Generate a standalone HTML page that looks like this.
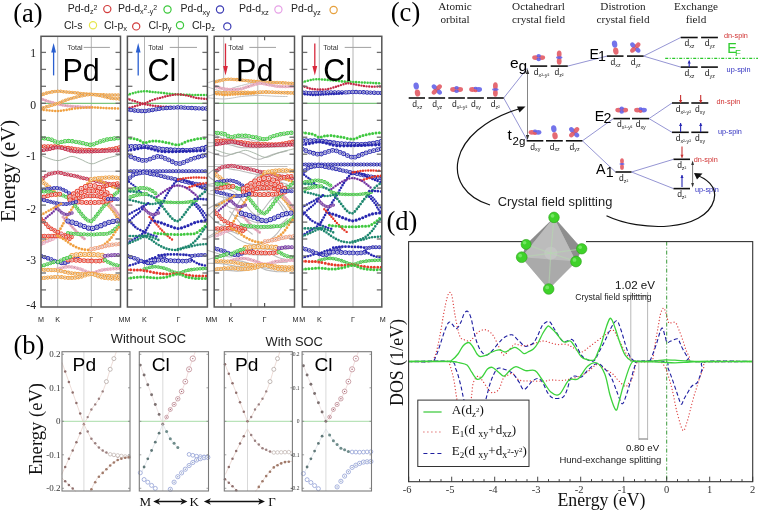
<!DOCTYPE html><html><head><meta charset="utf-8"><style>html,body{margin:0;padding:0;background:#fff;width:758px;height:511px;overflow:hidden}svg{display:block;will-change:transform}</style></head><body>
<svg width="758" height="511" viewBox="0 0 758 511">
<rect width="758" height="511" fill="#fff"/>
<text x="67.7" y="12.2" font-family='"Liberation Sans",sans-serif' font-size="10.5" fill="#222" text-anchor="start" >Pd-d<tspan font-size="7" dy="2">z</tspan><tspan font-size="7" dy="-4">2</tspan></text>
<circle cx="107.3" cy="9.1" r="3.6" fill="none" stroke="#d23c3c" stroke-width="1.2"/>
<text x="117.9" y="12.2" font-family='"Liberation Sans",sans-serif' font-size="10.5" fill="#222" text-anchor="start" >Pd-d<tspan font-size="7" dy="2">x</tspan><tspan font-size="7" dy="-4">2</tspan><tspan font-size="7" dy="4">-y</tspan><tspan font-size="7" dy="-4">2</tspan></text>
<circle cx="167.5" cy="9.5" r="3.6" fill="none" stroke="#3cc83c" stroke-width="1.2"/>
<text x="180.4" y="12.2" font-family='"Liberation Sans",sans-serif' font-size="10.5" fill="#222" text-anchor="start" >Pd-d<tspan font-size="7.5" dy="2.5">xy</tspan></text>
<circle cx="220" cy="9.5" r="3.6" fill="none" stroke="#3c3cb4" stroke-width="1.2"/>
<text x="239" y="12.2" font-family='"Liberation Sans",sans-serif' font-size="10.5" fill="#222" text-anchor="start" >Pd-d<tspan font-size="7.5" dy="2.5">xz</tspan></text>
<circle cx="278.4" cy="9.5" r="3.6" fill="none" stroke="#e6a0e6" stroke-width="1.2"/>
<text x="291" y="12.2" font-family='"Liberation Sans",sans-serif' font-size="10.5" fill="#222" text-anchor="start" >Pd-d<tspan font-size="7.5" dy="2.5">yz</tspan></text>
<circle cx="333.6" cy="10" r="3.6" fill="none" stroke="#e6a03c" stroke-width="1.2"/>
<text x="63.9" y="28.5" font-family='"Liberation Sans",sans-serif' font-size="10.5" fill="#222" text-anchor="start" >Cl-s</text>
<circle cx="93" cy="25.3" r="3.6" fill="none" stroke="#e6e650" stroke-width="1.2"/>
<text x="104" y="28.5" font-family='"Liberation Sans",sans-serif' font-size="10.5" fill="#222" text-anchor="start" >Cl-p<tspan font-size="7.5" dy="2.5">x</tspan></text>
<circle cx="136.2" cy="26.4" r="3.6" fill="none" stroke="#d23c3c" stroke-width="1.2"/>
<text x="148.5" y="28.5" font-family='"Liberation Sans",sans-serif' font-size="10.5" fill="#222" text-anchor="start" >Cl-p<tspan font-size="7.5" dy="2.5">y</tspan></text>
<circle cx="180" cy="25.3" r="3.6" fill="none" stroke="#3cc83c" stroke-width="1.2"/>
<text x="191.9" y="28.5" font-family='"Liberation Sans",sans-serif' font-size="10.5" fill="#222" text-anchor="start" >Cl-p<tspan font-size="7.5" dy="2.5">z</tspan></text>
<circle cx="227.3" cy="26.4" r="3.6" fill="none" stroke="#3c3cb4" stroke-width="1.2"/>
<line x1="57.7" y1="36.3" x2="57.7" y2="307" stroke="#b4b4b4" stroke-width="1"/>
<line x1="91.3" y1="36.3" x2="91.3" y2="307" stroke="#b4b4b4" stroke-width="1"/>
<line x1="41" y1="103.3" x2="120.5" y2="103.3" stroke="#7cc47c" stroke-width="1.2"/>
<line x1="144.5" y1="36.3" x2="144.5" y2="307" stroke="#b4b4b4" stroke-width="1"/>
<line x1="178.4" y1="36.3" x2="178.4" y2="307" stroke="#b4b4b4" stroke-width="1"/>
<line x1="127.4" y1="103.3" x2="207.4" y2="103.3" stroke="#7cc47c" stroke-width="1.2"/>
<line x1="223.7" y1="36.3" x2="223.7" y2="307" stroke="#b4b4b4" stroke-width="1"/>
<line x1="257.8" y1="36.3" x2="257.8" y2="307" stroke="#b4b4b4" stroke-width="1"/>
<line x1="214.2" y1="103.3" x2="294.5" y2="103.3" stroke="#7cc47c" stroke-width="1.2"/>
<line x1="319.3" y1="36.3" x2="319.3" y2="307" stroke="#b4b4b4" stroke-width="1"/>
<line x1="353" y1="36.3" x2="353" y2="307" stroke="#b4b4b4" stroke-width="1"/>
<line x1="302.3" y1="103.3" x2="381.8" y2="103.3" stroke="#7cc47c" stroke-width="1.2"/>
<clipPath id="cp0"><rect x="41" y="36.3" width="79.5" height="270.7"/></clipPath>
<clipPath id="cp1"><rect x="127.4" y="36.3" width="80.0" height="270.7"/></clipPath>
<clipPath id="cp2"><rect x="214.2" y="36.3" width="80.30000000000001" height="270.7"/></clipPath>
<clipPath id="cp3"><rect x="302.3" y="36.3" width="79.5" height="270.7"/></clipPath>
<clipPath id="cpo"><rect x="207.8" y="36.3" width="86.7" height="270.7"/></clipPath>
<g clip-path="url(#cpo)" opacity="0.9">
<path d="M207.2,134.6 C208.9,134.8 214.5,135.3 217.3,136.1 C220.1,136.9 222.0,138.8 224.1,139.2 C226.1,139.5 227.4,138.3 229.4,138.0 C231.5,137.8 233.6,137.5 236.5,137.6 C239.4,137.8 243.0,138.4 246.6,139.0 C250.2,139.6 254.6,141.3 258.0,141.2 C261.4,141.0 263.6,138.9 266.8,138.0 C269.9,137.1 273.4,136.2 276.9,135.6 C280.3,135.0 285.7,134.7 287.5,134.6" fill="none" stroke="#b4b4b4" stroke-width="1.1"/>
<path d="M207.2,142.7 C208.5,142.7 212.5,142.7 215.3,142.7 C218.1,142.7 221.4,142.7 224.1,142.9 C226.8,143.1 229.0,143.4 231.4,143.8 C233.8,144.1 236.0,144.4 238.5,144.7 C241.0,145.0 243.3,145.4 246.6,145.7 C249.8,145.9 254.6,146.0 258.0,146.1 C261.4,146.3 263.6,146.5 266.8,146.4 C269.9,146.3 273.4,146.0 276.9,145.5 C280.3,144.9 285.7,143.6 287.5,143.3" fill="none" stroke="#b4b4b4" stroke-width="1.1"/>
<path d="M207.2,146.7 C208.7,146.5 213.5,145.7 216.3,145.2 C219.1,144.7 221.5,143.8 224.1,143.8 C226.6,143.8 228.5,144.5 231.4,145.2 C234.4,145.8 237.1,147.2 241.5,147.6 C246.0,148.0 253.0,147.7 258.0,147.6 C263.1,147.5 266.9,147.3 271.8,147.1 C276.8,146.9 284.9,146.7 287.5,146.6" fill="none" stroke="#b4b4b4" stroke-width="1.1"/>
<path d="M207.2,151.2 C208.5,151.7 212.5,153.4 215.3,154.3 C218.1,155.1 221.4,156.3 224.1,156.3 C226.8,156.3 229.0,154.9 231.4,154.3 C233.8,153.6 236.0,152.2 238.5,152.3 C241.0,152.3 243.3,153.6 246.6,154.8 C249.8,155.9 254.6,159.0 258.0,159.4 C261.4,159.7 264.0,157.6 266.8,156.7 C269.6,155.7 271.4,154.8 274.9,153.8 C278.3,152.8 285.4,151.2 287.5,150.7" fill="none" stroke="#b4b4b4" stroke-width="1.1"/>
<path d="M207.2,166.5 C220.6,166.5 274.1,166.5 287.5,166.5" fill="none" stroke="#b4b4b4" stroke-width="1.1"/>
<path d="M207.2,174.9 C208.2,174.1 211.4,171.1 213.3,170.1 C215.1,169.0 216.5,168.9 218.3,168.5 C220.1,168.1 221.9,167.6 224.1,167.7 C226.3,167.8 228.5,168.6 231.4,169.1 C234.4,169.7 238.5,170.4 241.5,171.0 C244.6,171.7 246.9,172.3 249.6,172.9 C252.4,173.5 255.1,174.0 258.0,174.7 C260.9,175.3 263.6,176.1 266.8,176.8 C269.9,177.4 273.4,178.0 276.9,178.7 C280.3,179.3 285.7,180.3 287.5,180.6" fill="none" stroke="#b4b4b4" stroke-width="1.1"/>
<path d="M207.2,174.9 C207.7,175.3 209.1,176.8 210.2,177.7 C211.4,178.7 212.9,179.5 214.3,180.6 C215.6,181.7 216.8,183.0 218.3,184.4 C219.8,185.9 222.5,188.4 223.4,189.2" fill="none" stroke="#b4b4b4" stroke-width="1.1"/>
<path d="M207.2,237.4 C208.7,236.5 213.5,233.6 216.3,231.9 C219.1,230.1 222.0,228.8 224.1,226.8 C226.1,224.9 226.7,223.2 228.4,220.3 C230.1,217.3 232.3,212.9 234.5,209.2 C236.7,205.4 239.0,202.2 241.5,198.0 C244.1,193.9 246.9,188.3 249.6,184.4 C252.4,180.6 255.1,176.3 258.0,174.9 C260.9,173.4 264.0,175.0 266.8,175.8 C269.6,176.6 272.3,178.5 274.9,179.6 C277.4,180.8 279.8,181.7 281.9,182.5 C284.0,183.3 286.6,184.1 287.5,184.4" fill="none" stroke="#b4b4b4" stroke-width="1.1"/>
<path d="M272.9,197.0 C273.5,197.7 275.5,199.6 276.9,201.1 C278.2,202.6 279.8,204.4 280.9,206.1 C282.1,207.8 282.9,209.7 284.0,211.2 C285.1,212.7 286.9,214.5 287.5,215.2" fill="none" stroke="#b4b4b4" stroke-width="1.1"/>
<path d="M272.9,195.0 C273.7,195.7 276.2,197.4 277.9,199.1 C279.6,200.7 281.4,203.1 283.0,205.1 C284.6,207.1 286.7,210.2 287.5,211.2" fill="none" stroke="#b4b4b4" stroke-width="1.1"/>
<path d="M229.4,211.2 C230.3,212.0 232.5,214.0 234.5,216.2 C236.5,218.4 239.4,221.9 241.5,224.3 C243.7,226.7 245.8,228.7 247.6,230.4 C249.5,232.0 251.8,233.7 252.7,234.4" fill="none" stroke="#b4b4b4" stroke-width="1.1"/>
<path d="M258.0,174.4 C259.5,174.1 263.6,173.3 266.8,172.9 C269.9,172.6 273.4,172.5 276.9,172.5 C280.3,172.5 285.7,172.9 287.5,172.9" fill="none" stroke="#b4b4b4" stroke-width="1.1"/>
<path d="M266.8,182.5 C267.8,182.2 270.7,181.2 272.9,180.6 C275.0,180.0 277.5,179.2 279.9,178.7 C282.4,178.2 286.2,177.9 287.5,177.7" fill="none" stroke="#b4b4b4" stroke-width="1.1"/>
<path d="M207.2,184.7 C208.7,184.4 213.5,183.4 216.3,183.0 C219.1,182.6 221.7,182.3 224.1,182.5 C226.4,182.8 228.4,183.5 230.4,184.4 C232.5,185.4 235.5,187.6 236.5,188.3" fill="none" stroke="#b4b4b4" stroke-width="1.1"/>
<path d="M207.2,185.8 C208.7,185.9 213.5,185.9 216.3,186.3 C219.1,186.8 221.9,187.7 224.1,188.3 C226.3,188.8 227.7,189.1 229.4,189.7 C231.2,190.3 232.8,190.9 234.5,192.1 C236.2,193.3 237.5,194.7 239.5,197.0 C241.5,199.4 244.4,203.4 246.6,206.1 C248.8,208.8 250.8,211.7 252.7,213.2 C254.6,214.7 256.2,216.0 258.0,215.3 C259.9,214.6 261.8,211.5 263.8,209.2 C265.7,206.8 268.0,203.3 269.8,201.1 C271.7,198.9 273.0,198.0 274.9,196.0 C276.7,194.0 278.8,191.1 280.9,189.2 C283.0,187.3 286.4,185.2 287.5,184.4" fill="none" stroke="#b4b4b4" stroke-width="1.1"/>
<path d="M210.2,191.1 C211.1,190.9 213.6,190.1 215.3,189.7 C217.0,189.3 218.5,189.0 220.3,188.7 C222.2,188.5 225.4,188.3 226.4,188.3" fill="none" stroke="#b4b4b4" stroke-width="1.1"/>
<path d="M236.5,191.1 C237.5,190.4 240.4,188.3 242.6,186.8 C244.7,185.4 247.0,183.6 249.6,182.5 C252.2,181.4 255.1,180.1 258.0,180.1 C260.9,180.1 264.3,181.4 266.8,182.5 C269.3,183.6 271.0,185.4 272.9,186.8 C274.7,188.3 277.1,190.4 277.9,191.1" fill="none" stroke="#b4b4b4" stroke-width="1.1"/>
<path d="M236.5,194.0 C237.8,194.3 241.0,195.6 244.6,196.0 C248.2,196.4 254.0,196.5 258.0,196.5 C262.0,196.5 265.5,196.4 268.8,196.0 C272.1,195.6 276.4,194.3 277.9,194.0" fill="none" stroke="#b4b4b4" stroke-width="1.1"/>
<path d="M240.5,191.1 C242.0,190.3 246.7,187.3 249.6,186.3 C252.5,185.4 255.1,185.4 258.0,185.4 C260.9,185.4 264.0,185.4 266.8,186.3 C269.6,187.3 273.5,190.3 274.9,191.1" fill="none" stroke="#b4b4b4" stroke-width="1.1"/>
<path d="M242.6,193.0 C243.9,192.6 248.1,191.1 250.6,190.7 C253.2,190.2 255.5,190.2 258.0,190.2 C260.5,190.2 263.3,190.2 265.8,190.7 C268.3,191.1 271.7,192.6 272.9,193.0" fill="none" stroke="#b4b4b4" stroke-width="1.1"/>
<path d="M207.2,193.5 C208.7,193.9 213.5,194.8 216.3,195.5 C219.1,196.2 221.5,197.1 224.1,197.5 C226.6,198.0 229.0,198.1 231.4,198.0 C233.8,198.0 236.3,197.5 238.5,197.0 C240.7,196.5 243.6,195.3 244.6,195.0" fill="none" stroke="#b4b4b4" stroke-width="1.1"/>
<path d="M274.9,193.0 C275.9,193.0 278.8,193.0 280.9,193.0 C283.0,193.1 286.4,193.4 287.5,193.5" fill="none" stroke="#b4b4b4" stroke-width="1.1"/>
<path d="M234.5,215.2 C235.7,215.5 239.0,216.4 241.5,217.2 C244.1,218.1 246.9,219.3 249.6,220.3 C252.4,221.2 255.1,222.8 258.0,222.8 C260.9,222.8 263.6,221.4 266.8,220.3 C269.9,219.2 273.4,217.1 276.9,216.2 C280.3,215.3 285.7,215.0 287.5,214.7" fill="none" stroke="#b4b4b4" stroke-width="1.1"/>
<path d="M234.5,227.3 C236.2,227.5 240.6,228.1 244.6,228.3 C248.5,228.6 254.3,228.8 258.0,228.8 C261.7,228.8 264.0,228.5 266.8,228.3 C269.6,228.2 272.3,228.7 274.9,227.8 C277.4,227.0 279.8,224.9 281.9,223.3 C284.0,221.7 286.6,219.1 287.5,218.2" fill="none" stroke="#b4b4b4" stroke-width="1.1"/>
<path d="M222.4,201.1 C223.0,201.7 225.2,204.0 226.4,205.1 C227.6,206.2 228.2,207.0 229.4,207.6 C230.6,208.2 231.9,208.7 233.5,208.6 C235.0,208.6 237.7,207.4 238.5,207.1" fill="none" stroke="#b4b4b4" stroke-width="1.1"/>
<path d="M207.2,209.2 C208.7,208.3 213.5,205.6 216.3,204.1 C219.1,202.6 222.0,201.2 224.1,200.1 C226.1,198.9 227.7,197.5 228.4,197.0" fill="none" stroke="#b4b4b4" stroke-width="1.1"/>
<path d="M208.2,216.2 C209.1,215.4 211.6,212.7 213.3,211.2 C214.9,209.7 216.6,208.6 218.3,207.1 C220.0,205.6 222.5,202.9 223.4,202.1" fill="none" stroke="#b4b4b4" stroke-width="1.1"/>
<path d="M207.2,213.2 C208.0,214.0 210.7,216.7 212.3,218.2 C213.8,219.8 214.3,220.9 216.3,222.3 C218.3,223.6 221.5,225.1 224.1,226.3 C226.6,227.5 229.0,228.5 231.4,229.3 C233.8,230.2 237.3,231.0 238.5,231.4" fill="none" stroke="#b4b4b4" stroke-width="1.1"/>
<path d="M207.2,238.4 C208.7,237.8 213.5,235.7 216.3,234.4 C219.1,233.1 222.0,231.9 224.1,230.9 C226.1,229.9 227.7,228.8 228.4,228.3" fill="none" stroke="#b4b4b4" stroke-width="1.1"/>
<path d="M207.2,230.4 C208.7,230.4 213.5,230.4 216.3,230.4 C219.1,230.4 221.5,230.2 224.1,230.4 C226.6,230.5 229.0,230.7 231.4,231.4 C233.8,232.0 237.3,233.9 238.5,234.4" fill="none" stroke="#b4b4b4" stroke-width="1.1"/>
<path d="M224.1,230.4 C225.3,231.0 229.0,232.9 231.4,234.4 C233.8,235.9 235.8,237.9 238.5,239.4 C241.2,241.0 244.4,242.6 247.6,243.5 C250.9,244.3 255.3,244.8 258.0,244.5 C260.7,244.2 261.7,242.8 263.8,242.0 C265.8,241.1 268.1,240.9 270.3,239.4 C272.6,238.0 274.9,236.0 277.2,233.4 C279.5,230.7 282.4,225.8 284.2,223.6 C285.9,221.4 286.9,220.8 287.5,220.3" fill="none" stroke="#b4b4b4" stroke-width="1.1"/>
<path d="M258.0,243.5 C259.5,243.2 263.6,242.6 266.8,242.0 C269.9,241.3 273.4,240.0 276.9,239.4 C280.3,238.9 285.7,238.6 287.5,238.4" fill="none" stroke="#b4b4b4" stroke-width="1.1"/>
<path d="M207.2,250.2 C208.7,250.7 213.5,252.1 216.3,253.1 C219.1,254.0 221.5,255.3 224.1,255.9 C226.6,256.5 229.0,257.3 231.4,256.9 C233.8,256.4 236.3,254.2 238.5,253.1 C240.7,251.9 243.6,250.7 244.6,250.2" fill="none" stroke="#b4b4b4" stroke-width="1.1"/>
<path d="M238.5,249.7 C239.9,249.6 243.3,248.9 246.6,248.8 C249.8,248.6 254.6,248.7 258.0,248.8 C261.4,248.9 264.3,249.0 266.8,249.2 C269.3,249.5 271.8,250.0 272.9,250.2" fill="none" stroke="#b4b4b4" stroke-width="1.1"/>
<path d="M234.5,254.0 C236.5,254.1 242.7,254.3 246.6,254.5 C250.5,254.6 254.6,254.9 258.0,254.9 C261.4,255.0 264.3,255.2 266.8,254.9 C269.3,254.7 271.8,253.8 272.9,253.5" fill="none" stroke="#b4b4b4" stroke-width="1.1"/>
<path d="M224.4,255.9 C225.4,255.4 228.4,253.8 230.4,253.1 C232.5,252.3 235.5,251.5 236.5,251.2" fill="none" stroke="#b4b4b4" stroke-width="1.1"/>
<path d="M271.8,254.0 C273.0,254.6 276.3,256.9 278.9,257.8 C281.5,258.8 286.1,259.4 287.5,259.7" fill="none" stroke="#b4b4b4" stroke-width="1.1"/>
<path d="M207.2,259.7 C208.4,259.4 212.1,258.4 214.3,257.8 C216.5,257.2 219.3,256.2 220.3,255.9" fill="none" stroke="#b4b4b4" stroke-width="1.1"/>
<path d="M271.8,250.2 C273.2,250.0 277.3,249.4 279.9,249.2 C282.5,249.1 286.2,249.2 287.5,249.2" fill="none" stroke="#b4b4b4" stroke-width="1.1"/>
<path d="M224.1,262.6 C225.3,262.2 229.0,261.0 231.4,260.6 C233.8,260.3 236.0,260.3 238.5,260.6 C241.0,261.0 243.3,261.6 246.6,262.6 C249.8,263.5 254.6,266.1 258.0,266.4 C261.4,266.6 263.6,264.6 266.8,264.0 C269.9,263.3 273.4,262.9 276.9,262.6 C280.3,262.2 285.7,262.2 287.5,262.1" fill="none" stroke="#b4b4b4" stroke-width="1.1"/>
<path d="M207.2,263.2 C208.7,263.3 213.5,263.4 216.3,263.5 C219.1,263.6 220.7,263.5 224.1,264.0 C227.4,264.5 232.7,265.8 236.5,266.4 C240.2,266.9 243.0,267.2 246.6,267.3 C250.2,267.4 254.6,266.7 258.0,266.8 C261.4,267.0 263.6,267.9 266.8,268.2 C269.9,268.6 273.4,269.0 276.9,269.2 C280.3,269.4 285.7,269.2 287.5,269.2" fill="none" stroke="#b4b4b4" stroke-width="1.1"/>
<path d="M207.2,271.3 C210.0,271.1 219.2,270.2 224.1,270.1 C229.0,270.1 232.7,271.1 236.5,271.1 C240.2,271.1 243.0,270.8 246.6,270.1 C250.2,269.5 254.6,267.3 258.0,267.3 C261.4,267.3 263.6,269.4 266.8,270.1 C269.9,270.9 273.4,271.3 276.9,271.6 C280.3,271.8 285.7,271.6 287.5,271.6" fill="none" stroke="#b4b4b4" stroke-width="1.1"/>
<path d="M207.2,83.0 C208.5,82.6 212.5,81.1 215.3,80.5 C218.1,79.9 221.2,79.3 224.1,79.2 C226.9,79.1 229.5,79.7 232.5,80.0 C235.4,80.3 238.7,80.5 241.5,80.8 C244.4,81.1 246.9,81.5 249.6,81.8 C252.4,82.1 255.1,82.2 258.0,82.4 C260.9,82.6 263.6,82.7 266.8,82.8 C269.9,82.9 273.4,83.0 276.9,83.0 C280.3,83.0 285.7,83.0 287.5,83.0" fill="none" stroke="#bcbcbc" stroke-width="1"/>
<path d="M207.2,86.8 C208.5,87.2 212.5,88.6 215.3,89.5 C218.1,90.4 221.2,91.3 224.1,92.0 C226.9,92.7 229.5,93.2 232.5,93.6 C235.4,94.0 238.7,94.3 241.5,94.5 C244.4,94.7 246.9,94.9 249.6,95.0 C252.4,95.1 256.6,95.2 258.0,95.2" fill="none" stroke="#bcbcbc" stroke-width="1"/>
<path d="M207.2,96.5 C208.5,96.1 212.5,94.8 215.3,94.0 C218.1,93.2 221.2,92.5 224.1,91.5 C226.9,90.5 229.5,89.0 232.5,88.0 C235.4,87.0 238.7,86.2 241.5,85.5 C244.4,84.8 246.9,84.0 249.6,83.5 C252.4,83.0 255.1,82.4 258.0,82.4 C260.9,82.4 263.6,82.9 266.8,83.5 C269.9,84.1 273.4,85.4 276.9,86.0 C280.3,86.6 285.7,86.8 287.5,87.0" fill="none" stroke="#bcbcbc" stroke-width="1"/>
<path d="M207.2,97.6 C208.5,97.8 212.5,98.3 215.3,98.5 C218.1,98.7 221.2,99.1 224.1,99.0 C226.9,98.9 229.5,98.4 232.5,98.0 C235.4,97.6 237.3,96.9 241.5,96.5 C245.8,96.1 253.8,95.5 258.0,95.4 C262.2,95.3 263.6,95.7 266.8,95.8 C269.9,95.9 273.4,96.2 276.9,96.3 C280.3,96.4 285.7,96.5 287.5,96.5" fill="none" stroke="#bcbcbc" stroke-width="1"/>
</g>
<g clip-path="url(#cp0)">
<path d="M41.0,95.0 C42.3,94.6 46.2,93.1 49.0,92.5 C51.8,91.9 54.9,91.3 57.7,91.2 C60.5,91.1 63.1,91.7 66.0,92.0 C68.9,92.3 72.2,92.5 75.0,92.8 C77.8,93.1 80.3,93.5 83.0,93.8 C85.7,94.1 88.5,94.2 91.3,94.4 C94.1,94.6 96.9,94.7 100.0,94.8 C103.1,94.9 106.6,95.0 110.0,95.0 C113.4,95.0 118.8,95.0 120.5,95.0" fill="none" stroke="#f0a040" stroke-width="3.60" stroke-dasharray="0 2.88" stroke-linecap="round"/>
<path d="M41.0,95.0 C42.3,94.6 46.2,93.1 49.0,92.5 C51.8,91.9 54.9,91.3 57.7,91.2 C60.5,91.1 63.1,91.7 66.0,92.0 C68.9,92.3 72.2,92.5 75.0,92.8 C77.8,93.1 80.3,93.5 83.0,93.8 C85.7,94.1 88.5,94.2 91.3,94.4 C94.1,94.6 96.9,94.7 100.0,94.8 C103.1,94.9 106.6,95.0 110.0,95.0 C113.4,95.0 118.8,95.0 120.5,95.0" fill="none" stroke="#fae4c9" stroke-width="2.00" stroke-dasharray="0 2.88" stroke-linecap="round"/>
<path d="M41.0,95.0 C42.3,94.6 46.2,93.1 49.0,92.5 C51.8,91.9 54.9,91.3 57.7,91.2 C60.5,91.1 63.1,91.7 66.0,92.0 C68.9,92.3 72.2,92.5 75.0,92.8 C77.8,93.1 80.3,93.5 83.0,93.8 C85.7,94.1 88.5,94.2 91.3,94.4 C94.1,94.6 96.9,94.7 100.0,94.8 C103.1,94.9 106.6,95.0 110.0,95.0 C113.4,95.0 118.8,95.0 120.5,95.0" fill="none" stroke="#a8702c" stroke-width="1" stroke-dasharray="0 2.88" stroke-linecap="round"/>
<path d="M41.0,98.8 C42.3,99.2 46.2,100.6 49.0,101.5 C51.8,102.4 54.9,103.3 57.7,104.0 C60.5,104.7 63.1,105.2 66.0,105.6 C68.9,106.0 72.2,106.3 75.0,106.5 C77.8,106.7 80.3,106.9 83.0,107.0 C85.7,107.1 89.9,107.2 91.3,107.2" fill="none" stroke="#e8a0b8" stroke-width="3.20" stroke-dasharray="0 2.52" stroke-linecap="round"/>
<path d="M41.0,98.8 C42.3,99.2 46.2,100.6 49.0,101.5 C51.8,102.4 54.9,103.3 57.7,104.0 C60.5,104.7 63.1,105.2 66.0,105.6 C68.9,106.0 72.2,106.3 75.0,106.5 C77.8,106.7 80.3,106.9 83.0,107.0 C85.7,107.1 89.9,107.2 91.3,107.2" fill="none" stroke="#f8e4eb" stroke-width="1.60" stroke-dasharray="0 2.52" stroke-linecap="round"/>
<path d="M41.0,98.8 C42.3,99.2 46.2,100.6 49.0,101.5 C51.8,102.4 54.9,103.3 57.7,104.0 C60.5,104.7 63.1,105.2 66.0,105.6 C68.9,106.0 72.2,106.3 75.0,106.5 C77.8,106.7 80.3,106.9 83.0,107.0 C85.7,107.1 89.9,107.2 91.3,107.2" fill="none" stroke="#a27080" stroke-width="1" stroke-dasharray="0 2.52" stroke-linecap="round"/>
<path d="M41.0,108.5 C42.3,108.1 46.2,106.8 49.0,106.0 C51.8,105.2 54.9,104.5 57.7,103.5 C60.5,102.5 63.1,101.0 66.0,100.0 C68.9,99.0 72.2,98.2 75.0,97.5 C77.8,96.8 80.3,96.0 83.0,95.5 C85.7,95.0 88.5,94.4 91.3,94.4 C94.1,94.4 96.9,94.9 100.0,95.5 C103.1,96.1 106.6,97.4 110.0,98.0 C113.4,98.6 118.8,98.8 120.5,99.0" fill="none" stroke="#f0a040" stroke-width="3.60" stroke-dasharray="0 2.88" stroke-linecap="round"/>
<path d="M41.0,108.5 C42.3,108.1 46.2,106.8 49.0,106.0 C51.8,105.2 54.9,104.5 57.7,103.5 C60.5,102.5 63.1,101.0 66.0,100.0 C68.9,99.0 72.2,98.2 75.0,97.5 C77.8,96.8 80.3,96.0 83.0,95.5 C85.7,95.0 88.5,94.4 91.3,94.4 C94.1,94.4 96.9,94.9 100.0,95.5 C103.1,96.1 106.6,97.4 110.0,98.0 C113.4,98.6 118.8,98.8 120.5,99.0" fill="none" stroke="#fae4c9" stroke-width="2.00" stroke-dasharray="0 2.88" stroke-linecap="round"/>
<path d="M41.0,108.5 C42.3,108.1 46.2,106.8 49.0,106.0 C51.8,105.2 54.9,104.5 57.7,103.5 C60.5,102.5 63.1,101.0 66.0,100.0 C68.9,99.0 72.2,98.2 75.0,97.5 C77.8,96.8 80.3,96.0 83.0,95.5 C85.7,95.0 88.5,94.4 91.3,94.4 C94.1,94.4 96.9,94.9 100.0,95.5 C103.1,96.1 106.6,97.4 110.0,98.0 C113.4,98.6 118.8,98.8 120.5,99.0" fill="none" stroke="#a8702c" stroke-width="1" stroke-dasharray="0 2.88" stroke-linecap="round"/>
<path d="M41.0,109.6 C42.3,109.8 46.2,110.3 49.0,110.5 C51.8,110.7 54.9,111.1 57.7,111.0 C60.5,110.9 63.1,110.4 66.0,110.0 C68.9,109.6 70.8,108.9 75.0,108.5 C79.2,108.1 87.1,107.5 91.3,107.4 C95.5,107.3 96.9,107.7 100.0,107.8 C103.1,107.9 106.6,108.2 110.0,108.3 C113.4,108.4 118.8,108.5 120.5,108.5" fill="none" stroke="#f0a040" stroke-width="2.60" stroke-dasharray="0 2.86" stroke-linecap="round"/>
<path d="M41.0,137.9 C42.7,138.2 48.2,138.7 51.0,139.5 C53.8,140.3 55.7,142.4 57.7,142.7 C59.7,143.0 61.0,141.8 63.0,141.5 C65.0,141.2 67.2,140.9 70.0,141.1 C72.8,141.3 76.5,141.9 80.0,142.5 C83.5,143.1 88.0,145.0 91.3,144.8 C94.6,144.6 96.9,142.5 100.0,141.5 C103.1,140.5 106.6,139.6 110.0,139.0 C113.4,138.4 118.8,138.1 120.5,137.9" fill="none" stroke="#40c840" stroke-width="4.40" stroke-dasharray="0 3.60" stroke-linecap="round"/>
<path d="M41.0,137.9 C42.7,138.2 48.2,138.7 51.0,139.5 C53.8,140.3 55.7,142.4 57.7,142.7 C59.7,143.0 61.0,141.8 63.0,141.5 C65.0,141.2 67.2,140.9 70.0,141.1 C72.8,141.3 76.5,141.9 80.0,142.5 C83.5,143.1 88.0,145.0 91.3,144.8 C94.6,144.6 96.9,142.5 100.0,141.5 C103.1,140.5 106.6,139.6 110.0,139.0 C113.4,138.4 118.8,138.1 120.5,137.9" fill="none" stroke="#c9efc9" stroke-width="2.80" stroke-dasharray="0 3.60" stroke-linecap="round"/>
<path d="M41.0,137.9 C42.7,138.2 48.2,138.7 51.0,139.5 C53.8,140.3 55.7,142.4 57.7,142.7 C59.7,143.0 61.0,141.8 63.0,141.5 C65.0,141.2 67.2,140.9 70.0,141.1 C72.8,141.3 76.5,141.9 80.0,142.5 C83.5,143.1 88.0,145.0 91.3,144.8 C94.6,144.6 96.9,142.5 100.0,141.5 C103.1,140.5 106.6,139.6 110.0,139.0 C113.4,138.4 118.8,138.1 120.5,137.9" fill="none" stroke="#2c8c2c" stroke-width="1" stroke-dasharray="0 3.60" stroke-linecap="round"/>
<path d="M41.0,146.4 C42.3,146.4 46.2,146.4 49.0,146.4 C51.8,146.4 55.0,146.4 57.7,146.6 C60.4,146.8 62.6,147.2 65.0,147.5 C67.4,147.8 69.5,148.2 72.0,148.5 C74.5,148.8 76.8,149.2 80.0,149.5 C83.2,149.8 88.0,149.9 91.3,150.0 C94.6,150.1 96.9,150.4 100.0,150.3 C103.1,150.2 106.6,149.9 110.0,149.3 C113.4,148.8 118.8,147.4 120.5,147.0" fill="none" stroke="#e63a2a" stroke-width="4.20" stroke-dasharray="0 3.42" stroke-linecap="round"/>
<path d="M41.0,146.4 C42.3,146.4 46.2,146.4 49.0,146.4 C51.8,146.4 55.0,146.4 57.7,146.6 C60.4,146.8 62.6,147.2 65.0,147.5 C67.4,147.8 69.5,148.2 72.0,148.5 C74.5,148.8 76.8,149.2 80.0,149.5 C83.2,149.8 88.0,149.9 91.3,150.0 C94.6,150.1 96.9,150.4 100.0,150.3 C103.1,150.2 106.6,149.9 110.0,149.3 C113.4,148.8 118.8,147.4 120.5,147.0" fill="none" stroke="#f8c7c3" stroke-width="2.60" stroke-dasharray="0 3.42" stroke-linecap="round"/>
<path d="M41.0,146.4 C42.3,146.4 46.2,146.4 49.0,146.4 C51.8,146.4 55.0,146.4 57.7,146.6 C60.4,146.8 62.6,147.2 65.0,147.5 C67.4,147.8 69.5,148.2 72.0,148.5 C74.5,148.8 76.8,149.2 80.0,149.5 C83.2,149.8 88.0,149.9 91.3,150.0 C94.6,150.1 96.9,150.4 100.0,150.3 C103.1,150.2 106.6,149.9 110.0,149.3 C113.4,148.8 118.8,147.4 120.5,147.0" fill="none" stroke="#a1281d" stroke-width="1" stroke-dasharray="0 3.42" stroke-linecap="round"/>
<path d="M41.0,150.6 C42.5,150.3 47.2,149.5 50.0,149.0 C52.8,148.5 55.2,147.5 57.7,147.5 C60.2,147.5 62.1,148.3 65.0,149.0 C67.9,149.7 70.6,151.1 75.0,151.5 C79.4,151.9 86.3,151.6 91.3,151.5 C96.3,151.4 100.1,151.2 105.0,151.0 C109.9,150.8 117.9,150.6 120.5,150.5" fill="none" stroke="#c42846" stroke-width="3.80" stroke-dasharray="0 3.06" stroke-linecap="round"/>
<path d="M41.0,150.6 C42.5,150.3 47.2,149.5 50.0,149.0 C52.8,148.5 55.2,147.5 57.7,147.5 C60.2,147.5 62.1,148.3 65.0,149.0 C67.9,149.7 70.6,151.1 75.0,151.5 C79.4,151.9 86.3,151.6 91.3,151.5 C96.3,151.4 100.1,151.2 105.0,151.0 C109.9,150.8 117.9,150.6 120.5,150.5" fill="none" stroke="#eec2cb" stroke-width="2.20" stroke-dasharray="0 3.06" stroke-linecap="round"/>
<path d="M41.0,150.6 C42.5,150.3 47.2,149.5 50.0,149.0 C52.8,148.5 55.2,147.5 57.7,147.5 C60.2,147.5 62.1,148.3 65.0,149.0 C67.9,149.7 70.6,151.1 75.0,151.5 C79.4,151.9 86.3,151.6 91.3,151.5 C96.3,151.4 100.1,151.2 105.0,151.0 C109.9,150.8 117.9,150.6 120.5,150.5" fill="none" stroke="#891c31" stroke-width="1" stroke-dasharray="0 3.06" stroke-linecap="round"/>
<path d="M41.0,155.3 C42.3,155.8 46.2,157.6 49.0,158.5 C51.8,159.4 55.0,160.6 57.7,160.6 C60.4,160.6 62.6,159.2 65.0,158.5 C67.4,157.8 69.5,156.3 72.0,156.4 C74.5,156.5 76.8,157.8 80.0,159.0 C83.2,160.2 88.0,163.5 91.3,163.8 C94.6,164.1 97.2,162.0 100.0,161.0 C102.8,160.0 104.6,159.0 108.0,158.0 C111.4,157.0 118.4,155.3 120.5,154.8" fill="none" stroke="#a0b0a0" stroke-width="0.9"/>
<path d="M41.0,171.3 C54.2,171.3 107.2,171.3 120.5,171.3" fill="none" stroke="#c8c8c8" stroke-width="0.8"/>
<path d="M41.0,180.0 C42.0,179.2 45.2,176.1 47.0,175.0 C48.8,173.9 50.2,173.8 52.0,173.4 C53.8,173.0 55.5,172.4 57.7,172.5 C59.9,172.6 62.1,173.4 65.0,174.0 C67.9,174.6 72.0,175.3 75.0,176.0 C78.0,176.7 80.3,177.4 83.0,178.0 C85.7,178.6 88.5,179.1 91.3,179.8 C94.1,180.5 96.9,181.3 100.0,182.0 C103.1,182.7 106.6,183.3 110.0,184.0 C113.4,184.7 118.8,185.7 120.5,186.0" fill="none" stroke="#c42846" stroke-width="4.00" stroke-dasharray="0 3.24" stroke-linecap="round"/>
<path d="M41.0,180.0 C42.0,179.2 45.2,176.1 47.0,175.0 C48.8,173.9 50.2,173.8 52.0,173.4 C53.8,173.0 55.5,172.4 57.7,172.5 C59.9,172.6 62.1,173.4 65.0,174.0 C67.9,174.6 72.0,175.3 75.0,176.0 C78.0,176.7 80.3,177.4 83.0,178.0 C85.7,178.6 88.5,179.1 91.3,179.8 C94.1,180.5 96.9,181.3 100.0,182.0 C103.1,182.7 106.6,183.3 110.0,184.0 C113.4,184.7 118.8,185.7 120.5,186.0" fill="none" stroke="#eec2cb" stroke-width="2.40" stroke-dasharray="0 3.24" stroke-linecap="round"/>
<path d="M41.0,180.0 C42.0,179.2 45.2,176.1 47.0,175.0 C48.8,173.9 50.2,173.8 52.0,173.4 C53.8,173.0 55.5,172.4 57.7,172.5 C59.9,172.6 62.1,173.4 65.0,174.0 C67.9,174.6 72.0,175.3 75.0,176.0 C78.0,176.7 80.3,177.4 83.0,178.0 C85.7,178.6 88.5,179.1 91.3,179.8 C94.1,180.5 96.9,181.3 100.0,182.0 C103.1,182.7 106.6,183.3 110.0,184.0 C113.4,184.7 118.8,185.7 120.5,186.0" fill="none" stroke="#891c31" stroke-width="1" stroke-dasharray="0 3.24" stroke-linecap="round"/>
<path d="M41.0,180.0 C41.5,180.5 42.8,182.0 44.0,183.0 C45.2,184.0 46.7,184.8 48.0,186.0 C49.3,187.2 50.5,188.5 52.0,190.0 C53.5,191.5 56.2,194.2 57.0,195.0" fill="none" stroke="#f0a040" stroke-width="4.40" stroke-dasharray="0 3.60" stroke-linecap="round"/>
<path d="M41.0,180.0 C41.5,180.5 42.8,182.0 44.0,183.0 C45.2,184.0 46.7,184.8 48.0,186.0 C49.3,187.2 50.5,188.5 52.0,190.0 C53.5,191.5 56.2,194.2 57.0,195.0" fill="none" stroke="#fae4c9" stroke-width="2.80" stroke-dasharray="0 3.60" stroke-linecap="round"/>
<path d="M41.0,180.0 C41.5,180.5 42.8,182.0 44.0,183.0 C45.2,184.0 46.7,184.8 48.0,186.0 C49.3,187.2 50.5,188.5 52.0,190.0 C53.5,191.5 56.2,194.2 57.0,195.0" fill="none" stroke="#a8702c" stroke-width="1" stroke-dasharray="0 3.60" stroke-linecap="round"/>
<path d="M41.0,243.0 C42.5,242.1 47.2,239.2 50.0,237.5 C52.8,235.8 55.7,234.4 57.7,232.5 C59.7,230.6 60.3,228.9 62.0,226.0 C63.7,223.1 65.8,218.7 68.0,215.0 C70.2,211.3 72.5,208.2 75.0,204.0 C77.5,199.8 80.3,194.0 83.0,190.0 C85.7,186.0 88.5,181.5 91.3,180.0 C94.1,178.5 97.2,180.2 100.0,181.0 C102.8,181.8 105.5,183.8 108.0,185.0 C110.5,186.2 112.9,187.2 115.0,188.0 C117.1,188.8 119.6,189.7 120.5,190.0" fill="none" stroke="#f0a040" stroke-width="2.80" stroke-dasharray="0 3.08" stroke-linecap="round"/>
<path d="M106.0,203.0 C106.7,203.7 108.7,205.5 110.0,207.0 C111.3,208.5 112.8,210.3 114.0,212.0 C115.2,213.7 115.9,215.5 117.0,217.0 C118.1,218.5 119.9,220.3 120.5,221.0" fill="none" stroke="#f0a040" stroke-width="3.60" stroke-dasharray="0 2.88" stroke-linecap="round"/>
<path d="M106.0,203.0 C106.7,203.7 108.7,205.5 110.0,207.0 C111.3,208.5 112.8,210.3 114.0,212.0 C115.2,213.7 115.9,215.5 117.0,217.0 C118.1,218.5 119.9,220.3 120.5,221.0" fill="none" stroke="#fae4c9" stroke-width="2.00" stroke-dasharray="0 2.88" stroke-linecap="round"/>
<path d="M106.0,203.0 C106.7,203.7 108.7,205.5 110.0,207.0 C111.3,208.5 112.8,210.3 114.0,212.0 C115.2,213.7 115.9,215.5 117.0,217.0 C118.1,218.5 119.9,220.3 120.5,221.0" fill="none" stroke="#a8702c" stroke-width="1" stroke-dasharray="0 2.88" stroke-linecap="round"/>
<path d="M106.0,201.0 C106.8,201.7 109.3,203.3 111.0,205.0 C112.7,206.7 114.4,209.0 116.0,211.0 C117.6,213.0 119.8,216.0 120.5,217.0" fill="none" stroke="#e8a0b8" stroke-width="3.00" stroke-dasharray="0 2.34" stroke-linecap="round"/>
<path d="M106.0,201.0 C106.8,201.7 109.3,203.3 111.0,205.0 C112.7,206.7 114.4,209.0 116.0,211.0 C117.6,213.0 119.8,216.0 120.5,217.0" fill="none" stroke="#f8e4eb" stroke-width="1.40" stroke-dasharray="0 2.34" stroke-linecap="round"/>
<path d="M106.0,201.0 C106.8,201.7 109.3,203.3 111.0,205.0 C112.7,206.7 114.4,209.0 116.0,211.0 C117.6,213.0 119.8,216.0 120.5,217.0" fill="none" stroke="#a27080" stroke-width="1" stroke-dasharray="0 2.34" stroke-linecap="round"/>
<path d="M63.0,217.0 C63.8,217.8 66.0,219.8 68.0,222.0 C70.0,224.2 72.8,227.7 75.0,230.0 C77.2,232.3 79.2,234.3 81.0,236.0 C82.8,237.7 85.2,239.3 86.0,240.0" fill="none" stroke="#e8a0b8" stroke-width="3.00" stroke-dasharray="0 2.34" stroke-linecap="round"/>
<path d="M63.0,217.0 C63.8,217.8 66.0,219.8 68.0,222.0 C70.0,224.2 72.8,227.7 75.0,230.0 C77.2,232.3 79.2,234.3 81.0,236.0 C82.8,237.7 85.2,239.3 86.0,240.0" fill="none" stroke="#f8e4eb" stroke-width="1.40" stroke-dasharray="0 2.34" stroke-linecap="round"/>
<path d="M63.0,217.0 C63.8,217.8 66.0,219.8 68.0,222.0 C70.0,224.2 72.8,227.7 75.0,230.0 C77.2,232.3 79.2,234.3 81.0,236.0 C82.8,237.7 85.2,239.3 86.0,240.0" fill="none" stroke="#a27080" stroke-width="1" stroke-dasharray="0 2.34" stroke-linecap="round"/>
<path d="M91.3,179.5 C92.8,179.2 96.9,178.3 100.0,178.0 C103.1,177.7 106.6,177.5 110.0,177.5 C113.4,177.5 118.8,177.9 120.5,178.0" fill="none" stroke="#f0a040" stroke-width="4.40" stroke-dasharray="0 3.60" stroke-linecap="round"/>
<path d="M91.3,179.5 C92.8,179.2 96.9,178.3 100.0,178.0 C103.1,177.7 106.6,177.5 110.0,177.5 C113.4,177.5 118.8,177.9 120.5,178.0" fill="none" stroke="#fae4c9" stroke-width="2.80" stroke-dasharray="0 3.60" stroke-linecap="round"/>
<path d="M91.3,179.5 C92.8,179.2 96.9,178.3 100.0,178.0 C103.1,177.7 106.6,177.5 110.0,177.5 C113.4,177.5 118.8,177.9 120.5,178.0" fill="none" stroke="#a8702c" stroke-width="1" stroke-dasharray="0 3.60" stroke-linecap="round"/>
<path d="M100.0,188.0 C101.0,187.7 103.8,186.7 106.0,186.0 C108.2,185.3 110.6,184.5 113.0,184.0 C115.4,183.5 119.2,183.2 120.5,183.0" fill="none" stroke="#e63a2a" stroke-width="4.40" stroke-dasharray="0 3.60" stroke-linecap="round"/>
<path d="M100.0,188.0 C101.0,187.7 103.8,186.7 106.0,186.0 C108.2,185.3 110.6,184.5 113.0,184.0 C115.4,183.5 119.2,183.2 120.5,183.0" fill="none" stroke="#f8c7c3" stroke-width="2.80" stroke-dasharray="0 3.60" stroke-linecap="round"/>
<path d="M100.0,188.0 C101.0,187.7 103.8,186.7 106.0,186.0 C108.2,185.3 110.6,184.5 113.0,184.0 C115.4,183.5 119.2,183.2 120.5,183.0" fill="none" stroke="#a1281d" stroke-width="1" stroke-dasharray="0 3.60" stroke-linecap="round"/>
<path d="M41.0,190.3 C42.5,190.0 47.2,188.9 50.0,188.5 C52.8,188.1 55.4,187.8 57.7,188.0 C60.0,188.2 62.0,189.0 64.0,190.0 C66.0,191.0 69.0,193.3 70.0,194.0" fill="none" stroke="#2828b0" stroke-width="4.00" stroke-dasharray="0 3.24" stroke-linecap="round"/>
<path d="M41.0,190.3 C42.5,190.0 47.2,188.9 50.0,188.5 C52.8,188.1 55.4,187.8 57.7,188.0 C60.0,188.2 62.0,189.0 64.0,190.0 C66.0,191.0 69.0,193.3 70.0,194.0" fill="none" stroke="#c2c2e8" stroke-width="2.40" stroke-dasharray="0 3.24" stroke-linecap="round"/>
<path d="M41.0,190.3 C42.5,190.0 47.2,188.9 50.0,188.5 C52.8,188.1 55.4,187.8 57.7,188.0 C60.0,188.2 62.0,189.0 64.0,190.0 C66.0,191.0 69.0,193.3 70.0,194.0" fill="none" stroke="#1c1c7b" stroke-width="1" stroke-dasharray="0 3.24" stroke-linecap="round"/>
<path d="M41.0,191.4 C42.5,191.5 47.2,191.6 50.0,192.0 C52.8,192.4 55.5,193.4 57.7,194.0 C59.9,194.6 61.3,194.8 63.0,195.5 C64.7,196.2 66.3,196.8 68.0,198.0 C69.7,199.2 71.0,200.7 73.0,203.0 C75.0,205.3 77.8,209.3 80.0,212.0 C82.2,214.7 84.1,217.5 86.0,219.0 C87.9,220.5 89.5,221.8 91.3,221.1 C93.1,220.4 95.0,217.3 97.0,215.0 C99.0,212.7 101.2,209.2 103.0,207.0 C104.8,204.8 106.2,204.0 108.0,202.0 C109.8,200.0 111.9,197.0 114.0,195.0 C116.1,193.0 119.4,190.8 120.5,190.0" fill="none" stroke="#40c840" stroke-width="4.00" stroke-dasharray="0 3.24" stroke-linecap="round"/>
<path d="M41.0,191.4 C42.5,191.5 47.2,191.6 50.0,192.0 C52.8,192.4 55.5,193.4 57.7,194.0 C59.9,194.6 61.3,194.8 63.0,195.5 C64.7,196.2 66.3,196.8 68.0,198.0 C69.7,199.2 71.0,200.7 73.0,203.0 C75.0,205.3 77.8,209.3 80.0,212.0 C82.2,214.7 84.1,217.5 86.0,219.0 C87.9,220.5 89.5,221.8 91.3,221.1 C93.1,220.4 95.0,217.3 97.0,215.0 C99.0,212.7 101.2,209.2 103.0,207.0 C104.8,204.8 106.2,204.0 108.0,202.0 C109.8,200.0 111.9,197.0 114.0,195.0 C116.1,193.0 119.4,190.8 120.5,190.0" fill="none" stroke="#c9efc9" stroke-width="2.40" stroke-dasharray="0 3.24" stroke-linecap="round"/>
<path d="M41.0,191.4 C42.5,191.5 47.2,191.6 50.0,192.0 C52.8,192.4 55.5,193.4 57.7,194.0 C59.9,194.6 61.3,194.8 63.0,195.5 C64.7,196.2 66.3,196.8 68.0,198.0 C69.7,199.2 71.0,200.7 73.0,203.0 C75.0,205.3 77.8,209.3 80.0,212.0 C82.2,214.7 84.1,217.5 86.0,219.0 C87.9,220.5 89.5,221.8 91.3,221.1 C93.1,220.4 95.0,217.3 97.0,215.0 C99.0,212.7 101.2,209.2 103.0,207.0 C104.8,204.8 106.2,204.0 108.0,202.0 C109.8,200.0 111.9,197.0 114.0,195.0 C116.1,193.0 119.4,190.8 120.5,190.0" fill="none" stroke="#2c8c2c" stroke-width="1" stroke-dasharray="0 3.24" stroke-linecap="round"/>
<path d="M44.0,197.0 C44.8,196.8 47.3,195.9 49.0,195.5 C50.7,195.1 52.2,194.8 54.0,194.5 C55.8,194.2 59.0,194.1 60.0,194.0" fill="none" stroke="#e63a2a" stroke-width="4.80" stroke-dasharray="0 3.96" stroke-linecap="round"/>
<path d="M44.0,197.0 C44.8,196.8 47.3,195.9 49.0,195.5 C50.7,195.1 52.2,194.8 54.0,194.5 C55.8,194.2 59.0,194.1 60.0,194.0" fill="none" stroke="#f8c7c3" stroke-width="3.20" stroke-dasharray="0 3.96" stroke-linecap="round"/>
<path d="M44.0,197.0 C44.8,196.8 47.3,195.9 49.0,195.5 C50.7,195.1 52.2,194.8 54.0,194.5 C55.8,194.2 59.0,194.1 60.0,194.0" fill="none" stroke="#a1281d" stroke-width="1" stroke-dasharray="0 3.96" stroke-linecap="round"/>
<path d="M70.0,197.0 C71.0,196.2 73.8,194.0 76.0,192.5 C78.2,191.0 80.5,189.2 83.0,188.0 C85.5,186.8 88.5,185.5 91.3,185.5 C94.1,185.5 97.5,186.8 100.0,188.0 C102.5,189.2 104.2,191.0 106.0,192.5 C107.8,194.0 110.2,196.2 111.0,197.0" fill="none" stroke="#e63a2a" stroke-width="5.60" stroke-dasharray="0 4.68" stroke-linecap="round"/>
<path d="M70.0,197.0 C71.0,196.2 73.8,194.0 76.0,192.5 C78.2,191.0 80.5,189.2 83.0,188.0 C85.5,186.8 88.5,185.5 91.3,185.5 C94.1,185.5 97.5,186.8 100.0,188.0 C102.5,189.2 104.2,191.0 106.0,192.5 C107.8,194.0 110.2,196.2 111.0,197.0" fill="none" stroke="#f8c7c3" stroke-width="4.00" stroke-dasharray="0 4.68" stroke-linecap="round"/>
<path d="M70.0,197.0 C71.0,196.2 73.8,194.0 76.0,192.5 C78.2,191.0 80.5,189.2 83.0,188.0 C85.5,186.8 88.5,185.5 91.3,185.5 C94.1,185.5 97.5,186.8 100.0,188.0 C102.5,189.2 104.2,191.0 106.0,192.5 C107.8,194.0 110.2,196.2 111.0,197.0" fill="none" stroke="#a1281d" stroke-width="1" stroke-dasharray="0 4.68" stroke-linecap="round"/>
<path d="M70.0,200.0 C71.3,200.3 74.5,201.6 78.0,202.0 C81.5,202.4 87.3,202.5 91.3,202.5 C95.3,202.5 98.7,202.4 102.0,202.0 C105.3,201.6 109.5,200.3 111.0,200.0" fill="none" stroke="#e63a2a" stroke-width="5.00" stroke-dasharray="0 4.14" stroke-linecap="round"/>
<path d="M70.0,200.0 C71.3,200.3 74.5,201.6 78.0,202.0 C81.5,202.4 87.3,202.5 91.3,202.5 C95.3,202.5 98.7,202.4 102.0,202.0 C105.3,201.6 109.5,200.3 111.0,200.0" fill="none" stroke="#f8c7c3" stroke-width="3.40" stroke-dasharray="0 4.14" stroke-linecap="round"/>
<path d="M70.0,200.0 C71.3,200.3 74.5,201.6 78.0,202.0 C81.5,202.4 87.3,202.5 91.3,202.5 C95.3,202.5 98.7,202.4 102.0,202.0 C105.3,201.6 109.5,200.3 111.0,200.0" fill="none" stroke="#a1281d" stroke-width="1" stroke-dasharray="0 4.14" stroke-linecap="round"/>
<path d="M74.0,197.0 C75.5,196.2 80.1,193.0 83.0,192.0 C85.9,191.0 88.5,191.0 91.3,191.0 C94.1,191.0 97.2,191.0 100.0,192.0 C102.8,193.0 106.7,196.2 108.0,197.0" fill="none" stroke="#e63a2a" stroke-width="5.00" stroke-dasharray="0 4.14" stroke-linecap="round"/>
<path d="M74.0,197.0 C75.5,196.2 80.1,193.0 83.0,192.0 C85.9,191.0 88.5,191.0 91.3,191.0 C94.1,191.0 97.2,191.0 100.0,192.0 C102.8,193.0 106.7,196.2 108.0,197.0" fill="none" stroke="#f8c7c3" stroke-width="3.40" stroke-dasharray="0 4.14" stroke-linecap="round"/>
<path d="M74.0,197.0 C75.5,196.2 80.1,193.0 83.0,192.0 C85.9,191.0 88.5,191.0 91.3,191.0 C94.1,191.0 97.2,191.0 100.0,192.0 C102.8,193.0 106.7,196.2 108.0,197.0" fill="none" stroke="#a1281d" stroke-width="1" stroke-dasharray="0 4.14" stroke-linecap="round"/>
<path d="M76.0,199.0 C77.3,198.6 81.5,197.0 84.0,196.5 C86.5,196.0 88.8,196.0 91.3,196.0 C93.8,196.0 96.5,196.0 99.0,196.5 C101.5,197.0 104.8,198.6 106.0,199.0" fill="none" stroke="#e63a2a" stroke-width="4.40" stroke-dasharray="0 3.60" stroke-linecap="round"/>
<path d="M76.0,199.0 C77.3,198.6 81.5,197.0 84.0,196.5 C86.5,196.0 88.8,196.0 91.3,196.0 C93.8,196.0 96.5,196.0 99.0,196.5 C101.5,197.0 104.8,198.6 106.0,199.0" fill="none" stroke="#f8c7c3" stroke-width="2.80" stroke-dasharray="0 3.60" stroke-linecap="round"/>
<path d="M76.0,199.0 C77.3,198.6 81.5,197.0 84.0,196.5 C86.5,196.0 88.8,196.0 91.3,196.0 C93.8,196.0 96.5,196.0 99.0,196.5 C101.5,197.0 104.8,198.6 106.0,199.0" fill="none" stroke="#a1281d" stroke-width="1" stroke-dasharray="0 3.60" stroke-linecap="round"/>
<path d="M41.0,199.5 C42.5,199.8 47.2,200.8 50.0,201.5 C52.8,202.2 55.2,203.1 57.7,203.5 C60.2,203.9 62.6,204.1 65.0,204.0 C67.4,203.9 69.8,203.5 72.0,203.0 C74.2,202.5 77.0,201.3 78.0,201.0" fill="none" stroke="#2828b0" stroke-width="4.00" stroke-dasharray="0 3.24" stroke-linecap="round"/>
<path d="M41.0,199.5 C42.5,199.8 47.2,200.8 50.0,201.5 C52.8,202.2 55.2,203.1 57.7,203.5 C60.2,203.9 62.6,204.1 65.0,204.0 C67.4,203.9 69.8,203.5 72.0,203.0 C74.2,202.5 77.0,201.3 78.0,201.0" fill="none" stroke="#c2c2e8" stroke-width="2.40" stroke-dasharray="0 3.24" stroke-linecap="round"/>
<path d="M41.0,199.5 C42.5,199.8 47.2,200.8 50.0,201.5 C52.8,202.2 55.2,203.1 57.7,203.5 C60.2,203.9 62.6,204.1 65.0,204.0 C67.4,203.9 69.8,203.5 72.0,203.0 C74.2,202.5 77.0,201.3 78.0,201.0" fill="none" stroke="#1c1c7b" stroke-width="1" stroke-dasharray="0 3.24" stroke-linecap="round"/>
<path d="M108.0,199.0 C109.0,199.0 111.9,198.9 114.0,199.0 C116.1,199.1 119.4,199.4 120.5,199.5" fill="none" stroke="#2828b0" stroke-width="4.00" stroke-dasharray="0 3.24" stroke-linecap="round"/>
<path d="M108.0,199.0 C109.0,199.0 111.9,198.9 114.0,199.0 C116.1,199.1 119.4,199.4 120.5,199.5" fill="none" stroke="#c2c2e8" stroke-width="2.40" stroke-dasharray="0 3.24" stroke-linecap="round"/>
<path d="M108.0,199.0 C109.0,199.0 111.9,198.9 114.0,199.0 C116.1,199.1 119.4,199.4 120.5,199.5" fill="none" stroke="#1c1c7b" stroke-width="1" stroke-dasharray="0 3.24" stroke-linecap="round"/>
<path d="M68.0,221.0 C69.2,221.3 72.5,222.2 75.0,223.0 C77.5,223.8 80.3,225.1 83.0,226.0 C85.7,226.9 88.5,228.5 91.3,228.5 C94.1,228.5 96.9,227.1 100.0,226.0 C103.1,224.9 106.6,222.9 110.0,222.0 C113.4,221.1 118.8,220.8 120.5,220.5" fill="none" stroke="#2828b0" stroke-width="5.20" stroke-dasharray="0 4.32" stroke-linecap="round"/>
<path d="M68.0,221.0 C69.2,221.3 72.5,222.2 75.0,223.0 C77.5,223.8 80.3,225.1 83.0,226.0 C85.7,226.9 88.5,228.5 91.3,228.5 C94.1,228.5 96.9,227.1 100.0,226.0 C103.1,224.9 106.6,222.9 110.0,222.0 C113.4,221.1 118.8,220.8 120.5,220.5" fill="none" stroke="#c2c2e8" stroke-width="3.60" stroke-dasharray="0 4.32" stroke-linecap="round"/>
<path d="M68.0,221.0 C69.2,221.3 72.5,222.2 75.0,223.0 C77.5,223.8 80.3,225.1 83.0,226.0 C85.7,226.9 88.5,228.5 91.3,228.5 C94.1,228.5 96.9,227.1 100.0,226.0 C103.1,224.9 106.6,222.9 110.0,222.0 C113.4,221.1 118.8,220.8 120.5,220.5" fill="none" stroke="#1c1c7b" stroke-width="1" stroke-dasharray="0 4.32" stroke-linecap="round"/>
<path d="M68.0,233.0 C69.7,233.2 74.1,233.8 78.0,234.0 C81.9,234.2 87.6,234.5 91.3,234.5 C95.0,234.5 97.2,234.2 100.0,234.0 C102.8,233.8 105.5,234.3 108.0,233.5 C110.5,232.7 112.9,230.6 115.0,229.0 C117.1,227.4 119.6,224.8 120.5,224.0" fill="none" stroke="#40c840" stroke-width="4.00" stroke-dasharray="0 3.24" stroke-linecap="round"/>
<path d="M68.0,233.0 C69.7,233.2 74.1,233.8 78.0,234.0 C81.9,234.2 87.6,234.5 91.3,234.5 C95.0,234.5 97.2,234.2 100.0,234.0 C102.8,233.8 105.5,234.3 108.0,233.5 C110.5,232.7 112.9,230.6 115.0,229.0 C117.1,227.4 119.6,224.8 120.5,224.0" fill="none" stroke="#c9efc9" stroke-width="2.40" stroke-dasharray="0 3.24" stroke-linecap="round"/>
<path d="M68.0,233.0 C69.7,233.2 74.1,233.8 78.0,234.0 C81.9,234.2 87.6,234.5 91.3,234.5 C95.0,234.5 97.2,234.2 100.0,234.0 C102.8,233.8 105.5,234.3 108.0,233.5 C110.5,232.7 112.9,230.6 115.0,229.0 C117.1,227.4 119.6,224.8 120.5,224.0" fill="none" stroke="#2c8c2c" stroke-width="1" stroke-dasharray="0 3.24" stroke-linecap="round"/>
<path d="M56.0,207.0 C56.7,207.7 58.8,209.9 60.0,211.0 C61.2,212.1 61.8,212.9 63.0,213.5 C64.2,214.1 65.5,214.6 67.0,214.5 C68.5,214.4 71.2,213.2 72.0,213.0" fill="none" stroke="#7030a0" stroke-width="3.40" stroke-dasharray="0 2.70" stroke-linecap="round"/>
<path d="M56.0,207.0 C56.7,207.7 58.8,209.9 60.0,211.0 C61.2,212.1 61.8,212.9 63.0,213.5 C64.2,214.1 65.5,214.6 67.0,214.5 C68.5,214.4 71.2,213.2 72.0,213.0" fill="none" stroke="#d6c5e4" stroke-width="1.80" stroke-dasharray="0 2.70" stroke-linecap="round"/>
<path d="M56.0,207.0 C56.7,207.7 58.8,209.9 60.0,211.0 C61.2,212.1 61.8,212.9 63.0,213.5 C64.2,214.1 65.5,214.6 67.0,214.5 C68.5,214.4 71.2,213.2 72.0,213.0" fill="none" stroke="#4e2170" stroke-width="1" stroke-dasharray="0 2.70" stroke-linecap="round"/>
<path d="M41.0,215.0 C42.5,214.2 47.2,211.5 50.0,210.0 C52.8,208.5 55.7,207.2 57.7,206.0 C59.7,204.8 61.3,203.5 62.0,203.0" fill="none" stroke="#f0a040" stroke-width="2.60" stroke-dasharray="0 2.86" stroke-linecap="round"/>
<path d="M42.0,222.0 C42.8,221.2 45.3,218.5 47.0,217.0 C48.7,215.5 50.3,214.5 52.0,213.0 C53.7,211.5 56.2,208.8 57.0,208.0" fill="none" stroke="#7030a0" stroke-width="2.40" stroke-dasharray="0 2.64" stroke-linecap="round"/>
<path d="M41.0,219.0 C41.8,219.8 44.5,222.5 46.0,224.0 C47.5,225.5 48.0,226.7 50.0,228.0 C52.0,229.3 55.2,230.8 57.7,232.0 C60.2,233.2 62.6,234.2 65.0,235.0 C67.4,235.8 70.8,236.7 72.0,237.0" fill="none" stroke="#e63a2a" stroke-width="4.40" stroke-dasharray="0 3.60" stroke-linecap="round"/>
<path d="M41.0,219.0 C41.8,219.8 44.5,222.5 46.0,224.0 C47.5,225.5 48.0,226.7 50.0,228.0 C52.0,229.3 55.2,230.8 57.7,232.0 C60.2,233.2 62.6,234.2 65.0,235.0 C67.4,235.8 70.8,236.7 72.0,237.0" fill="none" stroke="#f8c7c3" stroke-width="2.80" stroke-dasharray="0 3.60" stroke-linecap="round"/>
<path d="M41.0,219.0 C41.8,219.8 44.5,222.5 46.0,224.0 C47.5,225.5 48.0,226.7 50.0,228.0 C52.0,229.3 55.2,230.8 57.7,232.0 C60.2,233.2 62.6,234.2 65.0,235.0 C67.4,235.8 70.8,236.7 72.0,237.0" fill="none" stroke="#a1281d" stroke-width="1" stroke-dasharray="0 3.60" stroke-linecap="round"/>
<path d="M41.0,244.0 C42.5,243.3 47.2,241.2 50.0,240.0 C52.8,238.8 55.7,237.5 57.7,236.5 C59.7,235.5 61.3,234.4 62.0,234.0" fill="none" stroke="#e8a0b8" stroke-width="4.00" stroke-dasharray="0 3.24" stroke-linecap="round"/>
<path d="M41.0,244.0 C42.5,243.3 47.2,241.2 50.0,240.0 C52.8,238.8 55.7,237.5 57.7,236.5 C59.7,235.5 61.3,234.4 62.0,234.0" fill="none" stroke="#f8e4eb" stroke-width="2.40" stroke-dasharray="0 3.24" stroke-linecap="round"/>
<path d="M41.0,244.0 C42.5,243.3 47.2,241.2 50.0,240.0 C52.8,238.8 55.7,237.5 57.7,236.5 C59.7,235.5 61.3,234.4 62.0,234.0" fill="none" stroke="#a27080" stroke-width="1" stroke-dasharray="0 3.24" stroke-linecap="round"/>
<path d="M41.0,236.0 C42.5,236.0 47.2,236.0 50.0,236.0 C52.8,236.0 55.2,235.8 57.7,236.0 C60.2,236.2 62.6,236.3 65.0,237.0 C67.4,237.7 70.8,239.5 72.0,240.0" fill="none" stroke="#e63a2a" stroke-width="4.40" stroke-dasharray="0 3.60" stroke-linecap="round"/>
<path d="M41.0,236.0 C42.5,236.0 47.2,236.0 50.0,236.0 C52.8,236.0 55.2,235.8 57.7,236.0 C60.2,236.2 62.6,236.3 65.0,237.0 C67.4,237.7 70.8,239.5 72.0,240.0" fill="none" stroke="#f8c7c3" stroke-width="2.80" stroke-dasharray="0 3.60" stroke-linecap="round"/>
<path d="M41.0,236.0 C42.5,236.0 47.2,236.0 50.0,236.0 C52.8,236.0 55.2,235.8 57.7,236.0 C60.2,236.2 62.6,236.3 65.0,237.0 C67.4,237.7 70.8,239.5 72.0,240.0" fill="none" stroke="#a1281d" stroke-width="1" stroke-dasharray="0 3.60" stroke-linecap="round"/>
<path d="M57.7,236.0 C58.9,236.7 62.6,238.5 65.0,240.0 C67.4,241.5 69.3,243.5 72.0,245.0 C74.7,246.5 77.8,248.2 81.0,249.0 C84.2,249.8 88.6,250.2 91.3,250.0 C94.0,249.8 95.0,248.3 97.0,247.5 C99.0,246.7 101.3,246.4 103.5,245.0 C105.7,243.6 108.0,241.6 110.3,239.0 C112.6,236.4 115.5,231.5 117.2,229.3 C118.9,227.1 120.0,226.6 120.5,226.0" fill="none" stroke="#f0a040" stroke-width="2.80" stroke-dasharray="0 3.08" stroke-linecap="round"/>
<path d="M91.3,249.0 C92.8,248.8 96.9,248.2 100.0,247.5 C103.1,246.8 106.6,245.6 110.0,245.0 C113.4,244.4 118.8,244.2 120.5,244.0" fill="none" stroke="#f0a080" stroke-width="4.40" stroke-dasharray="0 3.60" stroke-linecap="round"/>
<path d="M91.3,249.0 C92.8,248.8 96.9,248.2 100.0,247.5 C103.1,246.8 106.6,245.6 110.0,245.0 C113.4,244.4 118.8,244.2 120.5,244.0" fill="none" stroke="#fae4db" stroke-width="2.80" stroke-dasharray="0 3.60" stroke-linecap="round"/>
<path d="M91.3,249.0 C92.8,248.8 96.9,248.2 100.0,247.5 C103.1,246.8 106.6,245.6 110.0,245.0 C113.4,244.4 118.8,244.2 120.5,244.0" fill="none" stroke="#a87059" stroke-width="1" stroke-dasharray="0 3.60" stroke-linecap="round"/>
<path d="M41.0,256.0 C42.5,256.5 47.2,258.0 50.0,259.0 C52.8,260.0 55.2,261.3 57.7,262.0 C60.2,262.7 62.6,263.5 65.0,263.0 C67.4,262.5 69.8,260.2 72.0,259.0 C74.2,257.8 77.0,256.5 78.0,256.0" fill="none" stroke="#2828b0" stroke-width="4.40" stroke-dasharray="0 3.60" stroke-linecap="round"/>
<path d="M41.0,256.0 C42.5,256.5 47.2,258.0 50.0,259.0 C52.8,260.0 55.2,261.3 57.7,262.0 C60.2,262.7 62.6,263.5 65.0,263.0 C67.4,262.5 69.8,260.2 72.0,259.0 C74.2,257.8 77.0,256.5 78.0,256.0" fill="none" stroke="#c2c2e8" stroke-width="2.80" stroke-dasharray="0 3.60" stroke-linecap="round"/>
<path d="M41.0,256.0 C42.5,256.5 47.2,258.0 50.0,259.0 C52.8,260.0 55.2,261.3 57.7,262.0 C60.2,262.7 62.6,263.5 65.0,263.0 C67.4,262.5 69.8,260.2 72.0,259.0 C74.2,257.8 77.0,256.5 78.0,256.0" fill="none" stroke="#1c1c7b" stroke-width="1" stroke-dasharray="0 3.60" stroke-linecap="round"/>
<path d="M72.0,255.5 C73.3,255.3 76.8,254.7 80.0,254.5 C83.2,254.3 88.0,254.4 91.3,254.5 C94.6,254.6 97.5,254.8 100.0,255.0 C102.5,255.2 105.0,255.8 106.0,256.0" fill="none" stroke="#f0a040" stroke-width="5.20" stroke-dasharray="0 4.32" stroke-linecap="round"/>
<path d="M72.0,255.5 C73.3,255.3 76.8,254.7 80.0,254.5 C83.2,254.3 88.0,254.4 91.3,254.5 C94.6,254.6 97.5,254.8 100.0,255.0 C102.5,255.2 105.0,255.8 106.0,256.0" fill="none" stroke="#fae4c9" stroke-width="3.60" stroke-dasharray="0 4.32" stroke-linecap="round"/>
<path d="M72.0,255.5 C73.3,255.3 76.8,254.7 80.0,254.5 C83.2,254.3 88.0,254.4 91.3,254.5 C94.6,254.6 97.5,254.8 100.0,255.0 C102.5,255.2 105.0,255.8 106.0,256.0" fill="none" stroke="#a8702c" stroke-width="1" stroke-dasharray="0 4.32" stroke-linecap="round"/>
<path d="M68.0,260.0 C70.0,260.1 76.1,260.3 80.0,260.5 C83.9,260.7 88.0,260.9 91.3,261.0 C94.6,261.1 97.5,261.2 100.0,261.0 C102.5,260.8 105.0,259.8 106.0,259.5" fill="none" stroke="#e63a2a" stroke-width="4.80" stroke-dasharray="0 3.96" stroke-linecap="round"/>
<path d="M68.0,260.0 C70.0,260.1 76.1,260.3 80.0,260.5 C83.9,260.7 88.0,260.9 91.3,261.0 C94.6,261.1 97.5,261.2 100.0,261.0 C102.5,260.8 105.0,259.8 106.0,259.5" fill="none" stroke="#f8c7c3" stroke-width="3.20" stroke-dasharray="0 3.96" stroke-linecap="round"/>
<path d="M68.0,260.0 C70.0,260.1 76.1,260.3 80.0,260.5 C83.9,260.7 88.0,260.9 91.3,261.0 C94.6,261.1 97.5,261.2 100.0,261.0 C102.5,260.8 105.0,259.8 106.0,259.5" fill="none" stroke="#a1281d" stroke-width="1" stroke-dasharray="0 3.96" stroke-linecap="round"/>
<path d="M58.0,262.0 C59.0,261.5 62.0,259.8 64.0,259.0 C66.0,258.2 69.0,257.3 70.0,257.0" fill="none" stroke="#40c840" stroke-width="4.00" stroke-dasharray="0 3.24" stroke-linecap="round"/>
<path d="M58.0,262.0 C59.0,261.5 62.0,259.8 64.0,259.0 C66.0,258.2 69.0,257.3 70.0,257.0" fill="none" stroke="#c9efc9" stroke-width="2.40" stroke-dasharray="0 3.24" stroke-linecap="round"/>
<path d="M58.0,262.0 C59.0,261.5 62.0,259.8 64.0,259.0 C66.0,258.2 69.0,257.3 70.0,257.0" fill="none" stroke="#2c8c2c" stroke-width="1" stroke-dasharray="0 3.24" stroke-linecap="round"/>
<path d="M105.0,260.0 C106.2,260.7 109.4,263.0 112.0,264.0 C114.6,265.0 119.1,265.7 120.5,266.0" fill="none" stroke="#40c840" stroke-width="4.00" stroke-dasharray="0 3.24" stroke-linecap="round"/>
<path d="M105.0,260.0 C106.2,260.7 109.4,263.0 112.0,264.0 C114.6,265.0 119.1,265.7 120.5,266.0" fill="none" stroke="#c9efc9" stroke-width="2.40" stroke-dasharray="0 3.24" stroke-linecap="round"/>
<path d="M105.0,260.0 C106.2,260.7 109.4,263.0 112.0,264.0 C114.6,265.0 119.1,265.7 120.5,266.0" fill="none" stroke="#2c8c2c" stroke-width="1" stroke-dasharray="0 3.24" stroke-linecap="round"/>
<path d="M41.0,266.0 C42.2,265.7 45.8,264.7 48.0,264.0 C50.2,263.3 53.0,262.3 54.0,262.0" fill="none" stroke="#40c840" stroke-width="4.00" stroke-dasharray="0 3.24" stroke-linecap="round"/>
<path d="M41.0,266.0 C42.2,265.7 45.8,264.7 48.0,264.0 C50.2,263.3 53.0,262.3 54.0,262.0" fill="none" stroke="#c9efc9" stroke-width="2.40" stroke-dasharray="0 3.24" stroke-linecap="round"/>
<path d="M41.0,266.0 C42.2,265.7 45.8,264.7 48.0,264.0 C50.2,263.3 53.0,262.3 54.0,262.0" fill="none" stroke="#2c8c2c" stroke-width="1" stroke-dasharray="0 3.24" stroke-linecap="round"/>
<path d="M105.0,256.0 C106.3,255.8 110.4,255.2 113.0,255.0 C115.6,254.8 119.2,255.0 120.5,255.0" fill="none" stroke="#7030a0" stroke-width="4.00" stroke-dasharray="0 3.24" stroke-linecap="round"/>
<path d="M105.0,256.0 C106.3,255.8 110.4,255.2 113.0,255.0 C115.6,254.8 119.2,255.0 120.5,255.0" fill="none" stroke="#d6c5e4" stroke-width="2.40" stroke-dasharray="0 3.24" stroke-linecap="round"/>
<path d="M105.0,256.0 C106.3,255.8 110.4,255.2 113.0,255.0 C115.6,254.8 119.2,255.0 120.5,255.0" fill="none" stroke="#4e2170" stroke-width="1" stroke-dasharray="0 3.24" stroke-linecap="round"/>
<path d="M57.7,269.0 C58.9,268.7 62.6,267.3 65.0,267.0 C67.4,266.7 69.5,266.7 72.0,267.0 C74.5,267.3 76.8,268.0 80.0,269.0 C83.2,270.0 88.0,272.8 91.3,273.0 C94.6,273.2 96.9,271.2 100.0,270.5 C103.1,269.8 106.6,269.3 110.0,269.0 C113.4,268.7 118.8,268.6 120.5,268.5" fill="none" stroke="#e8a0b8" stroke-width="3.60" stroke-dasharray="0 2.88" stroke-linecap="round"/>
<path d="M57.7,269.0 C58.9,268.7 62.6,267.3 65.0,267.0 C67.4,266.7 69.5,266.7 72.0,267.0 C74.5,267.3 76.8,268.0 80.0,269.0 C83.2,270.0 88.0,272.8 91.3,273.0 C94.6,273.2 96.9,271.2 100.0,270.5 C103.1,269.8 106.6,269.3 110.0,269.0 C113.4,268.7 118.8,268.6 120.5,268.5" fill="none" stroke="#f8e4eb" stroke-width="2.00" stroke-dasharray="0 2.88" stroke-linecap="round"/>
<path d="M57.7,269.0 C58.9,268.7 62.6,267.3 65.0,267.0 C67.4,266.7 69.5,266.7 72.0,267.0 C74.5,267.3 76.8,268.0 80.0,269.0 C83.2,270.0 88.0,272.8 91.3,273.0 C94.6,273.2 96.9,271.2 100.0,270.5 C103.1,269.8 106.6,269.3 110.0,269.0 C113.4,268.7 118.8,268.6 120.5,268.5" fill="none" stroke="#a27080" stroke-width="1" stroke-dasharray="0 2.88" stroke-linecap="round"/>
<path d="M41.0,269.7 C42.5,269.8 47.2,269.9 50.0,270.0 C52.8,270.1 54.4,270.0 57.7,270.5 C61.0,271.0 66.3,272.4 70.0,273.0 C73.7,273.6 76.5,273.9 80.0,274.0 C83.5,274.1 88.0,273.3 91.3,273.5 C94.6,273.7 96.9,274.6 100.0,275.0 C103.1,275.4 106.6,275.8 110.0,276.0 C113.4,276.2 118.8,276.0 120.5,276.0" fill="none" stroke="#f0a040" stroke-width="4.20" stroke-dasharray="0 3.42" stroke-linecap="round"/>
<path d="M41.0,269.7 C42.5,269.8 47.2,269.9 50.0,270.0 C52.8,270.1 54.4,270.0 57.7,270.5 C61.0,271.0 66.3,272.4 70.0,273.0 C73.7,273.6 76.5,273.9 80.0,274.0 C83.5,274.1 88.0,273.3 91.3,273.5 C94.6,273.7 96.9,274.6 100.0,275.0 C103.1,275.4 106.6,275.8 110.0,276.0 C113.4,276.2 118.8,276.0 120.5,276.0" fill="none" stroke="#fae4c9" stroke-width="2.60" stroke-dasharray="0 3.42" stroke-linecap="round"/>
<path d="M41.0,269.7 C42.5,269.8 47.2,269.9 50.0,270.0 C52.8,270.1 54.4,270.0 57.7,270.5 C61.0,271.0 66.3,272.4 70.0,273.0 C73.7,273.6 76.5,273.9 80.0,274.0 C83.5,274.1 88.0,273.3 91.3,273.5 C94.6,273.7 96.9,274.6 100.0,275.0 C103.1,275.4 106.6,275.8 110.0,276.0 C113.4,276.2 118.8,276.0 120.5,276.0" fill="none" stroke="#a8702c" stroke-width="1" stroke-dasharray="0 3.42" stroke-linecap="round"/>
<path d="M41.0,278.2 C43.8,278.0 52.9,277.0 57.7,277.0 C62.5,277.0 66.3,278.0 70.0,278.0 C73.7,278.0 76.5,277.7 80.0,277.0 C83.5,276.3 88.0,274.0 91.3,274.0 C94.6,274.0 96.9,276.2 100.0,277.0 C103.1,277.8 106.6,278.2 110.0,278.5 C113.4,278.8 118.8,278.5 120.5,278.5" fill="none" stroke="#f0a040" stroke-width="4.20" stroke-dasharray="0 3.42" stroke-linecap="round"/>
<path d="M41.0,278.2 C43.8,278.0 52.9,277.0 57.7,277.0 C62.5,277.0 66.3,278.0 70.0,278.0 C73.7,278.0 76.5,277.7 80.0,277.0 C83.5,276.3 88.0,274.0 91.3,274.0 C94.6,274.0 96.9,276.2 100.0,277.0 C103.1,277.8 106.6,278.2 110.0,278.5 C113.4,278.8 118.8,278.5 120.5,278.5" fill="none" stroke="#fae4c9" stroke-width="2.60" stroke-dasharray="0 3.42" stroke-linecap="round"/>
<path d="M41.0,278.2 C43.8,278.0 52.9,277.0 57.7,277.0 C62.5,277.0 66.3,278.0 70.0,278.0 C73.7,278.0 76.5,277.7 80.0,277.0 C83.5,276.3 88.0,274.0 91.3,274.0 C94.6,274.0 96.9,276.2 100.0,277.0 C103.1,277.8 106.6,278.2 110.0,278.5 C113.4,278.8 118.8,278.5 120.5,278.5" fill="none" stroke="#a8702c" stroke-width="1" stroke-dasharray="0 3.42" stroke-linecap="round"/>
</g>
<g clip-path="url(#cp1)">
<path d="M127.4,95.0 C128.7,94.6 132.6,93.1 135.5,92.5 C138.3,91.9 141.4,91.3 144.2,91.2 C147.1,91.1 149.7,91.7 152.6,92.0 C155.5,92.3 158.8,92.5 161.6,92.8 C164.5,93.1 166.9,93.5 169.7,93.8 C172.4,94.1 175.2,94.2 178.0,94.4 C180.9,94.6 183.6,94.7 186.8,94.8 C189.9,94.9 193.4,95.0 196.8,95.0 C200.3,95.0 205.6,95.0 207.4,95.0" fill="none" stroke="#40c840" stroke-width="2.60" stroke-dasharray="0 2.86" stroke-linecap="round"/>
<path d="M127.4,98.8 C128.7,99.2 132.6,100.6 135.5,101.5 C138.3,102.4 141.4,103.3 144.2,104.0 C147.1,104.7 149.7,105.2 152.6,105.6 C155.5,106.0 158.8,106.3 161.6,106.5 C164.5,106.7 166.9,106.9 169.7,107.0 C172.4,107.1 176.6,107.2 178.0,107.2" fill="none" stroke="#c42846" stroke-width="2.40" stroke-dasharray="0 2.64" stroke-linecap="round"/>
<path d="M127.4,108.5 C128.7,108.1 132.6,106.8 135.5,106.0 C138.3,105.2 141.4,104.5 144.2,103.5 C147.1,102.5 149.7,101.0 152.6,100.0 C155.5,99.0 158.8,98.2 161.6,97.5 C164.5,96.8 166.9,96.0 169.7,95.5 C172.4,95.0 175.2,94.4 178.0,94.4 C180.9,94.4 183.6,94.9 186.8,95.5 C189.9,96.1 193.4,97.4 196.8,98.0 C200.3,98.6 205.6,98.8 207.4,99.0" fill="none" stroke="#c42846" stroke-width="2.40" stroke-dasharray="0 2.64" stroke-linecap="round"/>
<path d="M127.4,109.6 C128.7,109.8 132.6,110.3 135.5,110.5 C138.3,110.7 141.4,111.1 144.2,111.0 C147.1,110.9 149.7,110.4 152.6,110.0 C155.5,109.6 157.4,108.9 161.6,108.5 C165.9,108.1 173.8,107.5 178.0,107.4 C182.2,107.3 183.6,107.7 186.8,107.8 C189.9,107.9 193.4,108.2 196.8,108.3 C200.3,108.4 205.6,108.5 207.4,108.5" fill="none" stroke="#2828b0" stroke-width="4.40" stroke-dasharray="0 3.60" stroke-linecap="round"/>
<path d="M127.4,109.6 C128.7,109.8 132.6,110.3 135.5,110.5 C138.3,110.7 141.4,111.1 144.2,111.0 C147.1,110.9 149.7,110.4 152.6,110.0 C155.5,109.6 157.4,108.9 161.6,108.5 C165.9,108.1 173.8,107.5 178.0,107.4 C182.2,107.3 183.6,107.7 186.8,107.8 C189.9,107.9 193.4,108.2 196.8,108.3 C200.3,108.4 205.6,108.5 207.4,108.5" fill="none" stroke="#c2c2e8" stroke-width="2.80" stroke-dasharray="0 3.60" stroke-linecap="round"/>
<path d="M127.4,109.6 C128.7,109.8 132.6,110.3 135.5,110.5 C138.3,110.7 141.4,111.1 144.2,111.0 C147.1,110.9 149.7,110.4 152.6,110.0 C155.5,109.6 157.4,108.9 161.6,108.5 C165.9,108.1 173.8,107.5 178.0,107.4 C182.2,107.3 183.6,107.7 186.8,107.8 C189.9,107.9 193.4,108.2 196.8,108.3 C200.3,108.4 205.6,108.5 207.4,108.5" fill="none" stroke="#1c1c7b" stroke-width="1" stroke-dasharray="0 3.60" stroke-linecap="round"/>
<path d="M127.4,137.9 C129.1,138.2 134.7,138.7 137.5,139.5 C140.3,140.3 142.2,142.4 144.2,142.7 C146.2,143.0 147.5,141.8 149.5,141.5 C151.6,141.2 153.7,140.9 156.6,141.1 C159.4,141.3 163.1,141.9 166.6,142.5 C170.2,143.1 174.7,145.0 178.0,144.8 C181.4,144.6 183.6,142.5 186.8,141.5 C189.9,140.5 193.4,139.6 196.8,139.0 C200.3,138.4 205.6,138.1 207.4,137.9" fill="none" stroke="#40c840" stroke-width="3.00" stroke-dasharray="0 3.30" stroke-linecap="round"/>
<path d="M127.4,146.4 C128.7,146.4 132.6,146.4 135.5,146.4 C138.3,146.4 141.5,146.4 144.2,146.6 C146.9,146.8 149.2,147.2 151.6,147.5 C153.9,147.8 156.1,148.2 158.6,148.5 C161.1,148.8 163.4,149.2 166.6,149.5 C169.9,149.8 174.7,149.9 178.0,150.0 C181.4,150.1 183.6,150.4 186.8,150.3 C189.9,150.2 193.4,149.9 196.8,149.3 C200.3,148.8 205.6,147.4 207.4,147.0" fill="none" stroke="#2828b0" stroke-width="4.80" stroke-dasharray="0 3.96" stroke-linecap="round"/>
<path d="M127.4,146.4 C128.7,146.4 132.6,146.4 135.5,146.4 C138.3,146.4 141.5,146.4 144.2,146.6 C146.9,146.8 149.2,147.2 151.6,147.5 C153.9,147.8 156.1,148.2 158.6,148.5 C161.1,148.8 163.4,149.2 166.6,149.5 C169.9,149.8 174.7,149.9 178.0,150.0 C181.4,150.1 183.6,150.4 186.8,150.3 C189.9,150.2 193.4,149.9 196.8,149.3 C200.3,148.8 205.6,147.4 207.4,147.0" fill="none" stroke="#c2c2e8" stroke-width="3.20" stroke-dasharray="0 3.96" stroke-linecap="round"/>
<path d="M127.4,146.4 C128.7,146.4 132.6,146.4 135.5,146.4 C138.3,146.4 141.5,146.4 144.2,146.6 C146.9,146.8 149.2,147.2 151.6,147.5 C153.9,147.8 156.1,148.2 158.6,148.5 C161.1,148.8 163.4,149.2 166.6,149.5 C169.9,149.8 174.7,149.9 178.0,150.0 C181.4,150.1 183.6,150.4 186.8,150.3 C189.9,150.2 193.4,149.9 196.8,149.3 C200.3,148.8 205.6,147.4 207.4,147.0" fill="none" stroke="#1c1c7b" stroke-width="1" stroke-dasharray="0 3.96" stroke-linecap="round"/>
<path d="M127.4,150.6 C128.9,150.3 133.7,149.5 136.5,149.0 C139.3,148.5 141.7,147.5 144.2,147.5 C146.7,147.5 148.6,148.3 151.6,149.0 C154.5,149.7 157.2,151.1 161.6,151.5 C166.0,151.9 173.0,151.6 178.0,151.5 C183.0,151.4 186.9,151.2 191.8,151.0 C196.7,150.8 204.8,150.6 207.4,150.5" fill="none" stroke="#2828b0" stroke-width="3.20" stroke-dasharray="0 3.52" stroke-linecap="round"/>
<path d="M127.4,155.3 C128.7,155.8 132.6,157.6 135.5,158.5 C138.3,159.4 141.5,160.6 144.2,160.6 C146.9,160.6 149.2,159.2 151.6,158.5 C153.9,157.8 156.1,156.3 158.6,156.4 C161.1,156.5 163.4,157.8 166.6,159.0 C169.9,160.2 174.7,163.5 178.0,163.8 C181.4,164.1 184.0,162.0 186.8,161.0 C189.6,160.0 191.4,159.0 194.8,158.0 C198.3,157.0 205.3,155.3 207.4,154.8" fill="none" stroke="#2828b0" stroke-width="4.80" stroke-dasharray="0 3.96" stroke-linecap="round"/>
<path d="M127.4,155.3 C128.7,155.8 132.6,157.6 135.5,158.5 C138.3,159.4 141.5,160.6 144.2,160.6 C146.9,160.6 149.2,159.2 151.6,158.5 C153.9,157.8 156.1,156.3 158.6,156.4 C161.1,156.5 163.4,157.8 166.6,159.0 C169.9,160.2 174.7,163.5 178.0,163.8 C181.4,164.1 184.0,162.0 186.8,161.0 C189.6,160.0 191.4,159.0 194.8,158.0 C198.3,157.0 205.3,155.3 207.4,154.8" fill="none" stroke="#c2c2e8" stroke-width="3.20" stroke-dasharray="0 3.96" stroke-linecap="round"/>
<path d="M127.4,155.3 C128.7,155.8 132.6,157.6 135.5,158.5 C138.3,159.4 141.5,160.6 144.2,160.6 C146.9,160.6 149.2,159.2 151.6,158.5 C153.9,157.8 156.1,156.3 158.6,156.4 C161.1,156.5 163.4,157.8 166.6,159.0 C169.9,160.2 174.7,163.5 178.0,163.8 C181.4,164.1 184.0,162.0 186.8,161.0 C189.6,160.0 191.4,159.0 194.8,158.0 C198.3,157.0 205.3,155.3 207.4,154.8" fill="none" stroke="#1c1c7b" stroke-width="1" stroke-dasharray="0 3.96" stroke-linecap="round"/>
<path d="M127.4,171.3 C140.7,171.3 194.1,171.3 207.4,171.3" fill="none" stroke="#2828b0" stroke-width="4.00" stroke-dasharray="0 3.24" stroke-linecap="round"/>
<path d="M127.4,171.3 C140.7,171.3 194.1,171.3 207.4,171.3" fill="none" stroke="#c2c2e8" stroke-width="2.40" stroke-dasharray="0 3.24" stroke-linecap="round"/>
<path d="M127.4,171.3 C140.7,171.3 194.1,171.3 207.4,171.3" fill="none" stroke="#1c1c7b" stroke-width="1" stroke-dasharray="0 3.24" stroke-linecap="round"/>
<path d="M127.4,180.0 C128.4,179.2 131.6,176.1 133.4,175.0 C135.3,173.9 136.7,173.8 138.5,173.4 C140.3,173.0 142.0,172.4 144.2,172.5 C146.4,172.6 148.6,173.4 151.6,174.0 C154.5,174.6 158.6,175.3 161.6,176.0 C164.6,176.7 166.9,177.4 169.7,178.0 C172.4,178.6 175.2,179.1 178.0,179.8 C180.9,180.5 183.6,181.3 186.8,182.0 C189.9,182.7 193.4,183.3 196.8,184.0 C200.3,184.7 205.6,185.7 207.4,186.0" fill="none" stroke="#2828b0" stroke-width="4.40" stroke-dasharray="0 3.60" stroke-linecap="round"/>
<path d="M127.4,180.0 C128.4,179.2 131.6,176.1 133.4,175.0 C135.3,173.9 136.7,173.8 138.5,173.4 C140.3,173.0 142.0,172.4 144.2,172.5 C146.4,172.6 148.6,173.4 151.6,174.0 C154.5,174.6 158.6,175.3 161.6,176.0 C164.6,176.7 166.9,177.4 169.7,178.0 C172.4,178.6 175.2,179.1 178.0,179.8 C180.9,180.5 183.6,181.3 186.8,182.0 C189.9,182.7 193.4,183.3 196.8,184.0 C200.3,184.7 205.6,185.7 207.4,186.0" fill="none" stroke="#c2c2e8" stroke-width="2.80" stroke-dasharray="0 3.60" stroke-linecap="round"/>
<path d="M127.4,180.0 C128.4,179.2 131.6,176.1 133.4,175.0 C135.3,173.9 136.7,173.8 138.5,173.4 C140.3,173.0 142.0,172.4 144.2,172.5 C146.4,172.6 148.6,173.4 151.6,174.0 C154.5,174.6 158.6,175.3 161.6,176.0 C164.6,176.7 166.9,177.4 169.7,178.0 C172.4,178.6 175.2,179.1 178.0,179.8 C180.9,180.5 183.6,181.3 186.8,182.0 C189.9,182.7 193.4,183.3 196.8,184.0 C200.3,184.7 205.6,185.7 207.4,186.0" fill="none" stroke="#1c1c7b" stroke-width="1" stroke-dasharray="0 3.60" stroke-linecap="round"/>
<path d="M127.4,180.0 C127.9,180.5 129.2,182.0 130.4,183.0 C131.6,184.0 133.1,184.8 134.4,186.0 C135.8,187.2 137.0,188.5 138.5,190.0 C140.0,191.5 142.7,194.2 143.5,195.0" fill="none" stroke="#2828b0" stroke-width="2.40" stroke-dasharray="0 2.64" stroke-linecap="round"/>
<path d="M127.4,243.0 C128.9,242.1 133.7,239.2 136.5,237.5 C139.3,235.8 142.2,234.4 144.2,232.5 C146.2,230.6 146.8,228.9 148.5,226.0 C150.3,223.1 152.4,218.7 154.6,215.0 C156.8,211.3 159.1,208.2 161.6,204.0 C164.1,199.8 166.9,194.0 169.7,190.0 C172.4,186.0 175.2,181.5 178.0,180.0 C180.9,178.5 184.0,180.2 186.8,181.0 C189.6,181.8 192.3,183.8 194.8,185.0 C197.3,186.2 199.8,187.2 201.9,188.0 C204.0,188.8 206.5,189.7 207.4,190.0" fill="none" stroke="#2828b0" stroke-width="2.60" stroke-dasharray="0 2.86" stroke-linecap="round"/>
<path d="M192.8,203.0 C193.5,203.7 195.5,205.5 196.8,207.0 C198.2,208.5 199.7,210.3 200.9,212.0 C202.0,213.7 202.8,215.5 203.9,217.0 C205.0,218.5 206.8,220.3 207.4,221.0" fill="none" stroke="#2828b0" stroke-width="2.40" stroke-dasharray="0 2.64" stroke-linecap="round"/>
<path d="M192.8,201.0 C193.6,201.7 196.2,203.3 197.8,205.0 C199.5,206.7 201.3,209.0 202.9,211.0 C204.5,213.0 206.6,216.0 207.4,217.0" fill="none" stroke="#2828b0" stroke-width="2.20" stroke-dasharray="0 2.42" stroke-linecap="round"/>
<path d="M149.5,217.0 C150.4,217.8 152.6,219.8 154.6,222.0 C156.6,224.2 159.4,227.7 161.6,230.0 C163.8,232.3 165.8,234.3 167.7,236.0 C169.5,237.7 171.8,239.3 172.7,240.0" fill="none" stroke="#e63a2a" stroke-width="2.40" stroke-dasharray="0 2.64" stroke-linecap="round"/>
<path d="M178.0,179.5 C179.5,179.2 183.6,178.3 186.8,178.0 C189.9,177.7 193.4,177.5 196.8,177.5 C200.3,177.5 205.6,177.9 207.4,178.0" fill="none" stroke="#e63a2a" stroke-width="2.40" stroke-dasharray="0 2.64" stroke-linecap="round"/>
<path d="M186.8,188.0 C187.8,187.7 190.6,186.7 192.8,186.0 C195.0,185.3 197.4,184.5 199.9,184.0 C202.3,183.5 206.1,183.2 207.4,183.0" fill="none" stroke="#e63a2a" stroke-width="2.60" stroke-dasharray="0 2.86" stroke-linecap="round"/>
<path d="M127.4,190.3 C128.9,190.0 133.7,188.9 136.5,188.5 C139.3,188.1 141.9,187.8 144.2,188.0 C146.6,188.2 148.5,189.0 150.5,190.0 C152.6,191.0 155.6,193.3 156.6,194.0" fill="none" stroke="#40c840" stroke-width="4.00" stroke-dasharray="0 3.24" stroke-linecap="round"/>
<path d="M127.4,190.3 C128.9,190.0 133.7,188.9 136.5,188.5 C139.3,188.1 141.9,187.8 144.2,188.0 C146.6,188.2 148.5,189.0 150.5,190.0 C152.6,191.0 155.6,193.3 156.6,194.0" fill="none" stroke="#c9efc9" stroke-width="2.40" stroke-dasharray="0 3.24" stroke-linecap="round"/>
<path d="M127.4,190.3 C128.9,190.0 133.7,188.9 136.5,188.5 C139.3,188.1 141.9,187.8 144.2,188.0 C146.6,188.2 148.5,189.0 150.5,190.0 C152.6,191.0 155.6,193.3 156.6,194.0" fill="none" stroke="#2c8c2c" stroke-width="1" stroke-dasharray="0 3.24" stroke-linecap="round"/>
<path d="M127.4,191.4 C128.9,191.5 133.7,191.6 136.5,192.0 C139.3,192.4 142.0,193.4 144.2,194.0 C146.4,194.6 147.8,194.8 149.5,195.5 C151.3,196.2 152.9,196.8 154.6,198.0 C156.2,199.2 157.6,200.7 159.6,203.0 C161.6,205.3 164.5,209.3 166.6,212.0 C168.8,214.7 170.8,217.5 172.7,219.0 C174.6,220.5 176.2,221.8 178.0,221.1 C179.9,220.4 181.8,217.3 183.8,215.0 C185.7,212.7 187.9,209.2 189.8,207.0 C191.6,204.8 193.0,204.0 194.8,202.0 C196.7,200.0 198.8,197.0 200.9,195.0 C203.0,193.0 206.3,190.8 207.4,190.0" fill="none" stroke="#208870" stroke-width="2.80" stroke-dasharray="0 3.08" stroke-linecap="round"/>
<path d="M130.4,197.0 C131.3,196.8 133.8,195.9 135.5,195.5 C137.1,195.1 138.6,194.8 140.5,194.5 C142.3,194.2 145.5,194.1 146.5,194.0" fill="none" stroke="#40c840" stroke-width="4.00" stroke-dasharray="0 3.24" stroke-linecap="round"/>
<path d="M130.4,197.0 C131.3,196.8 133.8,195.9 135.5,195.5 C137.1,195.1 138.6,194.8 140.5,194.5 C142.3,194.2 145.5,194.1 146.5,194.0" fill="none" stroke="#c9efc9" stroke-width="2.40" stroke-dasharray="0 3.24" stroke-linecap="round"/>
<path d="M130.4,197.0 C131.3,196.8 133.8,195.9 135.5,195.5 C137.1,195.1 138.6,194.8 140.5,194.5 C142.3,194.2 145.5,194.1 146.5,194.0" fill="none" stroke="#2c8c2c" stroke-width="1" stroke-dasharray="0 3.24" stroke-linecap="round"/>
<path d="M156.6,197.0 C157.6,196.2 160.4,194.0 162.6,192.5 C164.8,191.0 167.1,189.2 169.7,188.0 C172.2,186.8 175.2,185.5 178.0,185.5 C180.9,185.5 184.3,186.8 186.8,188.0 C189.2,189.2 191.0,191.0 192.8,192.5 C194.7,194.0 197.0,196.2 197.8,197.0" fill="none" stroke="#7030a0" stroke-width="2.40" stroke-dasharray="0 2.64" stroke-linecap="round"/>
<path d="M156.6,200.0 C157.9,200.3 161.1,201.6 164.6,202.0 C168.2,202.4 174.0,202.5 178.0,202.5 C182.0,202.5 185.5,202.4 188.8,202.0 C192.1,201.6 196.3,200.3 197.8,200.0" fill="none" stroke="#40c840" stroke-width="3.60" stroke-dasharray="0 2.88" stroke-linecap="round"/>
<path d="M156.6,200.0 C157.9,200.3 161.1,201.6 164.6,202.0 C168.2,202.4 174.0,202.5 178.0,202.5 C182.0,202.5 185.5,202.4 188.8,202.0 C192.1,201.6 196.3,200.3 197.8,200.0" fill="none" stroke="#c9efc9" stroke-width="2.00" stroke-dasharray="0 2.88" stroke-linecap="round"/>
<path d="M156.6,200.0 C157.9,200.3 161.1,201.6 164.6,202.0 C168.2,202.4 174.0,202.5 178.0,202.5 C182.0,202.5 185.5,202.4 188.8,202.0 C192.1,201.6 196.3,200.3 197.8,200.0" fill="none" stroke="#2c8c2c" stroke-width="1" stroke-dasharray="0 2.88" stroke-linecap="round"/>
<path d="M127.4,199.5 C128.9,199.8 133.7,200.8 136.5,201.5 C139.3,202.2 141.7,203.1 144.2,203.5 C146.7,203.9 149.2,204.1 151.6,204.0 C153.9,203.9 156.4,203.5 158.6,203.0 C160.8,202.5 163.6,201.3 164.6,201.0" fill="none" stroke="#208870" stroke-width="2.60" stroke-dasharray="0 2.86" stroke-linecap="round"/>
<path d="M194.8,199.0 C195.8,199.0 198.8,198.9 200.9,199.0 C203.0,199.1 206.3,199.4 207.4,199.5" fill="none" stroke="#2828b0" stroke-width="2.60" stroke-dasharray="0 2.86" stroke-linecap="round"/>
<path d="M154.6,221.0 C155.7,221.3 159.1,222.2 161.6,223.0 C164.1,223.8 166.9,225.1 169.7,226.0 C172.4,226.9 175.2,228.5 178.0,228.5 C180.9,228.5 183.6,227.1 186.8,226.0 C189.9,224.9 193.4,222.9 196.8,222.0 C200.3,221.1 205.6,220.8 207.4,220.5" fill="none" stroke="#2828b0" stroke-width="3.20" stroke-dasharray="0 3.52" stroke-linecap="round"/>
<path d="M154.6,233.0 C156.2,233.2 160.7,233.8 164.6,234.0 C168.5,234.2 174.3,234.5 178.0,234.5 C181.7,234.5 184.0,234.2 186.8,234.0 C189.6,233.8 192.3,234.3 194.8,233.5 C197.3,232.7 199.8,230.6 201.9,229.0 C204.0,227.4 206.5,224.8 207.4,224.0" fill="none" stroke="#40c840" stroke-width="3.00" stroke-dasharray="0 3.30" stroke-linecap="round"/>
<path d="M142.5,207.0 C143.2,207.7 145.3,209.9 146.5,211.0 C147.7,212.1 148.4,212.9 149.5,213.5 C150.7,214.1 152.1,214.6 153.6,214.5 C155.1,214.4 157.8,213.2 158.6,213.0" fill="none" stroke="#7030a0" stroke-width="3.40" stroke-dasharray="0 2.70" stroke-linecap="round"/>
<path d="M142.5,207.0 C143.2,207.7 145.3,209.9 146.5,211.0 C147.7,212.1 148.4,212.9 149.5,213.5 C150.7,214.1 152.1,214.6 153.6,214.5 C155.1,214.4 157.8,213.2 158.6,213.0" fill="none" stroke="#d6c5e4" stroke-width="1.80" stroke-dasharray="0 2.70" stroke-linecap="round"/>
<path d="M142.5,207.0 C143.2,207.7 145.3,209.9 146.5,211.0 C147.7,212.1 148.4,212.9 149.5,213.5 C150.7,214.1 152.1,214.6 153.6,214.5 C155.1,214.4 157.8,213.2 158.6,213.0" fill="none" stroke="#4e2170" stroke-width="1" stroke-dasharray="0 2.70" stroke-linecap="round"/>
<path d="M127.4,215.0 C128.9,214.2 133.7,211.5 136.5,210.0 C139.3,208.5 142.2,207.2 144.2,206.0 C146.2,204.8 147.8,203.5 148.5,203.0" fill="none" stroke="#2828b0" stroke-width="2.40" stroke-dasharray="0 2.64" stroke-linecap="round"/>
<path d="M128.4,222.0 C129.2,221.2 131.8,218.5 133.4,217.0 C135.1,215.5 136.8,214.5 138.5,213.0 C140.1,211.5 142.7,208.8 143.5,208.0" fill="none" stroke="#2828b0" stroke-width="2.40" stroke-dasharray="0 2.64" stroke-linecap="round"/>
<path d="M127.4,219.0 C128.2,219.8 130.9,222.5 132.4,224.0 C133.9,225.5 134.5,226.7 136.5,228.0 C138.4,229.3 141.7,230.8 144.2,232.0 C146.7,233.2 149.2,234.2 151.6,235.0 C153.9,235.8 157.4,236.7 158.6,237.0" fill="none" stroke="#2828b0" stroke-width="2.60" stroke-dasharray="0 2.86" stroke-linecap="round"/>
<path d="M127.4,244.0 C128.9,243.3 133.7,241.2 136.5,240.0 C139.3,238.8 142.2,237.5 144.2,236.5 C146.2,235.5 147.8,234.4 148.5,234.0" fill="none" stroke="#208870" stroke-width="2.60" stroke-dasharray="0 2.86" stroke-linecap="round"/>
<path d="M127.4,236.0 C128.9,236.0 133.7,236.0 136.5,236.0 C139.3,236.0 141.7,235.8 144.2,236.0 C146.7,236.2 149.2,236.3 151.6,237.0 C153.9,237.7 157.4,239.5 158.6,240.0" fill="none" stroke="#208870" stroke-width="2.60" stroke-dasharray="0 2.86" stroke-linecap="round"/>
<path d="M144.2,236.0 C145.4,236.7 149.2,238.5 151.6,240.0 C153.9,241.5 155.9,243.5 158.6,245.0 C161.3,246.5 164.4,248.2 167.7,249.0 C170.9,249.8 175.3,250.2 178.0,250.0 C180.7,249.8 181.7,248.3 183.8,247.5 C185.8,246.7 188.1,246.4 190.3,245.0 C192.5,243.6 194.8,241.6 197.1,239.0 C199.4,236.4 202.4,231.5 204.1,229.3 C205.8,227.1 206.8,226.6 207.4,226.0" fill="none" stroke="#208870" stroke-width="2.60" stroke-dasharray="0 2.86" stroke-linecap="round"/>
<path d="M178.0,249.0 C179.5,248.8 183.6,248.2 186.8,247.5 C189.9,246.8 193.4,245.6 196.8,245.0 C200.3,244.4 205.6,244.2 207.4,244.0" fill="none" stroke="#208870" stroke-width="2.60" stroke-dasharray="0 2.86" stroke-linecap="round"/>
<path d="M127.4,256.0 C128.9,256.5 133.7,258.0 136.5,259.0 C139.3,260.0 141.7,261.3 144.2,262.0 C146.7,262.7 149.2,263.5 151.6,263.0 C153.9,262.5 156.4,260.2 158.6,259.0 C160.8,257.8 163.6,256.5 164.6,256.0" fill="none" stroke="#2828b0" stroke-width="4.40" stroke-dasharray="0 3.60" stroke-linecap="round"/>
<path d="M127.4,256.0 C128.9,256.5 133.7,258.0 136.5,259.0 C139.3,260.0 141.7,261.3 144.2,262.0 C146.7,262.7 149.2,263.5 151.6,263.0 C153.9,262.5 156.4,260.2 158.6,259.0 C160.8,257.8 163.6,256.5 164.6,256.0" fill="none" stroke="#c2c2e8" stroke-width="2.80" stroke-dasharray="0 3.60" stroke-linecap="round"/>
<path d="M127.4,256.0 C128.9,256.5 133.7,258.0 136.5,259.0 C139.3,260.0 141.7,261.3 144.2,262.0 C146.7,262.7 149.2,263.5 151.6,263.0 C153.9,262.5 156.4,260.2 158.6,259.0 C160.8,257.8 163.6,256.5 164.6,256.0" fill="none" stroke="#1c1c7b" stroke-width="1" stroke-dasharray="0 3.60" stroke-linecap="round"/>
<path d="M158.6,255.5 C159.9,255.3 163.4,254.7 166.6,254.5 C169.9,254.3 174.7,254.4 178.0,254.5 C181.4,254.6 184.3,254.8 186.8,255.0 C189.2,255.2 191.8,255.8 192.8,256.0" fill="none" stroke="#2828b0" stroke-width="2.80" stroke-dasharray="0 3.08" stroke-linecap="round"/>
<path d="M154.6,260.0 C156.6,260.1 162.7,260.3 166.6,260.5 C170.6,260.7 174.7,260.9 178.0,261.0 C181.4,261.1 184.3,261.2 186.8,261.0 C189.2,260.8 191.8,259.8 192.8,259.5" fill="none" stroke="#2828b0" stroke-width="4.80" stroke-dasharray="0 3.96" stroke-linecap="round"/>
<path d="M154.6,260.0 C156.6,260.1 162.7,260.3 166.6,260.5 C170.6,260.7 174.7,260.9 178.0,261.0 C181.4,261.1 184.3,261.2 186.8,261.0 C189.2,260.8 191.8,259.8 192.8,259.5" fill="none" stroke="#c2c2e8" stroke-width="3.20" stroke-dasharray="0 3.96" stroke-linecap="round"/>
<path d="M154.6,260.0 C156.6,260.1 162.7,260.3 166.6,260.5 C170.6,260.7 174.7,260.9 178.0,261.0 C181.4,261.1 184.3,261.2 186.8,261.0 C189.2,260.8 191.8,259.8 192.8,259.5" fill="none" stroke="#1c1c7b" stroke-width="1" stroke-dasharray="0 3.96" stroke-linecap="round"/>
<path d="M144.5,262.0 C145.5,261.5 148.5,259.8 150.5,259.0 C152.6,258.2 155.6,257.3 156.6,257.0" fill="none" stroke="#2828b0" stroke-width="2.60" stroke-dasharray="0 2.86" stroke-linecap="round"/>
<path d="M191.8,260.0 C193.0,260.7 196.2,263.0 198.8,264.0 C201.4,265.0 206.0,265.7 207.4,266.0" fill="none" stroke="#2828b0" stroke-width="2.60" stroke-dasharray="0 2.86" stroke-linecap="round"/>
<path d="M127.4,266.0 C128.6,265.7 132.3,264.7 134.4,264.0 C136.6,263.3 139.5,262.3 140.5,262.0" fill="none" stroke="#2828b0" stroke-width="2.60" stroke-dasharray="0 2.86" stroke-linecap="round"/>
<path d="M191.8,256.0 C193.1,255.8 197.3,255.2 199.9,255.0 C202.5,254.8 206.1,255.0 207.4,255.0" fill="none" stroke="#2828b0" stroke-width="4.00" stroke-dasharray="0 3.24" stroke-linecap="round"/>
<path d="M191.8,256.0 C193.1,255.8 197.3,255.2 199.9,255.0 C202.5,254.8 206.1,255.0 207.4,255.0" fill="none" stroke="#c2c2e8" stroke-width="2.40" stroke-dasharray="0 3.24" stroke-linecap="round"/>
<path d="M191.8,256.0 C193.1,255.8 197.3,255.2 199.9,255.0 C202.5,254.8 206.1,255.0 207.4,255.0" fill="none" stroke="#1c1c7b" stroke-width="1" stroke-dasharray="0 3.24" stroke-linecap="round"/>
<path d="M144.2,269.0 C145.4,268.7 149.2,267.3 151.6,267.0 C153.9,266.7 156.1,266.7 158.6,267.0 C161.1,267.3 163.4,268.0 166.6,269.0 C169.9,270.0 174.7,272.8 178.0,273.0 C181.4,273.2 183.6,271.2 186.8,270.5 C189.9,269.8 193.4,269.3 196.8,269.0 C200.3,268.7 205.6,268.6 207.4,268.5" fill="none" stroke="#40c840" stroke-width="3.60" stroke-dasharray="0 2.88" stroke-linecap="round"/>
<path d="M144.2,269.0 C145.4,268.7 149.2,267.3 151.6,267.0 C153.9,266.7 156.1,266.7 158.6,267.0 C161.1,267.3 163.4,268.0 166.6,269.0 C169.9,270.0 174.7,272.8 178.0,273.0 C181.4,273.2 183.6,271.2 186.8,270.5 C189.9,269.8 193.4,269.3 196.8,269.0 C200.3,268.7 205.6,268.6 207.4,268.5" fill="none" stroke="#c9efc9" stroke-width="2.00" stroke-dasharray="0 2.88" stroke-linecap="round"/>
<path d="M144.2,269.0 C145.4,268.7 149.2,267.3 151.6,267.0 C153.9,266.7 156.1,266.7 158.6,267.0 C161.1,267.3 163.4,268.0 166.6,269.0 C169.9,270.0 174.7,272.8 178.0,273.0 C181.4,273.2 183.6,271.2 186.8,270.5 C189.9,269.8 193.4,269.3 196.8,269.0 C200.3,268.7 205.6,268.6 207.4,268.5" fill="none" stroke="#2c8c2c" stroke-width="1" stroke-dasharray="0 2.88" stroke-linecap="round"/>
<path d="M127.4,269.7 C128.9,269.8 133.7,269.9 136.5,270.0 C139.3,270.1 140.9,270.0 144.2,270.5 C147.6,271.0 152.8,272.4 156.6,273.0 C160.3,273.6 163.1,273.9 166.6,274.0 C170.2,274.1 174.7,273.3 178.0,273.5 C181.4,273.7 183.6,274.6 186.8,275.0 C189.9,275.4 193.4,275.8 196.8,276.0 C200.3,276.2 205.6,276.0 207.4,276.0" fill="none" stroke="#e63a2a" stroke-width="3.00" stroke-dasharray="0 3.30" stroke-linecap="round"/>
<path d="M127.4,278.2 C130.2,278.0 139.3,277.0 144.2,277.0 C149.1,277.0 152.8,278.0 156.6,278.0 C160.3,278.0 163.1,277.7 166.6,277.0 C170.2,276.3 174.7,274.0 178.0,274.0 C181.4,274.0 183.6,276.2 186.8,277.0 C189.9,277.8 193.4,278.2 196.8,278.5 C200.3,278.8 205.6,278.5 207.4,278.5" fill="none" stroke="#40c840" stroke-width="3.00" stroke-dasharray="0 3.30" stroke-linecap="round"/>
</g>
<g clip-path="url(#cp2)">
<path d="M214.2,132.6 C215.9,132.8 221.5,133.3 224.3,134.1 C227.1,134.9 229.0,136.8 231.1,137.2 C233.1,137.5 234.4,136.3 236.4,136.0 C238.5,135.8 240.6,135.5 243.5,135.6 C246.4,135.8 250.0,136.4 253.6,137.0 C257.2,137.6 261.6,139.3 265.0,139.2 C268.4,139.0 270.6,136.9 273.8,136.0 C276.9,135.1 280.4,134.2 283.9,133.6 C287.3,133.0 292.7,132.7 294.5,132.6" fill="none" stroke="#40c840" stroke-width="4.40" stroke-dasharray="0 3.60" stroke-linecap="round"/>
<path d="M214.2,132.6 C215.9,132.8 221.5,133.3 224.3,134.1 C227.1,134.9 229.0,136.8 231.1,137.2 C233.1,137.5 234.4,136.3 236.4,136.0 C238.5,135.8 240.6,135.5 243.5,135.6 C246.4,135.8 250.0,136.4 253.6,137.0 C257.2,137.6 261.6,139.3 265.0,139.2 C268.4,139.0 270.6,136.9 273.8,136.0 C276.9,135.1 280.4,134.2 283.9,133.6 C287.3,133.0 292.7,132.7 294.5,132.6" fill="none" stroke="#c9efc9" stroke-width="2.80" stroke-dasharray="0 3.60" stroke-linecap="round"/>
<path d="M214.2,132.6 C215.9,132.8 221.5,133.3 224.3,134.1 C227.1,134.9 229.0,136.8 231.1,137.2 C233.1,137.5 234.4,136.3 236.4,136.0 C238.5,135.8 240.6,135.5 243.5,135.6 C246.4,135.8 250.0,136.4 253.6,137.0 C257.2,137.6 261.6,139.3 265.0,139.2 C268.4,139.0 270.6,136.9 273.8,136.0 C276.9,135.1 280.4,134.2 283.9,133.6 C287.3,133.0 292.7,132.7 294.5,132.6" fill="none" stroke="#2c8c2c" stroke-width="1" stroke-dasharray="0 3.60" stroke-linecap="round"/>
<path d="M214.2,140.7 C215.5,140.7 219.5,140.7 222.3,140.7 C225.1,140.7 228.4,140.7 231.1,140.9 C233.8,141.1 236.0,141.4 238.4,141.8 C240.8,142.1 243.0,142.4 245.5,142.7 C248.0,143.0 250.3,143.4 253.6,143.7 C256.8,143.9 261.6,144.0 265.0,144.1 C268.4,144.3 270.6,144.5 273.8,144.4 C276.9,144.3 280.4,144.0 283.9,143.5 C287.3,142.9 292.7,141.6 294.5,141.3" fill="none" stroke="#e63a2a" stroke-width="4.20" stroke-dasharray="0 3.42" stroke-linecap="round"/>
<path d="M214.2,140.7 C215.5,140.7 219.5,140.7 222.3,140.7 C225.1,140.7 228.4,140.7 231.1,140.9 C233.8,141.1 236.0,141.4 238.4,141.8 C240.8,142.1 243.0,142.4 245.5,142.7 C248.0,143.0 250.3,143.4 253.6,143.7 C256.8,143.9 261.6,144.0 265.0,144.1 C268.4,144.3 270.6,144.5 273.8,144.4 C276.9,144.3 280.4,144.0 283.9,143.5 C287.3,142.9 292.7,141.6 294.5,141.3" fill="none" stroke="#f8c7c3" stroke-width="2.60" stroke-dasharray="0 3.42" stroke-linecap="round"/>
<path d="M214.2,140.7 C215.5,140.7 219.5,140.7 222.3,140.7 C225.1,140.7 228.4,140.7 231.1,140.9 C233.8,141.1 236.0,141.4 238.4,141.8 C240.8,142.1 243.0,142.4 245.5,142.7 C248.0,143.0 250.3,143.4 253.6,143.7 C256.8,143.9 261.6,144.0 265.0,144.1 C268.4,144.3 270.6,144.5 273.8,144.4 C276.9,144.3 280.4,144.0 283.9,143.5 C287.3,142.9 292.7,141.6 294.5,141.3" fill="none" stroke="#a1281d" stroke-width="1" stroke-dasharray="0 3.42" stroke-linecap="round"/>
<path d="M214.2,144.7 C215.7,144.5 220.5,143.7 223.3,143.2 C226.1,142.7 228.5,141.8 231.1,141.8 C233.6,141.8 235.5,142.5 238.4,143.2 C241.4,143.8 244.1,145.2 248.5,145.6 C253.0,146.0 260.0,145.7 265.0,145.6 C270.1,145.5 273.9,145.3 278.8,145.1 C283.8,144.9 291.9,144.7 294.5,144.6" fill="none" stroke="#c42846" stroke-width="3.80" stroke-dasharray="0 3.06" stroke-linecap="round"/>
<path d="M214.2,144.7 C215.7,144.5 220.5,143.7 223.3,143.2 C226.1,142.7 228.5,141.8 231.1,141.8 C233.6,141.8 235.5,142.5 238.4,143.2 C241.4,143.8 244.1,145.2 248.5,145.6 C253.0,146.0 260.0,145.7 265.0,145.6 C270.1,145.5 273.9,145.3 278.8,145.1 C283.8,144.9 291.9,144.7 294.5,144.6" fill="none" stroke="#eec2cb" stroke-width="2.20" stroke-dasharray="0 3.06" stroke-linecap="round"/>
<path d="M214.2,144.7 C215.7,144.5 220.5,143.7 223.3,143.2 C226.1,142.7 228.5,141.8 231.1,141.8 C233.6,141.8 235.5,142.5 238.4,143.2 C241.4,143.8 244.1,145.2 248.5,145.6 C253.0,146.0 260.0,145.7 265.0,145.6 C270.1,145.5 273.9,145.3 278.8,145.1 C283.8,144.9 291.9,144.7 294.5,144.6" fill="none" stroke="#891c31" stroke-width="1" stroke-dasharray="0 3.06" stroke-linecap="round"/>
<path d="M214.2,149.2 C215.5,149.7 219.5,151.4 222.3,152.3 C225.1,153.1 228.4,154.3 231.1,154.3 C233.8,154.3 236.0,152.9 238.4,152.3 C240.8,151.6 243.0,150.2 245.5,150.3 C248.0,150.3 250.3,151.6 253.6,152.8 C256.8,153.9 261.6,157.0 265.0,157.4 C268.4,157.7 271.0,155.6 273.8,154.7 C276.6,153.7 278.4,152.8 281.9,151.8 C285.3,150.8 292.4,149.2 294.5,148.7" fill="none" stroke="#a0b0a0" stroke-width="0.9"/>
<path d="M214.2,164.5 C227.6,164.5 281.1,164.5 294.5,164.5" fill="none" stroke="#c8c8c8" stroke-width="0.8"/>
<path d="M214.2,172.9 C215.2,172.1 218.4,169.1 220.3,168.1 C222.1,167.0 223.5,166.9 225.3,166.5 C227.1,166.1 228.9,165.6 231.1,165.7 C233.3,165.8 235.5,166.6 238.4,167.1 C241.4,167.7 245.5,168.4 248.5,169.0 C251.6,169.7 253.9,170.3 256.6,170.9 C259.4,171.5 262.1,172.0 265.0,172.7 C267.9,173.3 270.6,174.1 273.8,174.8 C276.9,175.4 280.4,176.0 283.9,176.7 C287.3,177.3 292.7,178.3 294.5,178.6" fill="none" stroke="#c42846" stroke-width="4.00" stroke-dasharray="0 3.24" stroke-linecap="round"/>
<path d="M214.2,172.9 C215.2,172.1 218.4,169.1 220.3,168.1 C222.1,167.0 223.5,166.9 225.3,166.5 C227.1,166.1 228.9,165.6 231.1,165.7 C233.3,165.8 235.5,166.6 238.4,167.1 C241.4,167.7 245.5,168.4 248.5,169.0 C251.6,169.7 253.9,170.3 256.6,170.9 C259.4,171.5 262.1,172.0 265.0,172.7 C267.9,173.3 270.6,174.1 273.8,174.8 C276.9,175.4 280.4,176.0 283.9,176.7 C287.3,177.3 292.7,178.3 294.5,178.6" fill="none" stroke="#eec2cb" stroke-width="2.40" stroke-dasharray="0 3.24" stroke-linecap="round"/>
<path d="M214.2,172.9 C215.2,172.1 218.4,169.1 220.3,168.1 C222.1,167.0 223.5,166.9 225.3,166.5 C227.1,166.1 228.9,165.6 231.1,165.7 C233.3,165.8 235.5,166.6 238.4,167.1 C241.4,167.7 245.5,168.4 248.5,169.0 C251.6,169.7 253.9,170.3 256.6,170.9 C259.4,171.5 262.1,172.0 265.0,172.7 C267.9,173.3 270.6,174.1 273.8,174.8 C276.9,175.4 280.4,176.0 283.9,176.7 C287.3,177.3 292.7,178.3 294.5,178.6" fill="none" stroke="#891c31" stroke-width="1" stroke-dasharray="0 3.24" stroke-linecap="round"/>
<path d="M214.2,172.9 C214.7,173.3 216.1,174.8 217.2,175.7 C218.4,176.7 219.9,177.5 221.3,178.6 C222.6,179.7 223.8,181.0 225.3,182.4 C226.8,183.9 229.5,186.4 230.4,187.2" fill="none" stroke="#f0a040" stroke-width="4.40" stroke-dasharray="0 3.60" stroke-linecap="round"/>
<path d="M214.2,172.9 C214.7,173.3 216.1,174.8 217.2,175.7 C218.4,176.7 219.9,177.5 221.3,178.6 C222.6,179.7 223.8,181.0 225.3,182.4 C226.8,183.9 229.5,186.4 230.4,187.2" fill="none" stroke="#fae4c9" stroke-width="2.80" stroke-dasharray="0 3.60" stroke-linecap="round"/>
<path d="M214.2,172.9 C214.7,173.3 216.1,174.8 217.2,175.7 C218.4,176.7 219.9,177.5 221.3,178.6 C222.6,179.7 223.8,181.0 225.3,182.4 C226.8,183.9 229.5,186.4 230.4,187.2" fill="none" stroke="#a8702c" stroke-width="1" stroke-dasharray="0 3.60" stroke-linecap="round"/>
<path d="M214.2,235.4 C215.7,234.5 220.5,231.6 223.3,229.9 C226.1,228.1 229.0,226.8 231.1,224.8 C233.1,222.9 233.7,221.2 235.4,218.3 C237.1,215.3 239.3,210.9 241.5,207.2 C243.7,203.4 246.0,200.2 248.5,196.0 C251.1,191.9 253.9,186.3 256.6,182.4 C259.4,178.6 262.1,174.3 265.0,172.9 C267.9,171.4 271.0,173.0 273.8,173.8 C276.6,174.6 279.3,176.5 281.9,177.6 C284.4,178.8 286.8,179.7 288.9,180.5 C291.0,181.3 293.6,182.1 294.5,182.4" fill="none" stroke="#f0a040" stroke-width="2.80" stroke-dasharray="0 3.08" stroke-linecap="round"/>
<path d="M279.9,195.0 C280.5,195.7 282.5,197.6 283.9,199.1 C285.2,200.6 286.8,202.4 287.9,204.1 C289.1,205.8 289.9,207.7 291.0,209.2 C292.1,210.7 293.9,212.5 294.5,213.2" fill="none" stroke="#f0a040" stroke-width="3.60" stroke-dasharray="0 2.88" stroke-linecap="round"/>
<path d="M279.9,195.0 C280.5,195.7 282.5,197.6 283.9,199.1 C285.2,200.6 286.8,202.4 287.9,204.1 C289.1,205.8 289.9,207.7 291.0,209.2 C292.1,210.7 293.9,212.5 294.5,213.2" fill="none" stroke="#fae4c9" stroke-width="2.00" stroke-dasharray="0 2.88" stroke-linecap="round"/>
<path d="M279.9,195.0 C280.5,195.7 282.5,197.6 283.9,199.1 C285.2,200.6 286.8,202.4 287.9,204.1 C289.1,205.8 289.9,207.7 291.0,209.2 C292.1,210.7 293.9,212.5 294.5,213.2" fill="none" stroke="#a8702c" stroke-width="1" stroke-dasharray="0 2.88" stroke-linecap="round"/>
<path d="M279.9,193.0 C280.7,193.7 283.2,195.4 284.9,197.1 C286.6,198.7 288.4,201.1 290.0,203.1 C291.6,205.1 293.7,208.2 294.5,209.2" fill="none" stroke="#e8a0b8" stroke-width="3.00" stroke-dasharray="0 2.34" stroke-linecap="round"/>
<path d="M279.9,193.0 C280.7,193.7 283.2,195.4 284.9,197.1 C286.6,198.7 288.4,201.1 290.0,203.1 C291.6,205.1 293.7,208.2 294.5,209.2" fill="none" stroke="#f8e4eb" stroke-width="1.40" stroke-dasharray="0 2.34" stroke-linecap="round"/>
<path d="M279.9,193.0 C280.7,193.7 283.2,195.4 284.9,197.1 C286.6,198.7 288.4,201.1 290.0,203.1 C291.6,205.1 293.7,208.2 294.5,209.2" fill="none" stroke="#a27080" stroke-width="1" stroke-dasharray="0 2.34" stroke-linecap="round"/>
<path d="M236.4,209.2 C237.3,210.0 239.5,212.0 241.5,214.2 C243.5,216.4 246.4,219.9 248.5,222.3 C250.7,224.7 252.8,226.7 254.6,228.4 C256.5,230.0 258.8,231.7 259.7,232.4" fill="none" stroke="#e8a0b8" stroke-width="3.00" stroke-dasharray="0 2.34" stroke-linecap="round"/>
<path d="M236.4,209.2 C237.3,210.0 239.5,212.0 241.5,214.2 C243.5,216.4 246.4,219.9 248.5,222.3 C250.7,224.7 252.8,226.7 254.6,228.4 C256.5,230.0 258.8,231.7 259.7,232.4" fill="none" stroke="#f8e4eb" stroke-width="1.40" stroke-dasharray="0 2.34" stroke-linecap="round"/>
<path d="M236.4,209.2 C237.3,210.0 239.5,212.0 241.5,214.2 C243.5,216.4 246.4,219.9 248.5,222.3 C250.7,224.7 252.8,226.7 254.6,228.4 C256.5,230.0 258.8,231.7 259.7,232.4" fill="none" stroke="#a27080" stroke-width="1" stroke-dasharray="0 2.34" stroke-linecap="round"/>
<path d="M265.0,172.4 C266.5,172.1 270.6,171.3 273.8,170.9 C276.9,170.6 280.4,170.5 283.9,170.5 C287.3,170.5 292.7,170.9 294.5,170.9" fill="none" stroke="#f0a040" stroke-width="4.40" stroke-dasharray="0 3.60" stroke-linecap="round"/>
<path d="M265.0,172.4 C266.5,172.1 270.6,171.3 273.8,170.9 C276.9,170.6 280.4,170.5 283.9,170.5 C287.3,170.5 292.7,170.9 294.5,170.9" fill="none" stroke="#fae4c9" stroke-width="2.80" stroke-dasharray="0 3.60" stroke-linecap="round"/>
<path d="M265.0,172.4 C266.5,172.1 270.6,171.3 273.8,170.9 C276.9,170.6 280.4,170.5 283.9,170.5 C287.3,170.5 292.7,170.9 294.5,170.9" fill="none" stroke="#a8702c" stroke-width="1" stroke-dasharray="0 3.60" stroke-linecap="round"/>
<path d="M273.8,180.5 C274.8,180.2 277.7,179.2 279.9,178.6 C282.0,178.0 284.5,177.2 286.9,176.7 C289.4,176.2 293.2,175.9 294.5,175.7" fill="none" stroke="#e63a2a" stroke-width="4.40" stroke-dasharray="0 3.60" stroke-linecap="round"/>
<path d="M273.8,180.5 C274.8,180.2 277.7,179.2 279.9,178.6 C282.0,178.0 284.5,177.2 286.9,176.7 C289.4,176.2 293.2,175.9 294.5,175.7" fill="none" stroke="#f8c7c3" stroke-width="2.80" stroke-dasharray="0 3.60" stroke-linecap="round"/>
<path d="M273.8,180.5 C274.8,180.2 277.7,179.2 279.9,178.6 C282.0,178.0 284.5,177.2 286.9,176.7 C289.4,176.2 293.2,175.9 294.5,175.7" fill="none" stroke="#a1281d" stroke-width="1" stroke-dasharray="0 3.60" stroke-linecap="round"/>
<path d="M214.2,182.7 C215.7,182.4 220.5,181.4 223.3,181.0 C226.1,180.6 228.7,180.3 231.1,180.5 C233.4,180.8 235.4,181.5 237.4,182.4 C239.5,183.4 242.5,185.6 243.5,186.3" fill="none" stroke="#2828b0" stroke-width="4.00" stroke-dasharray="0 3.24" stroke-linecap="round"/>
<path d="M214.2,182.7 C215.7,182.4 220.5,181.4 223.3,181.0 C226.1,180.6 228.7,180.3 231.1,180.5 C233.4,180.8 235.4,181.5 237.4,182.4 C239.5,183.4 242.5,185.6 243.5,186.3" fill="none" stroke="#c2c2e8" stroke-width="2.40" stroke-dasharray="0 3.24" stroke-linecap="round"/>
<path d="M214.2,182.7 C215.7,182.4 220.5,181.4 223.3,181.0 C226.1,180.6 228.7,180.3 231.1,180.5 C233.4,180.8 235.4,181.5 237.4,182.4 C239.5,183.4 242.5,185.6 243.5,186.3" fill="none" stroke="#1c1c7b" stroke-width="1" stroke-dasharray="0 3.24" stroke-linecap="round"/>
<path d="M214.2,183.8 C215.7,183.9 220.5,183.9 223.3,184.3 C226.1,184.8 228.9,185.7 231.1,186.3 C233.3,186.8 234.7,187.1 236.4,187.7 C238.2,188.3 239.8,188.9 241.5,190.1 C243.2,191.3 244.5,192.7 246.5,195.0 C248.5,197.4 251.4,201.4 253.6,204.1 C255.8,206.8 257.8,209.7 259.7,211.2 C261.6,212.7 263.2,214.0 265.0,213.3 C266.9,212.6 268.8,209.5 270.8,207.2 C272.7,204.8 275.0,201.3 276.8,199.1 C278.7,196.9 280.0,196.0 281.9,194.0 C283.7,192.0 285.8,189.1 287.9,187.2 C290.0,185.3 293.4,183.2 294.5,182.4" fill="none" stroke="#40c840" stroke-width="4.00" stroke-dasharray="0 3.24" stroke-linecap="round"/>
<path d="M214.2,183.8 C215.7,183.9 220.5,183.9 223.3,184.3 C226.1,184.8 228.9,185.7 231.1,186.3 C233.3,186.8 234.7,187.1 236.4,187.7 C238.2,188.3 239.8,188.9 241.5,190.1 C243.2,191.3 244.5,192.7 246.5,195.0 C248.5,197.4 251.4,201.4 253.6,204.1 C255.8,206.8 257.8,209.7 259.7,211.2 C261.6,212.7 263.2,214.0 265.0,213.3 C266.9,212.6 268.8,209.5 270.8,207.2 C272.7,204.8 275.0,201.3 276.8,199.1 C278.7,196.9 280.0,196.0 281.9,194.0 C283.7,192.0 285.8,189.1 287.9,187.2 C290.0,185.3 293.4,183.2 294.5,182.4" fill="none" stroke="#c9efc9" stroke-width="2.40" stroke-dasharray="0 3.24" stroke-linecap="round"/>
<path d="M214.2,183.8 C215.7,183.9 220.5,183.9 223.3,184.3 C226.1,184.8 228.9,185.7 231.1,186.3 C233.3,186.8 234.7,187.1 236.4,187.7 C238.2,188.3 239.8,188.9 241.5,190.1 C243.2,191.3 244.5,192.7 246.5,195.0 C248.5,197.4 251.4,201.4 253.6,204.1 C255.8,206.8 257.8,209.7 259.7,211.2 C261.6,212.7 263.2,214.0 265.0,213.3 C266.9,212.6 268.8,209.5 270.8,207.2 C272.7,204.8 275.0,201.3 276.8,199.1 C278.7,196.9 280.0,196.0 281.9,194.0 C283.7,192.0 285.8,189.1 287.9,187.2 C290.0,185.3 293.4,183.2 294.5,182.4" fill="none" stroke="#2c8c2c" stroke-width="1" stroke-dasharray="0 3.24" stroke-linecap="round"/>
<path d="M217.2,189.1 C218.1,188.9 220.6,188.1 222.3,187.7 C224.0,187.3 225.5,187.0 227.3,186.7 C229.2,186.5 232.4,186.3 233.4,186.3" fill="none" stroke="#e63a2a" stroke-width="4.80" stroke-dasharray="0 3.96" stroke-linecap="round"/>
<path d="M217.2,189.1 C218.1,188.9 220.6,188.1 222.3,187.7 C224.0,187.3 225.5,187.0 227.3,186.7 C229.2,186.5 232.4,186.3 233.4,186.3" fill="none" stroke="#f8c7c3" stroke-width="3.20" stroke-dasharray="0 3.96" stroke-linecap="round"/>
<path d="M217.2,189.1 C218.1,188.9 220.6,188.1 222.3,187.7 C224.0,187.3 225.5,187.0 227.3,186.7 C229.2,186.5 232.4,186.3 233.4,186.3" fill="none" stroke="#a1281d" stroke-width="1" stroke-dasharray="0 3.96" stroke-linecap="round"/>
<path d="M243.5,189.1 C244.5,188.4 247.4,186.3 249.6,184.8 C251.7,183.4 254.0,181.6 256.6,180.5 C259.2,179.4 262.1,178.1 265.0,178.1 C267.9,178.1 271.3,179.4 273.8,180.5 C276.3,181.6 278.0,183.4 279.9,184.8 C281.7,186.3 284.1,188.4 284.9,189.1" fill="none" stroke="#e63a2a" stroke-width="5.60" stroke-dasharray="0 4.68" stroke-linecap="round"/>
<path d="M243.5,189.1 C244.5,188.4 247.4,186.3 249.6,184.8 C251.7,183.4 254.0,181.6 256.6,180.5 C259.2,179.4 262.1,178.1 265.0,178.1 C267.9,178.1 271.3,179.4 273.8,180.5 C276.3,181.6 278.0,183.4 279.9,184.8 C281.7,186.3 284.1,188.4 284.9,189.1" fill="none" stroke="#f8c7c3" stroke-width="4.00" stroke-dasharray="0 4.68" stroke-linecap="round"/>
<path d="M243.5,189.1 C244.5,188.4 247.4,186.3 249.6,184.8 C251.7,183.4 254.0,181.6 256.6,180.5 C259.2,179.4 262.1,178.1 265.0,178.1 C267.9,178.1 271.3,179.4 273.8,180.5 C276.3,181.6 278.0,183.4 279.9,184.8 C281.7,186.3 284.1,188.4 284.9,189.1" fill="none" stroke="#a1281d" stroke-width="1" stroke-dasharray="0 4.68" stroke-linecap="round"/>
<path d="M243.5,192.0 C244.8,192.3 248.0,193.6 251.6,194.0 C255.2,194.4 261.0,194.5 265.0,194.5 C269.0,194.5 272.5,194.4 275.8,194.0 C279.1,193.6 283.4,192.3 284.9,192.0" fill="none" stroke="#e63a2a" stroke-width="5.00" stroke-dasharray="0 4.14" stroke-linecap="round"/>
<path d="M243.5,192.0 C244.8,192.3 248.0,193.6 251.6,194.0 C255.2,194.4 261.0,194.5 265.0,194.5 C269.0,194.5 272.5,194.4 275.8,194.0 C279.1,193.6 283.4,192.3 284.9,192.0" fill="none" stroke="#f8c7c3" stroke-width="3.40" stroke-dasharray="0 4.14" stroke-linecap="round"/>
<path d="M243.5,192.0 C244.8,192.3 248.0,193.6 251.6,194.0 C255.2,194.4 261.0,194.5 265.0,194.5 C269.0,194.5 272.5,194.4 275.8,194.0 C279.1,193.6 283.4,192.3 284.9,192.0" fill="none" stroke="#a1281d" stroke-width="1" stroke-dasharray="0 4.14" stroke-linecap="round"/>
<path d="M247.5,189.1 C249.0,188.3 253.7,185.3 256.6,184.3 C259.5,183.4 262.1,183.4 265.0,183.4 C267.9,183.4 271.0,183.4 273.8,184.3 C276.6,185.3 280.5,188.3 281.9,189.1" fill="none" stroke="#e63a2a" stroke-width="5.00" stroke-dasharray="0 4.14" stroke-linecap="round"/>
<path d="M247.5,189.1 C249.0,188.3 253.7,185.3 256.6,184.3 C259.5,183.4 262.1,183.4 265.0,183.4 C267.9,183.4 271.0,183.4 273.8,184.3 C276.6,185.3 280.5,188.3 281.9,189.1" fill="none" stroke="#f8c7c3" stroke-width="3.40" stroke-dasharray="0 4.14" stroke-linecap="round"/>
<path d="M247.5,189.1 C249.0,188.3 253.7,185.3 256.6,184.3 C259.5,183.4 262.1,183.4 265.0,183.4 C267.9,183.4 271.0,183.4 273.8,184.3 C276.6,185.3 280.5,188.3 281.9,189.1" fill="none" stroke="#a1281d" stroke-width="1" stroke-dasharray="0 4.14" stroke-linecap="round"/>
<path d="M249.6,191.0 C250.9,190.6 255.1,189.1 257.6,188.7 C260.2,188.2 262.5,188.2 265.0,188.2 C267.5,188.2 270.3,188.2 272.8,188.7 C275.3,189.1 278.7,190.6 279.9,191.0" fill="none" stroke="#e63a2a" stroke-width="4.40" stroke-dasharray="0 3.60" stroke-linecap="round"/>
<path d="M249.6,191.0 C250.9,190.6 255.1,189.1 257.6,188.7 C260.2,188.2 262.5,188.2 265.0,188.2 C267.5,188.2 270.3,188.2 272.8,188.7 C275.3,189.1 278.7,190.6 279.9,191.0" fill="none" stroke="#f8c7c3" stroke-width="2.80" stroke-dasharray="0 3.60" stroke-linecap="round"/>
<path d="M249.6,191.0 C250.9,190.6 255.1,189.1 257.6,188.7 C260.2,188.2 262.5,188.2 265.0,188.2 C267.5,188.2 270.3,188.2 272.8,188.7 C275.3,189.1 278.7,190.6 279.9,191.0" fill="none" stroke="#a1281d" stroke-width="1" stroke-dasharray="0 3.60" stroke-linecap="round"/>
<path d="M214.2,191.5 C215.7,191.9 220.5,192.8 223.3,193.5 C226.1,194.2 228.5,195.1 231.1,195.5 C233.6,196.0 236.0,196.1 238.4,196.0 C240.8,196.0 243.3,195.5 245.5,195.0 C247.7,194.5 250.6,193.3 251.6,193.0" fill="none" stroke="#2828b0" stroke-width="4.00" stroke-dasharray="0 3.24" stroke-linecap="round"/>
<path d="M214.2,191.5 C215.7,191.9 220.5,192.8 223.3,193.5 C226.1,194.2 228.5,195.1 231.1,195.5 C233.6,196.0 236.0,196.1 238.4,196.0 C240.8,196.0 243.3,195.5 245.5,195.0 C247.7,194.5 250.6,193.3 251.6,193.0" fill="none" stroke="#c2c2e8" stroke-width="2.40" stroke-dasharray="0 3.24" stroke-linecap="round"/>
<path d="M214.2,191.5 C215.7,191.9 220.5,192.8 223.3,193.5 C226.1,194.2 228.5,195.1 231.1,195.5 C233.6,196.0 236.0,196.1 238.4,196.0 C240.8,196.0 243.3,195.5 245.5,195.0 C247.7,194.5 250.6,193.3 251.6,193.0" fill="none" stroke="#1c1c7b" stroke-width="1" stroke-dasharray="0 3.24" stroke-linecap="round"/>
<path d="M281.9,191.0 C282.9,191.0 285.8,191.0 287.9,191.0 C290.0,191.1 293.4,191.4 294.5,191.5" fill="none" stroke="#2828b0" stroke-width="4.00" stroke-dasharray="0 3.24" stroke-linecap="round"/>
<path d="M281.9,191.0 C282.9,191.0 285.8,191.0 287.9,191.0 C290.0,191.1 293.4,191.4 294.5,191.5" fill="none" stroke="#c2c2e8" stroke-width="2.40" stroke-dasharray="0 3.24" stroke-linecap="round"/>
<path d="M281.9,191.0 C282.9,191.0 285.8,191.0 287.9,191.0 C290.0,191.1 293.4,191.4 294.5,191.5" fill="none" stroke="#1c1c7b" stroke-width="1" stroke-dasharray="0 3.24" stroke-linecap="round"/>
<path d="M241.5,213.2 C242.7,213.5 246.0,214.4 248.5,215.2 C251.1,216.1 253.9,217.3 256.6,218.3 C259.4,219.2 262.1,220.8 265.0,220.8 C267.9,220.8 270.6,219.4 273.8,218.3 C276.9,217.2 280.4,215.1 283.9,214.2 C287.3,213.3 292.7,213.0 294.5,212.7" fill="none" stroke="#2828b0" stroke-width="5.20" stroke-dasharray="0 4.32" stroke-linecap="round"/>
<path d="M241.5,213.2 C242.7,213.5 246.0,214.4 248.5,215.2 C251.1,216.1 253.9,217.3 256.6,218.3 C259.4,219.2 262.1,220.8 265.0,220.8 C267.9,220.8 270.6,219.4 273.8,218.3 C276.9,217.2 280.4,215.1 283.9,214.2 C287.3,213.3 292.7,213.0 294.5,212.7" fill="none" stroke="#c2c2e8" stroke-width="3.60" stroke-dasharray="0 4.32" stroke-linecap="round"/>
<path d="M241.5,213.2 C242.7,213.5 246.0,214.4 248.5,215.2 C251.1,216.1 253.9,217.3 256.6,218.3 C259.4,219.2 262.1,220.8 265.0,220.8 C267.9,220.8 270.6,219.4 273.8,218.3 C276.9,217.2 280.4,215.1 283.9,214.2 C287.3,213.3 292.7,213.0 294.5,212.7" fill="none" stroke="#1c1c7b" stroke-width="1" stroke-dasharray="0 4.32" stroke-linecap="round"/>
<path d="M241.5,225.3 C243.2,225.5 247.6,226.1 251.6,226.3 C255.5,226.6 261.3,226.8 265.0,226.8 C268.7,226.8 271.0,226.5 273.8,226.3 C276.6,226.2 279.3,226.7 281.9,225.8 C284.4,225.0 286.8,222.9 288.9,221.3 C291.0,219.7 293.6,217.1 294.5,216.2" fill="none" stroke="#40c840" stroke-width="4.00" stroke-dasharray="0 3.24" stroke-linecap="round"/>
<path d="M241.5,225.3 C243.2,225.5 247.6,226.1 251.6,226.3 C255.5,226.6 261.3,226.8 265.0,226.8 C268.7,226.8 271.0,226.5 273.8,226.3 C276.6,226.2 279.3,226.7 281.9,225.8 C284.4,225.0 286.8,222.9 288.9,221.3 C291.0,219.7 293.6,217.1 294.5,216.2" fill="none" stroke="#c9efc9" stroke-width="2.40" stroke-dasharray="0 3.24" stroke-linecap="round"/>
<path d="M241.5,225.3 C243.2,225.5 247.6,226.1 251.6,226.3 C255.5,226.6 261.3,226.8 265.0,226.8 C268.7,226.8 271.0,226.5 273.8,226.3 C276.6,226.2 279.3,226.7 281.9,225.8 C284.4,225.0 286.8,222.9 288.9,221.3 C291.0,219.7 293.6,217.1 294.5,216.2" fill="none" stroke="#2c8c2c" stroke-width="1" stroke-dasharray="0 3.24" stroke-linecap="round"/>
<path d="M229.4,199.1 C230.0,199.7 232.2,202.0 233.4,203.1 C234.6,204.2 235.2,205.0 236.4,205.6 C237.6,206.2 238.9,206.7 240.5,206.6 C242.0,206.6 244.7,205.4 245.5,205.1" fill="none" stroke="#7030a0" stroke-width="3.40" stroke-dasharray="0 2.70" stroke-linecap="round"/>
<path d="M229.4,199.1 C230.0,199.7 232.2,202.0 233.4,203.1 C234.6,204.2 235.2,205.0 236.4,205.6 C237.6,206.2 238.9,206.7 240.5,206.6 C242.0,206.6 244.7,205.4 245.5,205.1" fill="none" stroke="#d6c5e4" stroke-width="1.80" stroke-dasharray="0 2.70" stroke-linecap="round"/>
<path d="M229.4,199.1 C230.0,199.7 232.2,202.0 233.4,203.1 C234.6,204.2 235.2,205.0 236.4,205.6 C237.6,206.2 238.9,206.7 240.5,206.6 C242.0,206.6 244.7,205.4 245.5,205.1" fill="none" stroke="#4e2170" stroke-width="1" stroke-dasharray="0 2.70" stroke-linecap="round"/>
<path d="M214.2,207.2 C215.7,206.3 220.5,203.6 223.3,202.1 C226.1,200.6 229.0,199.2 231.1,198.1 C233.1,196.9 234.7,195.5 235.4,195.0" fill="none" stroke="#f0a040" stroke-width="2.60" stroke-dasharray="0 2.86" stroke-linecap="round"/>
<path d="M215.2,214.2 C216.1,213.4 218.6,210.7 220.3,209.2 C221.9,207.7 223.6,206.6 225.3,205.1 C227.0,203.6 229.5,200.9 230.4,200.1" fill="none" stroke="#7030a0" stroke-width="2.40" stroke-dasharray="0 2.64" stroke-linecap="round"/>
<path d="M214.2,211.2 C215.0,212.0 217.7,214.7 219.3,216.2 C220.8,217.8 221.3,218.9 223.3,220.3 C225.3,221.6 228.5,223.1 231.1,224.3 C233.6,225.5 236.0,226.5 238.4,227.3 C240.8,228.2 244.3,229.0 245.5,229.4" fill="none" stroke="#e63a2a" stroke-width="4.40" stroke-dasharray="0 3.60" stroke-linecap="round"/>
<path d="M214.2,211.2 C215.0,212.0 217.7,214.7 219.3,216.2 C220.8,217.8 221.3,218.9 223.3,220.3 C225.3,221.6 228.5,223.1 231.1,224.3 C233.6,225.5 236.0,226.5 238.4,227.3 C240.8,228.2 244.3,229.0 245.5,229.4" fill="none" stroke="#f8c7c3" stroke-width="2.80" stroke-dasharray="0 3.60" stroke-linecap="round"/>
<path d="M214.2,211.2 C215.0,212.0 217.7,214.7 219.3,216.2 C220.8,217.8 221.3,218.9 223.3,220.3 C225.3,221.6 228.5,223.1 231.1,224.3 C233.6,225.5 236.0,226.5 238.4,227.3 C240.8,228.2 244.3,229.0 245.5,229.4" fill="none" stroke="#a1281d" stroke-width="1" stroke-dasharray="0 3.60" stroke-linecap="round"/>
<path d="M214.2,236.4 C215.7,235.8 220.5,233.7 223.3,232.4 C226.1,231.1 229.0,229.9 231.1,228.9 C233.1,227.9 234.7,226.8 235.4,226.3" fill="none" stroke="#e8a0b8" stroke-width="4.00" stroke-dasharray="0 3.24" stroke-linecap="round"/>
<path d="M214.2,236.4 C215.7,235.8 220.5,233.7 223.3,232.4 C226.1,231.1 229.0,229.9 231.1,228.9 C233.1,227.9 234.7,226.8 235.4,226.3" fill="none" stroke="#f8e4eb" stroke-width="2.40" stroke-dasharray="0 3.24" stroke-linecap="round"/>
<path d="M214.2,236.4 C215.7,235.8 220.5,233.7 223.3,232.4 C226.1,231.1 229.0,229.9 231.1,228.9 C233.1,227.9 234.7,226.8 235.4,226.3" fill="none" stroke="#a27080" stroke-width="1" stroke-dasharray="0 3.24" stroke-linecap="round"/>
<path d="M214.2,228.4 C215.7,228.4 220.5,228.4 223.3,228.4 C226.1,228.4 228.5,228.2 231.1,228.4 C233.6,228.5 236.0,228.7 238.4,229.4 C240.8,230.0 244.3,231.9 245.5,232.4" fill="none" stroke="#e63a2a" stroke-width="4.40" stroke-dasharray="0 3.60" stroke-linecap="round"/>
<path d="M214.2,228.4 C215.7,228.4 220.5,228.4 223.3,228.4 C226.1,228.4 228.5,228.2 231.1,228.4 C233.6,228.5 236.0,228.7 238.4,229.4 C240.8,230.0 244.3,231.9 245.5,232.4" fill="none" stroke="#f8c7c3" stroke-width="2.80" stroke-dasharray="0 3.60" stroke-linecap="round"/>
<path d="M214.2,228.4 C215.7,228.4 220.5,228.4 223.3,228.4 C226.1,228.4 228.5,228.2 231.1,228.4 C233.6,228.5 236.0,228.7 238.4,229.4 C240.8,230.0 244.3,231.9 245.5,232.4" fill="none" stroke="#a1281d" stroke-width="1" stroke-dasharray="0 3.60" stroke-linecap="round"/>
<path d="M231.1,228.4 C232.3,229.0 236.0,230.9 238.4,232.4 C240.8,233.9 242.8,235.9 245.5,237.4 C248.2,239.0 251.4,240.6 254.6,241.5 C257.9,242.3 262.3,242.8 265.0,242.5 C267.7,242.2 268.7,240.8 270.8,240.0 C272.8,239.1 275.1,238.9 277.3,237.4 C279.6,236.0 281.9,234.0 284.2,231.4 C286.5,228.7 289.4,223.8 291.2,221.6 C292.9,219.4 293.9,218.8 294.5,218.3" fill="none" stroke="#f0a040" stroke-width="2.80" stroke-dasharray="0 3.08" stroke-linecap="round"/>
<path d="M265.0,241.5 C266.5,241.2 270.6,240.6 273.8,240.0 C276.9,239.3 280.4,238.0 283.9,237.4 C287.3,236.9 292.7,236.6 294.5,236.4" fill="none" stroke="#f0a080" stroke-width="4.40" stroke-dasharray="0 3.60" stroke-linecap="round"/>
<path d="M265.0,241.5 C266.5,241.2 270.6,240.6 273.8,240.0 C276.9,239.3 280.4,238.0 283.9,237.4 C287.3,236.9 292.7,236.6 294.5,236.4" fill="none" stroke="#fae4db" stroke-width="2.80" stroke-dasharray="0 3.60" stroke-linecap="round"/>
<path d="M265.0,241.5 C266.5,241.2 270.6,240.6 273.8,240.0 C276.9,239.3 280.4,238.0 283.9,237.4 C287.3,236.9 292.7,236.6 294.5,236.4" fill="none" stroke="#a87059" stroke-width="1" stroke-dasharray="0 3.60" stroke-linecap="round"/>
<path d="M214.2,248.2 C215.7,248.7 220.5,250.1 223.3,251.1 C226.1,252.0 228.5,253.3 231.1,253.9 C233.6,254.5 236.0,255.3 238.4,254.8 C240.8,254.4 243.3,252.2 245.5,251.1 C247.7,249.9 250.6,248.7 251.6,248.2" fill="none" stroke="#2828b0" stroke-width="4.40" stroke-dasharray="0 3.60" stroke-linecap="round"/>
<path d="M214.2,248.2 C215.7,248.7 220.5,250.1 223.3,251.1 C226.1,252.0 228.5,253.3 231.1,253.9 C233.6,254.5 236.0,255.3 238.4,254.8 C240.8,254.4 243.3,252.2 245.5,251.1 C247.7,249.9 250.6,248.7 251.6,248.2" fill="none" stroke="#c2c2e8" stroke-width="2.80" stroke-dasharray="0 3.60" stroke-linecap="round"/>
<path d="M214.2,248.2 C215.7,248.7 220.5,250.1 223.3,251.1 C226.1,252.0 228.5,253.3 231.1,253.9 C233.6,254.5 236.0,255.3 238.4,254.8 C240.8,254.4 243.3,252.2 245.5,251.1 C247.7,249.9 250.6,248.7 251.6,248.2" fill="none" stroke="#1c1c7b" stroke-width="1" stroke-dasharray="0 3.60" stroke-linecap="round"/>
<path d="M245.5,247.7 C246.9,247.6 250.3,246.9 253.6,246.8 C256.8,246.6 261.6,246.7 265.0,246.8 C268.4,246.9 271.3,247.0 273.8,247.2 C276.3,247.5 278.8,248.0 279.9,248.2" fill="none" stroke="#f0a040" stroke-width="5.20" stroke-dasharray="0 4.32" stroke-linecap="round"/>
<path d="M245.5,247.7 C246.9,247.6 250.3,246.9 253.6,246.8 C256.8,246.6 261.6,246.7 265.0,246.8 C268.4,246.9 271.3,247.0 273.8,247.2 C276.3,247.5 278.8,248.0 279.9,248.2" fill="none" stroke="#fae4c9" stroke-width="3.60" stroke-dasharray="0 4.32" stroke-linecap="round"/>
<path d="M245.5,247.7 C246.9,247.6 250.3,246.9 253.6,246.8 C256.8,246.6 261.6,246.7 265.0,246.8 C268.4,246.9 271.3,247.0 273.8,247.2 C276.3,247.5 278.8,248.0 279.9,248.2" fill="none" stroke="#a8702c" stroke-width="1" stroke-dasharray="0 4.32" stroke-linecap="round"/>
<path d="M241.5,252.0 C243.5,252.1 249.7,252.3 253.6,252.5 C257.5,252.6 261.6,252.9 265.0,252.9 C268.4,253.0 271.3,253.2 273.8,252.9 C276.3,252.7 278.8,251.8 279.9,251.5" fill="none" stroke="#e63a2a" stroke-width="4.80" stroke-dasharray="0 3.96" stroke-linecap="round"/>
<path d="M241.5,252.0 C243.5,252.1 249.7,252.3 253.6,252.5 C257.5,252.6 261.6,252.9 265.0,252.9 C268.4,253.0 271.3,253.2 273.8,252.9 C276.3,252.7 278.8,251.8 279.9,251.5" fill="none" stroke="#f8c7c3" stroke-width="3.20" stroke-dasharray="0 3.96" stroke-linecap="round"/>
<path d="M241.5,252.0 C243.5,252.1 249.7,252.3 253.6,252.5 C257.5,252.6 261.6,252.9 265.0,252.9 C268.4,253.0 271.3,253.2 273.8,252.9 C276.3,252.7 278.8,251.8 279.9,251.5" fill="none" stroke="#a1281d" stroke-width="1" stroke-dasharray="0 3.96" stroke-linecap="round"/>
<path d="M231.4,253.9 C232.4,253.4 235.4,251.8 237.4,251.1 C239.5,250.3 242.5,249.5 243.5,249.2" fill="none" stroke="#40c840" stroke-width="4.00" stroke-dasharray="0 3.24" stroke-linecap="round"/>
<path d="M231.4,253.9 C232.4,253.4 235.4,251.8 237.4,251.1 C239.5,250.3 242.5,249.5 243.5,249.2" fill="none" stroke="#c9efc9" stroke-width="2.40" stroke-dasharray="0 3.24" stroke-linecap="round"/>
<path d="M231.4,253.9 C232.4,253.4 235.4,251.8 237.4,251.1 C239.5,250.3 242.5,249.5 243.5,249.2" fill="none" stroke="#2c8c2c" stroke-width="1" stroke-dasharray="0 3.24" stroke-linecap="round"/>
<path d="M278.8,252.0 C280.0,252.6 283.3,254.9 285.9,255.8 C288.5,256.8 293.1,257.4 294.5,257.7" fill="none" stroke="#40c840" stroke-width="4.00" stroke-dasharray="0 3.24" stroke-linecap="round"/>
<path d="M278.8,252.0 C280.0,252.6 283.3,254.9 285.9,255.8 C288.5,256.8 293.1,257.4 294.5,257.7" fill="none" stroke="#c9efc9" stroke-width="2.40" stroke-dasharray="0 3.24" stroke-linecap="round"/>
<path d="M278.8,252.0 C280.0,252.6 283.3,254.9 285.9,255.8 C288.5,256.8 293.1,257.4 294.5,257.7" fill="none" stroke="#2c8c2c" stroke-width="1" stroke-dasharray="0 3.24" stroke-linecap="round"/>
<path d="M214.2,257.7 C215.4,257.4 219.1,256.4 221.3,255.8 C223.5,255.2 226.3,254.2 227.3,253.9" fill="none" stroke="#40c840" stroke-width="4.00" stroke-dasharray="0 3.24" stroke-linecap="round"/>
<path d="M214.2,257.7 C215.4,257.4 219.1,256.4 221.3,255.8 C223.5,255.2 226.3,254.2 227.3,253.9" fill="none" stroke="#c9efc9" stroke-width="2.40" stroke-dasharray="0 3.24" stroke-linecap="round"/>
<path d="M214.2,257.7 C215.4,257.4 219.1,256.4 221.3,255.8 C223.5,255.2 226.3,254.2 227.3,253.9" fill="none" stroke="#2c8c2c" stroke-width="1" stroke-dasharray="0 3.24" stroke-linecap="round"/>
<path d="M278.8,248.2 C280.2,248.0 284.3,247.4 286.9,247.2 C289.5,247.1 293.2,247.2 294.5,247.2" fill="none" stroke="#7030a0" stroke-width="4.00" stroke-dasharray="0 3.24" stroke-linecap="round"/>
<path d="M278.8,248.2 C280.2,248.0 284.3,247.4 286.9,247.2 C289.5,247.1 293.2,247.2 294.5,247.2" fill="none" stroke="#d6c5e4" stroke-width="2.40" stroke-dasharray="0 3.24" stroke-linecap="round"/>
<path d="M278.8,248.2 C280.2,248.0 284.3,247.4 286.9,247.2 C289.5,247.1 293.2,247.2 294.5,247.2" fill="none" stroke="#4e2170" stroke-width="1" stroke-dasharray="0 3.24" stroke-linecap="round"/>
<path d="M231.1,260.6 C232.3,260.2 236.0,259.0 238.4,258.6 C240.8,258.3 243.0,258.3 245.5,258.6 C248.0,259.0 250.3,259.6 253.6,260.6 C256.8,261.5 261.6,264.1 265.0,264.4 C268.4,264.6 270.6,262.6 273.8,262.0 C276.9,261.3 280.4,260.9 283.9,260.6 C287.3,260.2 292.7,260.2 294.5,260.1" fill="none" stroke="#e8a0b8" stroke-width="3.60" stroke-dasharray="0 2.88" stroke-linecap="round"/>
<path d="M231.1,260.6 C232.3,260.2 236.0,259.0 238.4,258.6 C240.8,258.3 243.0,258.3 245.5,258.6 C248.0,259.0 250.3,259.6 253.6,260.6 C256.8,261.5 261.6,264.1 265.0,264.4 C268.4,264.6 270.6,262.6 273.8,262.0 C276.9,261.3 280.4,260.9 283.9,260.6 C287.3,260.2 292.7,260.2 294.5,260.1" fill="none" stroke="#f8e4eb" stroke-width="2.00" stroke-dasharray="0 2.88" stroke-linecap="round"/>
<path d="M231.1,260.6 C232.3,260.2 236.0,259.0 238.4,258.6 C240.8,258.3 243.0,258.3 245.5,258.6 C248.0,259.0 250.3,259.6 253.6,260.6 C256.8,261.5 261.6,264.1 265.0,264.4 C268.4,264.6 270.6,262.6 273.8,262.0 C276.9,261.3 280.4,260.9 283.9,260.6 C287.3,260.2 292.7,260.2 294.5,260.1" fill="none" stroke="#a27080" stroke-width="1" stroke-dasharray="0 2.88" stroke-linecap="round"/>
<path d="M214.2,261.2 C215.7,261.3 220.5,261.4 223.3,261.5 C226.1,261.6 227.7,261.5 231.1,262.0 C234.4,262.5 239.7,263.8 243.5,264.4 C247.2,264.9 250.0,265.2 253.6,265.3 C257.2,265.4 261.6,264.7 265.0,264.8 C268.4,265.0 270.6,265.9 273.8,266.2 C276.9,266.6 280.4,267.0 283.9,267.2 C287.3,267.4 292.7,267.2 294.5,267.2" fill="none" stroke="#f0a040" stroke-width="4.20" stroke-dasharray="0 3.42" stroke-linecap="round"/>
<path d="M214.2,261.2 C215.7,261.3 220.5,261.4 223.3,261.5 C226.1,261.6 227.7,261.5 231.1,262.0 C234.4,262.5 239.7,263.8 243.5,264.4 C247.2,264.9 250.0,265.2 253.6,265.3 C257.2,265.4 261.6,264.7 265.0,264.8 C268.4,265.0 270.6,265.9 273.8,266.2 C276.9,266.6 280.4,267.0 283.9,267.2 C287.3,267.4 292.7,267.2 294.5,267.2" fill="none" stroke="#fae4c9" stroke-width="2.60" stroke-dasharray="0 3.42" stroke-linecap="round"/>
<path d="M214.2,261.2 C215.7,261.3 220.5,261.4 223.3,261.5 C226.1,261.6 227.7,261.5 231.1,262.0 C234.4,262.5 239.7,263.8 243.5,264.4 C247.2,264.9 250.0,265.2 253.6,265.3 C257.2,265.4 261.6,264.7 265.0,264.8 C268.4,265.0 270.6,265.9 273.8,266.2 C276.9,266.6 280.4,267.0 283.9,267.2 C287.3,267.4 292.7,267.2 294.5,267.2" fill="none" stroke="#a8702c" stroke-width="1" stroke-dasharray="0 3.42" stroke-linecap="round"/>
<path d="M214.2,269.3 C217.0,269.1 226.2,268.2 231.1,268.1 C236.0,268.1 239.7,269.1 243.5,269.1 C247.2,269.1 250.0,268.8 253.6,268.1 C257.2,267.5 261.6,265.3 265.0,265.3 C268.4,265.3 270.6,267.4 273.8,268.1 C276.9,268.9 280.4,269.3 283.9,269.6 C287.3,269.8 292.7,269.6 294.5,269.6" fill="none" stroke="#f0a040" stroke-width="4.20" stroke-dasharray="0 3.42" stroke-linecap="round"/>
<path d="M214.2,269.3 C217.0,269.1 226.2,268.2 231.1,268.1 C236.0,268.1 239.7,269.1 243.5,269.1 C247.2,269.1 250.0,268.8 253.6,268.1 C257.2,267.5 261.6,265.3 265.0,265.3 C268.4,265.3 270.6,267.4 273.8,268.1 C276.9,268.9 280.4,269.3 283.9,269.6 C287.3,269.8 292.7,269.6 294.5,269.6" fill="none" stroke="#fae4c9" stroke-width="2.60" stroke-dasharray="0 3.42" stroke-linecap="round"/>
<path d="M214.2,269.3 C217.0,269.1 226.2,268.2 231.1,268.1 C236.0,268.1 239.7,269.1 243.5,269.1 C247.2,269.1 250.0,268.8 253.6,268.1 C257.2,267.5 261.6,265.3 265.0,265.3 C268.4,265.3 270.6,267.4 273.8,268.1 C276.9,268.9 280.4,269.3 283.9,269.6 C287.3,269.8 292.7,269.6 294.5,269.6" fill="none" stroke="#a8702c" stroke-width="1" stroke-dasharray="0 3.42" stroke-linecap="round"/>
<path d="M214.2,82.3 C216.0,81.8 221.5,80.0 225.0,79.5 C228.5,79.0 231.7,79.3 235.0,79.5 C238.3,79.7 241.7,80.2 245.0,80.5 C248.3,80.8 251.7,81.2 255.0,81.5 C258.3,81.8 261.7,81.8 265.0,82.0 C268.3,82.2 271.7,82.3 275.0,82.5 C278.3,82.7 281.8,82.8 285.0,83.0 C288.2,83.2 292.9,83.4 294.5,83.5" fill="none" stroke="#f0a040" stroke-width="3.60" stroke-dasharray="0 2.88" stroke-linecap="round"/>
<path d="M214.2,82.3 C216.0,81.8 221.5,80.0 225.0,79.5 C228.5,79.0 231.7,79.3 235.0,79.5 C238.3,79.7 241.7,80.2 245.0,80.5 C248.3,80.8 251.7,81.2 255.0,81.5 C258.3,81.8 261.7,81.8 265.0,82.0 C268.3,82.2 271.7,82.3 275.0,82.5 C278.3,82.7 281.8,82.8 285.0,83.0 C288.2,83.2 292.9,83.4 294.5,83.5" fill="none" stroke="#fae4c9" stroke-width="2.00" stroke-dasharray="0 2.88" stroke-linecap="round"/>
<path d="M214.2,82.3 C216.0,81.8 221.5,80.0 225.0,79.5 C228.5,79.0 231.7,79.3 235.0,79.5 C238.3,79.7 241.7,80.2 245.0,80.5 C248.3,80.8 251.7,81.2 255.0,81.5 C258.3,81.8 261.7,81.8 265.0,82.0 C268.3,82.2 271.7,82.3 275.0,82.5 C278.3,82.7 281.8,82.8 285.0,83.0 C288.2,83.2 292.9,83.4 294.5,83.5" fill="none" stroke="#a8702c" stroke-width="1" stroke-dasharray="0 2.88" stroke-linecap="round"/>
<path d="M214.2,86.0 C215.5,86.4 219.4,87.9 222.0,88.5 C224.6,89.1 227.0,89.4 230.0,89.5 C233.0,89.6 236.7,89.6 240.0,89.0 C243.3,88.4 247.0,86.9 250.0,86.0 C253.0,85.1 256.0,83.9 258.0,83.5 C260.0,83.1 260.0,83.2 262.0,83.5 C264.0,83.8 267.0,84.5 270.0,85.0 C273.0,85.5 275.9,86.2 280.0,86.5 C284.1,86.8 292.1,86.5 294.5,86.5" fill="none" stroke="#e8a0b8" stroke-width="3.40" stroke-dasharray="0 2.70" stroke-linecap="round"/>
<path d="M214.2,86.0 C215.5,86.4 219.4,87.9 222.0,88.5 C224.6,89.1 227.0,89.4 230.0,89.5 C233.0,89.6 236.7,89.6 240.0,89.0 C243.3,88.4 247.0,86.9 250.0,86.0 C253.0,85.1 256.0,83.9 258.0,83.5 C260.0,83.1 260.0,83.2 262.0,83.5 C264.0,83.8 267.0,84.5 270.0,85.0 C273.0,85.5 275.9,86.2 280.0,86.5 C284.1,86.8 292.1,86.5 294.5,86.5" fill="none" stroke="#f8e4eb" stroke-width="1.80" stroke-dasharray="0 2.70" stroke-linecap="round"/>
<path d="M214.2,86.0 C215.5,86.4 219.4,87.9 222.0,88.5 C224.6,89.1 227.0,89.4 230.0,89.5 C233.0,89.6 236.7,89.6 240.0,89.0 C243.3,88.4 247.0,86.9 250.0,86.0 C253.0,85.1 256.0,83.9 258.0,83.5 C260.0,83.1 260.0,83.2 262.0,83.5 C264.0,83.8 267.0,84.5 270.0,85.0 C273.0,85.5 275.9,86.2 280.0,86.5 C284.1,86.8 292.1,86.5 294.5,86.5" fill="none" stroke="#a27080" stroke-width="1" stroke-dasharray="0 2.70" stroke-linecap="round"/>
<path d="M214.2,92.5 C216.0,92.6 220.7,93.0 225.0,93.0 C229.3,93.0 235.0,92.6 240.0,92.5 C245.0,92.4 250.8,92.6 255.0,92.5 C259.2,92.4 260.8,92.0 265.0,92.0 C269.2,92.0 275.1,92.3 280.0,92.5 C284.9,92.7 292.1,92.9 294.5,93.0" fill="none" stroke="#f0a040" stroke-width="3.80" stroke-dasharray="0 3.06" stroke-linecap="round"/>
<path d="M214.2,92.5 C216.0,92.6 220.7,93.0 225.0,93.0 C229.3,93.0 235.0,92.6 240.0,92.5 C245.0,92.4 250.8,92.6 255.0,92.5 C259.2,92.4 260.8,92.0 265.0,92.0 C269.2,92.0 275.1,92.3 280.0,92.5 C284.9,92.7 292.1,92.9 294.5,93.0" fill="none" stroke="#fae4c9" stroke-width="2.20" stroke-dasharray="0 3.06" stroke-linecap="round"/>
<path d="M214.2,92.5 C216.0,92.6 220.7,93.0 225.0,93.0 C229.3,93.0 235.0,92.6 240.0,92.5 C245.0,92.4 250.8,92.6 255.0,92.5 C259.2,92.4 260.8,92.0 265.0,92.0 C269.2,92.0 275.1,92.3 280.0,92.5 C284.9,92.7 292.1,92.9 294.5,93.0" fill="none" stroke="#a8702c" stroke-width="1" stroke-dasharray="0 3.06" stroke-linecap="round"/>
<path d="M214.2,94.0 C216.0,94.2 221.5,94.9 225.0,95.0 C228.5,95.1 231.7,94.7 235.0,94.5 C238.3,94.3 241.7,94.2 245.0,94.0 C248.3,93.8 253.3,93.3 255.0,93.2" fill="none" stroke="#f0a040" stroke-width="2.40" stroke-dasharray="0 2.64" stroke-linecap="round"/>
</g>
<g clip-path="url(#cp3)">
<path d="M302.3,132.6 C304.0,132.8 309.5,133.3 312.3,134.1 C315.1,134.9 317.0,136.8 319.0,137.2 C321.0,137.5 322.2,136.3 324.3,136.0 C326.4,135.8 328.5,135.5 331.3,135.6 C334.1,135.8 337.8,136.4 341.3,137.0 C344.9,137.6 349.3,139.3 352.6,139.2 C355.9,139.0 358.2,136.9 361.3,136.0 C364.4,135.1 367.9,134.2 371.3,133.6 C374.7,133.0 380.1,132.7 381.8,132.6" fill="none" stroke="#40c840" stroke-width="3.00" stroke-dasharray="0 3.30" stroke-linecap="round"/>
<path d="M302.3,140.7 C303.6,140.7 307.5,140.7 310.3,140.7 C313.1,140.7 316.3,140.7 319.0,140.9 C321.7,141.1 323.9,141.4 326.3,141.8 C328.7,142.1 330.8,142.4 333.3,142.7 C335.8,143.0 338.1,143.4 341.3,143.7 C344.5,143.9 349.3,144.0 352.6,144.1 C355.9,144.3 358.2,144.5 361.3,144.4 C364.4,144.3 367.9,144.0 371.3,143.5 C374.7,142.9 380.1,141.6 381.8,141.3" fill="none" stroke="#2828b0" stroke-width="4.80" stroke-dasharray="0 3.96" stroke-linecap="round"/>
<path d="M302.3,140.7 C303.6,140.7 307.5,140.7 310.3,140.7 C313.1,140.7 316.3,140.7 319.0,140.9 C321.7,141.1 323.9,141.4 326.3,141.8 C328.7,142.1 330.8,142.4 333.3,142.7 C335.8,143.0 338.1,143.4 341.3,143.7 C344.5,143.9 349.3,144.0 352.6,144.1 C355.9,144.3 358.2,144.5 361.3,144.4 C364.4,144.3 367.9,144.0 371.3,143.5 C374.7,142.9 380.1,141.6 381.8,141.3" fill="none" stroke="#c2c2e8" stroke-width="3.20" stroke-dasharray="0 3.96" stroke-linecap="round"/>
<path d="M302.3,140.7 C303.6,140.7 307.5,140.7 310.3,140.7 C313.1,140.7 316.3,140.7 319.0,140.9 C321.7,141.1 323.9,141.4 326.3,141.8 C328.7,142.1 330.8,142.4 333.3,142.7 C335.8,143.0 338.1,143.4 341.3,143.7 C344.5,143.9 349.3,144.0 352.6,144.1 C355.9,144.3 358.2,144.5 361.3,144.4 C364.4,144.3 367.9,144.0 371.3,143.5 C374.7,142.9 380.1,141.6 381.8,141.3" fill="none" stroke="#1c1c7b" stroke-width="1" stroke-dasharray="0 3.96" stroke-linecap="round"/>
<path d="M302.3,144.7 C303.8,144.5 308.5,143.7 311.3,143.2 C314.1,142.7 316.5,141.8 319.0,141.8 C321.5,141.8 323.4,142.5 326.3,143.2 C329.2,143.8 331.9,145.2 336.3,145.6 C340.7,146.0 347.6,145.7 352.6,145.6 C357.6,145.5 361.4,145.3 366.3,145.1 C371.2,144.9 379.2,144.7 381.8,144.6" fill="none" stroke="#2828b0" stroke-width="3.20" stroke-dasharray="0 3.52" stroke-linecap="round"/>
<path d="M302.3,149.2 C303.6,149.7 307.5,151.4 310.3,152.3 C313.1,153.1 316.3,154.3 319.0,154.3 C321.7,154.3 323.9,152.9 326.3,152.3 C328.7,151.6 330.8,150.2 333.3,150.3 C335.8,150.3 338.1,151.6 341.3,152.8 C344.5,153.9 349.3,157.0 352.6,157.4 C355.9,157.7 358.5,155.6 361.3,154.7 C364.1,153.7 365.9,152.8 369.3,151.8 C372.7,150.8 379.7,149.2 381.8,148.7" fill="none" stroke="#2828b0" stroke-width="4.80" stroke-dasharray="0 3.96" stroke-linecap="round"/>
<path d="M302.3,149.2 C303.6,149.7 307.5,151.4 310.3,152.3 C313.1,153.1 316.3,154.3 319.0,154.3 C321.7,154.3 323.9,152.9 326.3,152.3 C328.7,151.6 330.8,150.2 333.3,150.3 C335.8,150.3 338.1,151.6 341.3,152.8 C344.5,153.9 349.3,157.0 352.6,157.4 C355.9,157.7 358.5,155.6 361.3,154.7 C364.1,153.7 365.9,152.8 369.3,151.8 C372.7,150.8 379.7,149.2 381.8,148.7" fill="none" stroke="#c2c2e8" stroke-width="3.20" stroke-dasharray="0 3.96" stroke-linecap="round"/>
<path d="M302.3,149.2 C303.6,149.7 307.5,151.4 310.3,152.3 C313.1,153.1 316.3,154.3 319.0,154.3 C321.7,154.3 323.9,152.9 326.3,152.3 C328.7,151.6 330.8,150.2 333.3,150.3 C335.8,150.3 338.1,151.6 341.3,152.8 C344.5,153.9 349.3,157.0 352.6,157.4 C355.9,157.7 358.5,155.6 361.3,154.7 C364.1,153.7 365.9,152.8 369.3,151.8 C372.7,150.8 379.7,149.2 381.8,148.7" fill="none" stroke="#1c1c7b" stroke-width="1" stroke-dasharray="0 3.96" stroke-linecap="round"/>
<path d="M302.3,164.5 C315.6,164.5 368.6,164.5 381.8,164.5" fill="none" stroke="#2828b0" stroke-width="4.00" stroke-dasharray="0 3.24" stroke-linecap="round"/>
<path d="M302.3,164.5 C315.6,164.5 368.6,164.5 381.8,164.5" fill="none" stroke="#c2c2e8" stroke-width="2.40" stroke-dasharray="0 3.24" stroke-linecap="round"/>
<path d="M302.3,164.5 C315.6,164.5 368.6,164.5 381.8,164.5" fill="none" stroke="#1c1c7b" stroke-width="1" stroke-dasharray="0 3.24" stroke-linecap="round"/>
<path d="M302.3,172.9 C303.3,172.1 306.5,169.1 308.3,168.1 C310.1,167.0 311.5,166.9 313.3,166.5 C315.1,166.1 316.8,165.6 319.0,165.7 C321.2,165.8 323.4,166.6 326.3,167.1 C329.2,167.7 333.3,168.4 336.3,169.0 C339.3,169.7 341.6,170.3 344.3,170.9 C347.0,171.5 349.8,172.0 352.6,172.7 C355.4,173.3 358.2,174.1 361.3,174.8 C364.4,175.4 367.9,176.0 371.3,176.7 C374.7,177.3 380.1,178.3 381.8,178.6" fill="none" stroke="#2828b0" stroke-width="4.40" stroke-dasharray="0 3.60" stroke-linecap="round"/>
<path d="M302.3,172.9 C303.3,172.1 306.5,169.1 308.3,168.1 C310.1,167.0 311.5,166.9 313.3,166.5 C315.1,166.1 316.8,165.6 319.0,165.7 C321.2,165.8 323.4,166.6 326.3,167.1 C329.2,167.7 333.3,168.4 336.3,169.0 C339.3,169.7 341.6,170.3 344.3,170.9 C347.0,171.5 349.8,172.0 352.6,172.7 C355.4,173.3 358.2,174.1 361.3,174.8 C364.4,175.4 367.9,176.0 371.3,176.7 C374.7,177.3 380.1,178.3 381.8,178.6" fill="none" stroke="#c2c2e8" stroke-width="2.80" stroke-dasharray="0 3.60" stroke-linecap="round"/>
<path d="M302.3,172.9 C303.3,172.1 306.5,169.1 308.3,168.1 C310.1,167.0 311.5,166.9 313.3,166.5 C315.1,166.1 316.8,165.6 319.0,165.7 C321.2,165.8 323.4,166.6 326.3,167.1 C329.2,167.7 333.3,168.4 336.3,169.0 C339.3,169.7 341.6,170.3 344.3,170.9 C347.0,171.5 349.8,172.0 352.6,172.7 C355.4,173.3 358.2,174.1 361.3,174.8 C364.4,175.4 367.9,176.0 371.3,176.7 C374.7,177.3 380.1,178.3 381.8,178.6" fill="none" stroke="#1c1c7b" stroke-width="1" stroke-dasharray="0 3.60" stroke-linecap="round"/>
<path d="M302.3,172.9 C302.8,173.3 304.1,174.8 305.3,175.7 C306.5,176.7 308.0,177.5 309.3,178.6 C310.6,179.7 311.8,181.0 313.3,182.4 C314.8,183.9 317.5,186.4 318.3,187.2" fill="none" stroke="#2828b0" stroke-width="2.40" stroke-dasharray="0 2.64" stroke-linecap="round"/>
<path d="M302.3,235.4 C303.8,234.5 308.5,231.6 311.3,229.9 C314.1,228.1 317.0,226.8 319.0,224.8 C321.0,222.9 321.6,221.2 323.3,218.3 C325.0,215.3 327.1,210.9 329.3,207.2 C331.5,203.4 333.8,200.2 336.3,196.0 C338.8,191.9 341.6,186.3 344.3,182.4 C347.0,178.6 349.8,174.3 352.6,172.9 C355.4,171.4 358.5,173.0 361.3,173.8 C364.1,174.6 366.8,176.5 369.3,177.6 C371.8,178.8 374.2,179.7 376.3,180.5 C378.4,181.3 380.9,182.1 381.8,182.4" fill="none" stroke="#2828b0" stroke-width="2.60" stroke-dasharray="0 2.86" stroke-linecap="round"/>
<path d="M367.3,195.0 C368.0,195.7 370.0,197.6 371.3,199.1 C372.6,200.6 374.1,202.4 375.3,204.1 C376.5,205.8 377.2,207.7 378.3,209.2 C379.4,210.7 381.2,212.5 381.8,213.2" fill="none" stroke="#2828b0" stroke-width="2.40" stroke-dasharray="0 2.64" stroke-linecap="round"/>
<path d="M367.3,193.0 C368.1,193.7 370.6,195.4 372.3,197.1 C374.0,198.7 375.7,201.1 377.3,203.1 C378.9,205.1 381.1,208.2 381.8,209.2" fill="none" stroke="#2828b0" stroke-width="2.20" stroke-dasharray="0 2.42" stroke-linecap="round"/>
<path d="M324.3,209.2 C325.1,210.0 327.3,212.0 329.3,214.2 C331.3,216.4 334.1,219.9 336.3,222.3 C338.5,224.7 340.5,226.7 342.3,228.4 C344.1,230.0 346.5,231.7 347.3,232.4" fill="none" stroke="#e63a2a" stroke-width="2.40" stroke-dasharray="0 2.64" stroke-linecap="round"/>
<path d="M352.6,172.4 C354.1,172.1 358.2,171.3 361.3,170.9 C364.4,170.6 367.9,170.5 371.3,170.5 C374.7,170.5 380.1,170.9 381.8,170.9" fill="none" stroke="#e63a2a" stroke-width="2.40" stroke-dasharray="0 2.64" stroke-linecap="round"/>
<path d="M361.3,180.5 C362.3,180.2 365.1,179.2 367.3,178.6 C369.5,178.0 371.9,177.2 374.3,176.7 C376.7,176.2 380.6,175.9 381.8,175.7" fill="none" stroke="#e63a2a" stroke-width="2.60" stroke-dasharray="0 2.86" stroke-linecap="round"/>
<path d="M302.3,182.7 C303.8,182.4 308.5,181.4 311.3,181.0 C314.1,180.6 316.7,180.3 319.0,180.5 C321.3,180.8 323.2,181.5 325.3,182.4 C327.4,183.4 330.3,185.6 331.3,186.3" fill="none" stroke="#40c840" stroke-width="4.00" stroke-dasharray="0 3.24" stroke-linecap="round"/>
<path d="M302.3,182.7 C303.8,182.4 308.5,181.4 311.3,181.0 C314.1,180.6 316.7,180.3 319.0,180.5 C321.3,180.8 323.2,181.5 325.3,182.4 C327.4,183.4 330.3,185.6 331.3,186.3" fill="none" stroke="#c9efc9" stroke-width="2.40" stroke-dasharray="0 3.24" stroke-linecap="round"/>
<path d="M302.3,182.7 C303.8,182.4 308.5,181.4 311.3,181.0 C314.1,180.6 316.7,180.3 319.0,180.5 C321.3,180.8 323.2,181.5 325.3,182.4 C327.4,183.4 330.3,185.6 331.3,186.3" fill="none" stroke="#2c8c2c" stroke-width="1" stroke-dasharray="0 3.24" stroke-linecap="round"/>
<path d="M302.3,183.8 C303.8,183.9 308.5,183.9 311.3,184.3 C314.1,184.8 316.8,185.7 319.0,186.3 C321.2,186.8 322.6,187.1 324.3,187.7 C326.0,188.3 327.6,188.9 329.3,190.1 C331.0,191.3 332.3,192.7 334.3,195.0 C336.3,197.4 339.1,201.4 341.3,204.1 C343.5,206.8 345.4,209.7 347.3,211.2 C349.2,212.7 350.8,214.0 352.6,213.3 C354.4,212.6 356.4,209.5 358.3,207.2 C360.2,204.8 362.5,201.3 364.3,199.1 C366.1,196.9 367.5,196.0 369.3,194.0 C371.1,192.0 373.2,189.1 375.3,187.2 C377.4,185.3 380.7,183.2 381.8,182.4" fill="none" stroke="#208870" stroke-width="2.80" stroke-dasharray="0 3.08" stroke-linecap="round"/>
<path d="M305.3,189.1 C306.1,188.9 308.6,188.1 310.3,187.7 C312.0,187.3 313.5,187.0 315.3,186.7 C317.1,186.5 320.3,186.3 321.3,186.3" fill="none" stroke="#40c840" stroke-width="4.00" stroke-dasharray="0 3.24" stroke-linecap="round"/>
<path d="M305.3,189.1 C306.1,188.9 308.6,188.1 310.3,187.7 C312.0,187.3 313.5,187.0 315.3,186.7 C317.1,186.5 320.3,186.3 321.3,186.3" fill="none" stroke="#c9efc9" stroke-width="2.40" stroke-dasharray="0 3.24" stroke-linecap="round"/>
<path d="M305.3,189.1 C306.1,188.9 308.6,188.1 310.3,187.7 C312.0,187.3 313.5,187.0 315.3,186.7 C317.1,186.5 320.3,186.3 321.3,186.3" fill="none" stroke="#2c8c2c" stroke-width="1" stroke-dasharray="0 3.24" stroke-linecap="round"/>
<path d="M331.3,189.1 C332.3,188.4 335.1,186.3 337.3,184.8 C339.5,183.4 341.8,181.6 344.3,180.5 C346.9,179.4 349.8,178.1 352.6,178.1 C355.4,178.1 358.9,179.4 361.3,180.5 C363.8,181.6 365.5,183.4 367.3,184.8 C369.1,186.3 371.5,188.4 372.3,189.1" fill="none" stroke="#7030a0" stroke-width="2.40" stroke-dasharray="0 2.64" stroke-linecap="round"/>
<path d="M331.3,192.0 C332.6,192.3 335.8,193.6 339.3,194.0 C342.9,194.4 348.6,194.5 352.6,194.5 C356.6,194.5 360.0,194.4 363.3,194.0 C366.6,193.6 370.8,192.3 372.3,192.0" fill="none" stroke="#40c840" stroke-width="3.60" stroke-dasharray="0 2.88" stroke-linecap="round"/>
<path d="M331.3,192.0 C332.6,192.3 335.8,193.6 339.3,194.0 C342.9,194.4 348.6,194.5 352.6,194.5 C356.6,194.5 360.0,194.4 363.3,194.0 C366.6,193.6 370.8,192.3 372.3,192.0" fill="none" stroke="#c9efc9" stroke-width="2.00" stroke-dasharray="0 2.88" stroke-linecap="round"/>
<path d="M331.3,192.0 C332.6,192.3 335.8,193.6 339.3,194.0 C342.9,194.4 348.6,194.5 352.6,194.5 C356.6,194.5 360.0,194.4 363.3,194.0 C366.6,193.6 370.8,192.3 372.3,192.0" fill="none" stroke="#2c8c2c" stroke-width="1" stroke-dasharray="0 2.88" stroke-linecap="round"/>
<path d="M302.3,191.5 C303.8,191.9 308.5,192.8 311.3,193.5 C314.1,194.2 316.5,195.1 319.0,195.5 C321.5,196.0 323.9,196.1 326.3,196.0 C328.7,196.0 331.1,195.5 333.3,195.0 C335.5,194.5 338.3,193.3 339.3,193.0" fill="none" stroke="#208870" stroke-width="2.60" stroke-dasharray="0 2.86" stroke-linecap="round"/>
<path d="M369.3,191.0 C370.3,191.0 373.2,191.0 375.3,191.0 C377.4,191.1 380.7,191.4 381.8,191.5" fill="none" stroke="#2828b0" stroke-width="2.60" stroke-dasharray="0 2.86" stroke-linecap="round"/>
<path d="M329.3,213.2 C330.5,213.5 333.8,214.4 336.3,215.2 C338.8,216.1 341.6,217.3 344.3,218.3 C347.0,219.2 349.8,220.8 352.6,220.8 C355.4,220.8 358.2,219.4 361.3,218.3 C364.4,217.2 367.9,215.1 371.3,214.2 C374.7,213.3 380.1,213.0 381.8,212.7" fill="none" stroke="#2828b0" stroke-width="3.20" stroke-dasharray="0 3.52" stroke-linecap="round"/>
<path d="M329.3,225.3 C331.0,225.5 335.4,226.1 339.3,226.3 C343.2,226.6 348.9,226.8 352.6,226.8 C356.3,226.8 358.5,226.5 361.3,226.3 C364.1,226.2 366.8,226.7 369.3,225.8 C371.8,225.0 374.2,222.9 376.3,221.3 C378.4,219.7 380.9,217.1 381.8,216.2" fill="none" stroke="#40c840" stroke-width="3.00" stroke-dasharray="0 3.30" stroke-linecap="round"/>
<path d="M317.3,199.1 C318.0,199.7 320.1,202.0 321.3,203.1 C322.5,204.2 323.1,205.0 324.3,205.6 C325.5,206.2 326.8,206.7 328.3,206.6 C329.8,206.6 332.5,205.4 333.3,205.1" fill="none" stroke="#7030a0" stroke-width="3.40" stroke-dasharray="0 2.70" stroke-linecap="round"/>
<path d="M317.3,199.1 C318.0,199.7 320.1,202.0 321.3,203.1 C322.5,204.2 323.1,205.0 324.3,205.6 C325.5,206.2 326.8,206.7 328.3,206.6 C329.8,206.6 332.5,205.4 333.3,205.1" fill="none" stroke="#d6c5e4" stroke-width="1.80" stroke-dasharray="0 2.70" stroke-linecap="round"/>
<path d="M317.3,199.1 C318.0,199.7 320.1,202.0 321.3,203.1 C322.5,204.2 323.1,205.0 324.3,205.6 C325.5,206.2 326.8,206.7 328.3,206.6 C329.8,206.6 332.5,205.4 333.3,205.1" fill="none" stroke="#4e2170" stroke-width="1" stroke-dasharray="0 2.70" stroke-linecap="round"/>
<path d="M302.3,207.2 C303.8,206.3 308.5,203.6 311.3,202.1 C314.1,200.6 317.0,199.2 319.0,198.1 C321.0,196.9 322.6,195.5 323.3,195.0" fill="none" stroke="#2828b0" stroke-width="2.40" stroke-dasharray="0 2.64" stroke-linecap="round"/>
<path d="M303.3,214.2 C304.1,213.4 306.6,210.7 308.3,209.2 C310.0,207.7 311.6,206.6 313.3,205.1 C315.0,203.6 317.5,200.9 318.3,200.1" fill="none" stroke="#2828b0" stroke-width="2.40" stroke-dasharray="0 2.64" stroke-linecap="round"/>
<path d="M302.3,211.2 C303.1,212.0 305.8,214.7 307.3,216.2 C308.8,217.8 309.4,218.9 311.3,220.3 C313.2,221.6 316.5,223.1 319.0,224.3 C321.5,225.5 323.9,226.5 326.3,227.3 C328.7,228.2 332.1,229.0 333.3,229.4" fill="none" stroke="#2828b0" stroke-width="2.60" stroke-dasharray="0 2.86" stroke-linecap="round"/>
<path d="M302.3,236.4 C303.8,235.8 308.5,233.7 311.3,232.4 C314.1,231.1 317.0,229.9 319.0,228.9 C321.0,227.9 322.6,226.8 323.3,226.3" fill="none" stroke="#208870" stroke-width="2.60" stroke-dasharray="0 2.86" stroke-linecap="round"/>
<path d="M302.3,228.4 C303.8,228.4 308.5,228.4 311.3,228.4 C314.1,228.4 316.5,228.2 319.0,228.4 C321.5,228.5 323.9,228.7 326.3,229.4 C328.7,230.0 332.1,231.9 333.3,232.4" fill="none" stroke="#208870" stroke-width="2.60" stroke-dasharray="0 2.86" stroke-linecap="round"/>
<path d="M319.0,228.4 C320.2,229.0 323.9,230.9 326.3,232.4 C328.7,233.9 330.6,235.9 333.3,237.4 C336.0,239.0 339.1,240.6 342.3,241.5 C345.5,242.3 349.9,242.8 352.6,242.5 C355.3,242.2 356.3,240.8 358.3,240.0 C360.3,239.1 362.6,238.9 364.8,237.4 C367.0,236.0 369.3,234.0 371.6,231.4 C373.9,228.7 376.8,223.8 378.5,221.6 C380.2,219.4 381.2,218.8 381.8,218.3" fill="none" stroke="#208870" stroke-width="2.60" stroke-dasharray="0 2.86" stroke-linecap="round"/>
<path d="M352.6,241.5 C354.1,241.2 358.2,240.6 361.3,240.0 C364.4,239.3 367.9,238.0 371.3,237.4 C374.7,236.9 380.1,236.6 381.8,236.4" fill="none" stroke="#208870" stroke-width="2.60" stroke-dasharray="0 2.86" stroke-linecap="round"/>
<path d="M302.3,248.2 C303.8,248.7 308.5,250.1 311.3,251.1 C314.1,252.0 316.5,253.3 319.0,253.9 C321.5,254.5 323.9,255.3 326.3,254.8 C328.7,254.4 331.1,252.2 333.3,251.1 C335.5,249.9 338.3,248.7 339.3,248.2" fill="none" stroke="#2828b0" stroke-width="4.40" stroke-dasharray="0 3.60" stroke-linecap="round"/>
<path d="M302.3,248.2 C303.8,248.7 308.5,250.1 311.3,251.1 C314.1,252.0 316.5,253.3 319.0,253.9 C321.5,254.5 323.9,255.3 326.3,254.8 C328.7,254.4 331.1,252.2 333.3,251.1 C335.5,249.9 338.3,248.7 339.3,248.2" fill="none" stroke="#c2c2e8" stroke-width="2.80" stroke-dasharray="0 3.60" stroke-linecap="round"/>
<path d="M302.3,248.2 C303.8,248.7 308.5,250.1 311.3,251.1 C314.1,252.0 316.5,253.3 319.0,253.9 C321.5,254.5 323.9,255.3 326.3,254.8 C328.7,254.4 331.1,252.2 333.3,251.1 C335.5,249.9 338.3,248.7 339.3,248.2" fill="none" stroke="#1c1c7b" stroke-width="1" stroke-dasharray="0 3.60" stroke-linecap="round"/>
<path d="M333.3,247.7 C334.6,247.6 338.1,246.9 341.3,246.8 C344.5,246.6 349.3,246.7 352.6,246.8 C355.9,246.9 358.9,247.0 361.3,247.2 C363.8,247.5 366.3,248.0 367.3,248.2" fill="none" stroke="#2828b0" stroke-width="2.80" stroke-dasharray="0 3.08" stroke-linecap="round"/>
<path d="M329.3,252.0 C331.3,252.1 337.4,252.3 341.3,252.5 C345.2,252.6 349.3,252.9 352.6,252.9 C355.9,253.0 358.9,253.2 361.3,252.9 C363.8,252.7 366.3,251.8 367.3,251.5" fill="none" stroke="#2828b0" stroke-width="4.80" stroke-dasharray="0 3.96" stroke-linecap="round"/>
<path d="M329.3,252.0 C331.3,252.1 337.4,252.3 341.3,252.5 C345.2,252.6 349.3,252.9 352.6,252.9 C355.9,253.0 358.9,253.2 361.3,252.9 C363.8,252.7 366.3,251.8 367.3,251.5" fill="none" stroke="#c2c2e8" stroke-width="3.20" stroke-dasharray="0 3.96" stroke-linecap="round"/>
<path d="M329.3,252.0 C331.3,252.1 337.4,252.3 341.3,252.5 C345.2,252.6 349.3,252.9 352.6,252.9 C355.9,253.0 358.9,253.2 361.3,252.9 C363.8,252.7 366.3,251.8 367.3,251.5" fill="none" stroke="#1c1c7b" stroke-width="1" stroke-dasharray="0 3.96" stroke-linecap="round"/>
<path d="M319.3,253.9 C320.3,253.4 323.3,251.8 325.3,251.1 C327.3,250.3 330.3,249.5 331.3,249.2" fill="none" stroke="#2828b0" stroke-width="2.60" stroke-dasharray="0 2.86" stroke-linecap="round"/>
<path d="M366.3,252.0 C367.5,252.6 370.7,254.9 373.3,255.8 C375.9,256.8 380.4,257.4 381.8,257.7" fill="none" stroke="#2828b0" stroke-width="2.60" stroke-dasharray="0 2.86" stroke-linecap="round"/>
<path d="M302.3,257.7 C303.5,257.4 307.1,256.4 309.3,255.8 C311.5,255.2 314.3,254.2 315.3,253.9" fill="none" stroke="#2828b0" stroke-width="2.60" stroke-dasharray="0 2.86" stroke-linecap="round"/>
<path d="M366.3,248.2 C367.6,248.0 371.7,247.4 374.3,247.2 C376.9,247.1 380.6,247.2 381.8,247.2" fill="none" stroke="#2828b0" stroke-width="4.00" stroke-dasharray="0 3.24" stroke-linecap="round"/>
<path d="M366.3,248.2 C367.6,248.0 371.7,247.4 374.3,247.2 C376.9,247.1 380.6,247.2 381.8,247.2" fill="none" stroke="#c2c2e8" stroke-width="2.40" stroke-dasharray="0 3.24" stroke-linecap="round"/>
<path d="M366.3,248.2 C367.6,248.0 371.7,247.4 374.3,247.2 C376.9,247.1 380.6,247.2 381.8,247.2" fill="none" stroke="#1c1c7b" stroke-width="1" stroke-dasharray="0 3.24" stroke-linecap="round"/>
<path d="M319.0,260.6 C320.2,260.2 323.9,259.0 326.3,258.6 C328.7,258.3 330.8,258.3 333.3,258.6 C335.8,259.0 338.1,259.6 341.3,260.6 C344.5,261.5 349.3,264.1 352.6,264.4 C355.9,264.6 358.2,262.6 361.3,262.0 C364.4,261.3 367.9,260.9 371.3,260.6 C374.7,260.2 380.1,260.2 381.8,260.1" fill="none" stroke="#40c840" stroke-width="3.60" stroke-dasharray="0 2.88" stroke-linecap="round"/>
<path d="M319.0,260.6 C320.2,260.2 323.9,259.0 326.3,258.6 C328.7,258.3 330.8,258.3 333.3,258.6 C335.8,259.0 338.1,259.6 341.3,260.6 C344.5,261.5 349.3,264.1 352.6,264.4 C355.9,264.6 358.2,262.6 361.3,262.0 C364.4,261.3 367.9,260.9 371.3,260.6 C374.7,260.2 380.1,260.2 381.8,260.1" fill="none" stroke="#c9efc9" stroke-width="2.00" stroke-dasharray="0 2.88" stroke-linecap="round"/>
<path d="M319.0,260.6 C320.2,260.2 323.9,259.0 326.3,258.6 C328.7,258.3 330.8,258.3 333.3,258.6 C335.8,259.0 338.1,259.6 341.3,260.6 C344.5,261.5 349.3,264.1 352.6,264.4 C355.9,264.6 358.2,262.6 361.3,262.0 C364.4,261.3 367.9,260.9 371.3,260.6 C374.7,260.2 380.1,260.2 381.8,260.1" fill="none" stroke="#2c8c2c" stroke-width="1" stroke-dasharray="0 2.88" stroke-linecap="round"/>
<path d="M302.3,261.2 C303.8,261.3 308.5,261.4 311.3,261.5 C314.1,261.6 315.7,261.5 319.0,262.0 C322.3,262.5 327.6,263.8 331.3,264.4 C335.0,264.9 337.8,265.2 341.3,265.3 C344.9,265.4 349.3,264.7 352.6,264.8 C355.9,265.0 358.2,265.9 361.3,266.2 C364.4,266.6 367.9,267.0 371.3,267.2 C374.7,267.4 380.1,267.2 381.8,267.2" fill="none" stroke="#e63a2a" stroke-width="3.00" stroke-dasharray="0 3.30" stroke-linecap="round"/>
<path d="M302.3,269.3 C305.1,269.1 314.2,268.2 319.0,268.1 C323.8,268.1 327.6,269.1 331.3,269.1 C335.0,269.1 337.8,268.8 341.3,268.1 C344.9,267.5 349.3,265.3 352.6,265.3 C355.9,265.3 358.2,267.4 361.3,268.1 C364.4,268.9 367.9,269.3 371.3,269.6 C374.7,269.8 380.1,269.6 381.8,269.6" fill="none" stroke="#40c840" stroke-width="3.00" stroke-dasharray="0 3.30" stroke-linecap="round"/>
<path d="M302.3,82.3 C304.1,81.8 309.6,80.0 313.1,79.5 C316.6,79.0 319.8,79.3 323.1,79.5 C326.4,79.7 329.8,80.2 333.1,80.5 C336.4,80.8 339.8,81.2 343.1,81.5 C346.4,81.8 349.8,81.8 353.1,82.0 C356.4,82.2 359.8,82.3 363.1,82.5 C366.4,82.7 369.9,82.8 373.1,83.0 C376.4,83.2 381.0,83.4 382.6,83.5" fill="none" stroke="#40c840" stroke-width="2.60" stroke-dasharray="0 2.86" stroke-linecap="round"/>
<path d="M302.3,86.0 C303.6,86.4 307.5,87.9 310.1,88.5 C312.7,89.1 315.1,89.4 318.1,89.5 C321.1,89.6 324.8,89.6 328.1,89.0 C331.4,88.4 335.1,86.9 338.1,86.0 C341.1,85.1 344.1,83.9 346.1,83.5 C348.1,83.1 348.1,83.2 350.1,83.5 C352.1,83.8 355.1,84.5 358.1,85.0 C361.1,85.5 364.0,86.2 368.1,86.5 C372.2,86.8 380.2,86.5 382.6,86.5" fill="none" stroke="#c42846" stroke-width="2.40" stroke-dasharray="0 2.64" stroke-linecap="round"/>
<path d="M302.3,92.5 C304.1,92.6 308.8,93.0 313.1,93.0 C317.4,93.0 323.1,92.6 328.1,92.5 C333.1,92.4 338.9,92.6 343.1,92.5 C347.3,92.4 348.9,92.0 353.1,92.0 C357.3,92.0 363.2,92.3 368.1,92.5 C373.0,92.7 380.2,92.9 382.6,93.0" fill="none" stroke="#2828b0" stroke-width="4.40" stroke-dasharray="0 3.60" stroke-linecap="round"/>
<path d="M302.3,92.5 C304.1,92.6 308.8,93.0 313.1,93.0 C317.4,93.0 323.1,92.6 328.1,92.5 C333.1,92.4 338.9,92.6 343.1,92.5 C347.3,92.4 348.9,92.0 353.1,92.0 C357.3,92.0 363.2,92.3 368.1,92.5 C373.0,92.7 380.2,92.9 382.6,93.0" fill="none" stroke="#c2c2e8" stroke-width="2.80" stroke-dasharray="0 3.60" stroke-linecap="round"/>
<path d="M302.3,92.5 C304.1,92.6 308.8,93.0 313.1,93.0 C317.4,93.0 323.1,92.6 328.1,92.5 C333.1,92.4 338.9,92.6 343.1,92.5 C347.3,92.4 348.9,92.0 353.1,92.0 C357.3,92.0 363.2,92.3 368.1,92.5 C373.0,92.7 380.2,92.9 382.6,93.0" fill="none" stroke="#1c1c7b" stroke-width="1" stroke-dasharray="0 3.60" stroke-linecap="round"/>
<path d="M302.3,94.0 C304.1,94.2 309.6,94.9 313.1,95.0 C316.6,95.1 319.8,94.7 323.1,94.5 C326.4,94.3 329.8,94.2 333.1,94.0 C336.4,93.8 341.4,93.3 343.1,93.2" fill="none" stroke="#2828b0" stroke-width="2.40" stroke-dasharray="0 2.64" stroke-linecap="round"/>
</g>
<line x1="41" y1="289.9" x2="46" y2="289.9" stroke="#6e6e6e" stroke-width="1.3"/>
<line x1="115.5" y1="289.9" x2="120.5" y2="289.9" stroke="#6e6e6e" stroke-width="1.3"/>
<line x1="41" y1="273.0" x2="46" y2="273.0" stroke="#6e6e6e" stroke-width="1.3"/>
<line x1="115.5" y1="273.0" x2="120.5" y2="273.0" stroke="#6e6e6e" stroke-width="1.3"/>
<line x1="41" y1="256.0" x2="46" y2="256.0" stroke="#6e6e6e" stroke-width="1.3"/>
<line x1="115.5" y1="256.0" x2="120.5" y2="256.0" stroke="#6e6e6e" stroke-width="1.3"/>
<line x1="41" y1="239.0" x2="46" y2="239.0" stroke="#6e6e6e" stroke-width="1.3"/>
<line x1="115.5" y1="239.0" x2="120.5" y2="239.0" stroke="#6e6e6e" stroke-width="1.3"/>
<line x1="41" y1="222.1" x2="46" y2="222.1" stroke="#6e6e6e" stroke-width="1.3"/>
<line x1="115.5" y1="222.1" x2="120.5" y2="222.1" stroke="#6e6e6e" stroke-width="1.3"/>
<line x1="41" y1="205.1" x2="46" y2="205.1" stroke="#6e6e6e" stroke-width="1.3"/>
<line x1="115.5" y1="205.1" x2="120.5" y2="205.1" stroke="#6e6e6e" stroke-width="1.3"/>
<line x1="41" y1="188.1" x2="46" y2="188.1" stroke="#6e6e6e" stroke-width="1.3"/>
<line x1="115.5" y1="188.1" x2="120.5" y2="188.1" stroke="#6e6e6e" stroke-width="1.3"/>
<line x1="41" y1="171.2" x2="46" y2="171.2" stroke="#6e6e6e" stroke-width="1.3"/>
<line x1="115.5" y1="171.2" x2="120.5" y2="171.2" stroke="#6e6e6e" stroke-width="1.3"/>
<line x1="41" y1="154.2" x2="46" y2="154.2" stroke="#6e6e6e" stroke-width="1.3"/>
<line x1="115.5" y1="154.2" x2="120.5" y2="154.2" stroke="#6e6e6e" stroke-width="1.3"/>
<line x1="41" y1="137.2" x2="46" y2="137.2" stroke="#6e6e6e" stroke-width="1.3"/>
<line x1="115.5" y1="137.2" x2="120.5" y2="137.2" stroke="#6e6e6e" stroke-width="1.3"/>
<line x1="41" y1="120.3" x2="46" y2="120.3" stroke="#6e6e6e" stroke-width="1.3"/>
<line x1="115.5" y1="120.3" x2="120.5" y2="120.3" stroke="#6e6e6e" stroke-width="1.3"/>
<line x1="41" y1="103.3" x2="46" y2="103.3" stroke="#6e6e6e" stroke-width="1.3"/>
<line x1="115.5" y1="103.3" x2="120.5" y2="103.3" stroke="#6e6e6e" stroke-width="1.3"/>
<line x1="41" y1="86.3" x2="46" y2="86.3" stroke="#6e6e6e" stroke-width="1.3"/>
<line x1="115.5" y1="86.3" x2="120.5" y2="86.3" stroke="#6e6e6e" stroke-width="1.3"/>
<line x1="41" y1="69.4" x2="46" y2="69.4" stroke="#6e6e6e" stroke-width="1.3"/>
<line x1="115.5" y1="69.4" x2="120.5" y2="69.4" stroke="#6e6e6e" stroke-width="1.3"/>
<line x1="41" y1="52.4" x2="46" y2="52.4" stroke="#6e6e6e" stroke-width="1.3"/>
<line x1="115.5" y1="52.4" x2="120.5" y2="52.4" stroke="#6e6e6e" stroke-width="1.3"/>
<rect x="41" y="36.3" width="79.5" height="270.7" fill="none" stroke="#555" stroke-width="1.5"/>
<text x="62.5" y="81.2" font-family='"Liberation Sans",sans-serif' font-size="30.5" fill="#000" text-anchor="start" >Pd</text>
<text x="67.5" y="49.9" font-family='"Liberation Sans",sans-serif' font-size="7.2" fill="#333" text-anchor="start" >Total</text>
<line x1="83.7" y1="47.4" x2="109.9" y2="47.4" stroke="#a0a0a0" stroke-width="1"/>
<line x1="53.6" y1="75.4" x2="53.6" y2="50" stroke="#2a5fd0" stroke-width="1.3"/>
<path d="M51.2,52.5 L53.6,43 L56.0,52.5 Z" fill="#2a5fd0"/>
<text x="41" y="322" font-family='"Liberation Sans",sans-serif' font-size="7.2" fill="#222" text-anchor="middle" >M</text>
<text x="57.7" y="322" font-family='"Liberation Sans",sans-serif' font-size="7.2" fill="#222" text-anchor="middle" >K</text>
<text x="91.3" y="322" font-family='"Liberation Sans",sans-serif' font-size="7.2" fill="#222" text-anchor="middle" >Γ</text>
<text x="121.5" y="322" font-family='"Liberation Sans",sans-serif' font-size="7.2" fill="#222" text-anchor="middle" >M</text>
<line x1="127.4" y1="289.9" x2="132.4" y2="289.9" stroke="#6e6e6e" stroke-width="1.3"/>
<line x1="202.4" y1="289.9" x2="207.4" y2="289.9" stroke="#6e6e6e" stroke-width="1.3"/>
<line x1="127.4" y1="273.0" x2="132.4" y2="273.0" stroke="#6e6e6e" stroke-width="1.3"/>
<line x1="202.4" y1="273.0" x2="207.4" y2="273.0" stroke="#6e6e6e" stroke-width="1.3"/>
<line x1="127.4" y1="256.0" x2="132.4" y2="256.0" stroke="#6e6e6e" stroke-width="1.3"/>
<line x1="202.4" y1="256.0" x2="207.4" y2="256.0" stroke="#6e6e6e" stroke-width="1.3"/>
<line x1="127.4" y1="239.0" x2="132.4" y2="239.0" stroke="#6e6e6e" stroke-width="1.3"/>
<line x1="202.4" y1="239.0" x2="207.4" y2="239.0" stroke="#6e6e6e" stroke-width="1.3"/>
<line x1="127.4" y1="222.1" x2="132.4" y2="222.1" stroke="#6e6e6e" stroke-width="1.3"/>
<line x1="202.4" y1="222.1" x2="207.4" y2="222.1" stroke="#6e6e6e" stroke-width="1.3"/>
<line x1="127.4" y1="205.1" x2="132.4" y2="205.1" stroke="#6e6e6e" stroke-width="1.3"/>
<line x1="202.4" y1="205.1" x2="207.4" y2="205.1" stroke="#6e6e6e" stroke-width="1.3"/>
<line x1="127.4" y1="188.1" x2="132.4" y2="188.1" stroke="#6e6e6e" stroke-width="1.3"/>
<line x1="202.4" y1="188.1" x2="207.4" y2="188.1" stroke="#6e6e6e" stroke-width="1.3"/>
<line x1="127.4" y1="171.2" x2="132.4" y2="171.2" stroke="#6e6e6e" stroke-width="1.3"/>
<line x1="202.4" y1="171.2" x2="207.4" y2="171.2" stroke="#6e6e6e" stroke-width="1.3"/>
<line x1="127.4" y1="154.2" x2="132.4" y2="154.2" stroke="#6e6e6e" stroke-width="1.3"/>
<line x1="202.4" y1="154.2" x2="207.4" y2="154.2" stroke="#6e6e6e" stroke-width="1.3"/>
<line x1="127.4" y1="137.2" x2="132.4" y2="137.2" stroke="#6e6e6e" stroke-width="1.3"/>
<line x1="202.4" y1="137.2" x2="207.4" y2="137.2" stroke="#6e6e6e" stroke-width="1.3"/>
<line x1="127.4" y1="120.3" x2="132.4" y2="120.3" stroke="#6e6e6e" stroke-width="1.3"/>
<line x1="202.4" y1="120.3" x2="207.4" y2="120.3" stroke="#6e6e6e" stroke-width="1.3"/>
<line x1="127.4" y1="103.3" x2="132.4" y2="103.3" stroke="#6e6e6e" stroke-width="1.3"/>
<line x1="202.4" y1="103.3" x2="207.4" y2="103.3" stroke="#6e6e6e" stroke-width="1.3"/>
<line x1="127.4" y1="86.3" x2="132.4" y2="86.3" stroke="#6e6e6e" stroke-width="1.3"/>
<line x1="202.4" y1="86.3" x2="207.4" y2="86.3" stroke="#6e6e6e" stroke-width="1.3"/>
<line x1="127.4" y1="69.4" x2="132.4" y2="69.4" stroke="#6e6e6e" stroke-width="1.3"/>
<line x1="202.4" y1="69.4" x2="207.4" y2="69.4" stroke="#6e6e6e" stroke-width="1.3"/>
<line x1="127.4" y1="52.4" x2="132.4" y2="52.4" stroke="#6e6e6e" stroke-width="1.3"/>
<line x1="202.4" y1="52.4" x2="207.4" y2="52.4" stroke="#6e6e6e" stroke-width="1.3"/>
<rect x="127.4" y="36.3" width="80.0" height="270.7" fill="none" stroke="#555" stroke-width="1.5"/>
<text x="147.6" y="81.2" font-family='"Liberation Sans",sans-serif' font-size="30.5" fill="#000" text-anchor="start" >Cl</text>
<text x="148.2" y="49.9" font-family='"Liberation Sans",sans-serif' font-size="7.2" fill="#333" text-anchor="start" >Total</text>
<line x1="169.7" y1="47.4" x2="197" y2="47.4" stroke="#a0a0a0" stroke-width="1"/>
<line x1="138.2" y1="75.4" x2="138.2" y2="50" stroke="#2a5fd0" stroke-width="1.3"/>
<path d="M135.79999999999998,52.5 L138.2,43 L140.6,52.5 Z" fill="#2a5fd0"/>
<text x="127.4" y="322" font-family='"Liberation Sans",sans-serif' font-size="7.2" fill="#222" text-anchor="middle" >M</text>
<text x="144.5" y="322" font-family='"Liberation Sans",sans-serif' font-size="7.2" fill="#222" text-anchor="middle" >K</text>
<text x="178.4" y="322" font-family='"Liberation Sans",sans-serif' font-size="7.2" fill="#222" text-anchor="middle" >Γ</text>
<text x="208.4" y="322" font-family='"Liberation Sans",sans-serif' font-size="7.2" fill="#222" text-anchor="middle" >M</text>
<line x1="214.2" y1="289.9" x2="219.2" y2="289.9" stroke="#6e6e6e" stroke-width="1.3"/>
<line x1="289.5" y1="289.9" x2="294.5" y2="289.9" stroke="#6e6e6e" stroke-width="1.3"/>
<line x1="214.2" y1="273.0" x2="219.2" y2="273.0" stroke="#6e6e6e" stroke-width="1.3"/>
<line x1="289.5" y1="273.0" x2="294.5" y2="273.0" stroke="#6e6e6e" stroke-width="1.3"/>
<line x1="214.2" y1="256.0" x2="219.2" y2="256.0" stroke="#6e6e6e" stroke-width="1.3"/>
<line x1="289.5" y1="256.0" x2="294.5" y2="256.0" stroke="#6e6e6e" stroke-width="1.3"/>
<line x1="214.2" y1="239.0" x2="219.2" y2="239.0" stroke="#6e6e6e" stroke-width="1.3"/>
<line x1="289.5" y1="239.0" x2="294.5" y2="239.0" stroke="#6e6e6e" stroke-width="1.3"/>
<line x1="214.2" y1="222.1" x2="219.2" y2="222.1" stroke="#6e6e6e" stroke-width="1.3"/>
<line x1="289.5" y1="222.1" x2="294.5" y2="222.1" stroke="#6e6e6e" stroke-width="1.3"/>
<line x1="214.2" y1="205.1" x2="219.2" y2="205.1" stroke="#6e6e6e" stroke-width="1.3"/>
<line x1="289.5" y1="205.1" x2="294.5" y2="205.1" stroke="#6e6e6e" stroke-width="1.3"/>
<line x1="214.2" y1="188.1" x2="219.2" y2="188.1" stroke="#6e6e6e" stroke-width="1.3"/>
<line x1="289.5" y1="188.1" x2="294.5" y2="188.1" stroke="#6e6e6e" stroke-width="1.3"/>
<line x1="214.2" y1="171.2" x2="219.2" y2="171.2" stroke="#6e6e6e" stroke-width="1.3"/>
<line x1="289.5" y1="171.2" x2="294.5" y2="171.2" stroke="#6e6e6e" stroke-width="1.3"/>
<line x1="214.2" y1="154.2" x2="219.2" y2="154.2" stroke="#6e6e6e" stroke-width="1.3"/>
<line x1="289.5" y1="154.2" x2="294.5" y2="154.2" stroke="#6e6e6e" stroke-width="1.3"/>
<line x1="214.2" y1="137.2" x2="219.2" y2="137.2" stroke="#6e6e6e" stroke-width="1.3"/>
<line x1="289.5" y1="137.2" x2="294.5" y2="137.2" stroke="#6e6e6e" stroke-width="1.3"/>
<line x1="214.2" y1="120.3" x2="219.2" y2="120.3" stroke="#6e6e6e" stroke-width="1.3"/>
<line x1="289.5" y1="120.3" x2="294.5" y2="120.3" stroke="#6e6e6e" stroke-width="1.3"/>
<line x1="214.2" y1="103.3" x2="219.2" y2="103.3" stroke="#6e6e6e" stroke-width="1.3"/>
<line x1="289.5" y1="103.3" x2="294.5" y2="103.3" stroke="#6e6e6e" stroke-width="1.3"/>
<line x1="214.2" y1="86.3" x2="219.2" y2="86.3" stroke="#6e6e6e" stroke-width="1.3"/>
<line x1="289.5" y1="86.3" x2="294.5" y2="86.3" stroke="#6e6e6e" stroke-width="1.3"/>
<line x1="214.2" y1="69.4" x2="219.2" y2="69.4" stroke="#6e6e6e" stroke-width="1.3"/>
<line x1="289.5" y1="69.4" x2="294.5" y2="69.4" stroke="#6e6e6e" stroke-width="1.3"/>
<line x1="214.2" y1="52.4" x2="219.2" y2="52.4" stroke="#6e6e6e" stroke-width="1.3"/>
<line x1="289.5" y1="52.4" x2="294.5" y2="52.4" stroke="#6e6e6e" stroke-width="1.3"/>
<rect x="214.2" y="36.3" width="80.30000000000001" height="270.7" fill="none" stroke="#555" stroke-width="1.5"/>
<line x1="230.9" y1="36.3" x2="230.9" y2="40.3" stroke="#555" stroke-width="1.2"/>
<line x1="230.9" y1="303" x2="230.9" y2="307" stroke="#555" stroke-width="1.2"/>
<line x1="264.6" y1="36.3" x2="264.6" y2="40.3" stroke="#555" stroke-width="1.2"/>
<line x1="264.6" y1="303" x2="264.6" y2="307" stroke="#555" stroke-width="1.2"/>
<text x="236.1" y="81.2" font-family='"Liberation Sans",sans-serif' font-size="30.5" fill="#000" text-anchor="start" >Pd</text>
<text x="228.3" y="49.9" font-family='"Liberation Sans",sans-serif' font-size="7.2" fill="#333" text-anchor="start" >Total</text>
<line x1="249.3" y1="47.4" x2="276" y2="47.4" stroke="#a0a0a0" stroke-width="1"/>
<line x1="225.5" y1="43.5" x2="225.5" y2="68" stroke="#d8283c" stroke-width="1.3"/>
<path d="M223.1,66 L225.5,75.5 L227.9,66 Z" fill="#d8283c"/>
<text x="214.2" y="322" font-family='"Liberation Sans",sans-serif' font-size="7.2" fill="#222" text-anchor="middle" >M</text>
<text x="230.89999999999998" y="322" font-family='"Liberation Sans",sans-serif' font-size="7.2" fill="#222" text-anchor="middle" >K</text>
<text x="264.59999999999997" y="322" font-family='"Liberation Sans",sans-serif' font-size="7.2" fill="#222" text-anchor="middle" >Γ</text>
<text x="295.5" y="322" font-family='"Liberation Sans",sans-serif' font-size="7.2" fill="#222" text-anchor="middle" >M</text>
<line x1="302.3" y1="289.9" x2="307.3" y2="289.9" stroke="#6e6e6e" stroke-width="1.3"/>
<line x1="376.8" y1="289.9" x2="381.8" y2="289.9" stroke="#6e6e6e" stroke-width="1.3"/>
<line x1="302.3" y1="273.0" x2="307.3" y2="273.0" stroke="#6e6e6e" stroke-width="1.3"/>
<line x1="376.8" y1="273.0" x2="381.8" y2="273.0" stroke="#6e6e6e" stroke-width="1.3"/>
<line x1="302.3" y1="256.0" x2="307.3" y2="256.0" stroke="#6e6e6e" stroke-width="1.3"/>
<line x1="376.8" y1="256.0" x2="381.8" y2="256.0" stroke="#6e6e6e" stroke-width="1.3"/>
<line x1="302.3" y1="239.0" x2="307.3" y2="239.0" stroke="#6e6e6e" stroke-width="1.3"/>
<line x1="376.8" y1="239.0" x2="381.8" y2="239.0" stroke="#6e6e6e" stroke-width="1.3"/>
<line x1="302.3" y1="222.1" x2="307.3" y2="222.1" stroke="#6e6e6e" stroke-width="1.3"/>
<line x1="376.8" y1="222.1" x2="381.8" y2="222.1" stroke="#6e6e6e" stroke-width="1.3"/>
<line x1="302.3" y1="205.1" x2="307.3" y2="205.1" stroke="#6e6e6e" stroke-width="1.3"/>
<line x1="376.8" y1="205.1" x2="381.8" y2="205.1" stroke="#6e6e6e" stroke-width="1.3"/>
<line x1="302.3" y1="188.1" x2="307.3" y2="188.1" stroke="#6e6e6e" stroke-width="1.3"/>
<line x1="376.8" y1="188.1" x2="381.8" y2="188.1" stroke="#6e6e6e" stroke-width="1.3"/>
<line x1="302.3" y1="171.2" x2="307.3" y2="171.2" stroke="#6e6e6e" stroke-width="1.3"/>
<line x1="376.8" y1="171.2" x2="381.8" y2="171.2" stroke="#6e6e6e" stroke-width="1.3"/>
<line x1="302.3" y1="154.2" x2="307.3" y2="154.2" stroke="#6e6e6e" stroke-width="1.3"/>
<line x1="376.8" y1="154.2" x2="381.8" y2="154.2" stroke="#6e6e6e" stroke-width="1.3"/>
<line x1="302.3" y1="137.2" x2="307.3" y2="137.2" stroke="#6e6e6e" stroke-width="1.3"/>
<line x1="376.8" y1="137.2" x2="381.8" y2="137.2" stroke="#6e6e6e" stroke-width="1.3"/>
<line x1="302.3" y1="120.3" x2="307.3" y2="120.3" stroke="#6e6e6e" stroke-width="1.3"/>
<line x1="376.8" y1="120.3" x2="381.8" y2="120.3" stroke="#6e6e6e" stroke-width="1.3"/>
<line x1="302.3" y1="103.3" x2="307.3" y2="103.3" stroke="#6e6e6e" stroke-width="1.3"/>
<line x1="376.8" y1="103.3" x2="381.8" y2="103.3" stroke="#6e6e6e" stroke-width="1.3"/>
<line x1="302.3" y1="86.3" x2="307.3" y2="86.3" stroke="#6e6e6e" stroke-width="1.3"/>
<line x1="376.8" y1="86.3" x2="381.8" y2="86.3" stroke="#6e6e6e" stroke-width="1.3"/>
<line x1="302.3" y1="69.4" x2="307.3" y2="69.4" stroke="#6e6e6e" stroke-width="1.3"/>
<line x1="376.8" y1="69.4" x2="381.8" y2="69.4" stroke="#6e6e6e" stroke-width="1.3"/>
<line x1="302.3" y1="52.4" x2="307.3" y2="52.4" stroke="#6e6e6e" stroke-width="1.3"/>
<line x1="376.8" y1="52.4" x2="381.8" y2="52.4" stroke="#6e6e6e" stroke-width="1.3"/>
<rect x="302.3" y="36.3" width="79.5" height="270.7" fill="none" stroke="#555" stroke-width="1.5"/>
<text x="323.2" y="81.2" font-family='"Liberation Sans",sans-serif' font-size="30.5" fill="#000" text-anchor="start" >Cl</text>
<text x="323.2" y="49.9" font-family='"Liberation Sans",sans-serif' font-size="7.2" fill="#333" text-anchor="start" >Total</text>
<line x1="344.7" y1="47.4" x2="371.2" y2="47.4" stroke="#a0a0a0" stroke-width="1"/>
<line x1="314.8" y1="43.5" x2="314.8" y2="68" stroke="#d8283c" stroke-width="1.3"/>
<path d="M312.40000000000003,66 L314.8,75.5 L317.2,66 Z" fill="#d8283c"/>
<text x="302.3" y="322" font-family='"Liberation Sans",sans-serif' font-size="7.2" fill="#222" text-anchor="middle" >M</text>
<text x="319.3" y="322" font-family='"Liberation Sans",sans-serif' font-size="7.2" fill="#222" text-anchor="middle" >K</text>
<text x="353" y="322" font-family='"Liberation Sans",sans-serif' font-size="7.2" fill="#222" text-anchor="middle" >Γ</text>
<text x="382.8" y="322" font-family='"Liberation Sans",sans-serif' font-size="7.2" fill="#222" text-anchor="middle" >M</text>
<text x="36" y="57.1" font-family='"Liberation Serif",serif' font-size="11.7" fill="#222" text-anchor="end" >1</text>
<text x="36" y="109.4" font-family='"Liberation Serif",serif' font-size="11.7" fill="#222" text-anchor="end" >0</text>
<text x="36" y="160.3" font-family='"Liberation Serif",serif' font-size="11.7" fill="#222" text-anchor="end" >-1</text>
<text x="36" y="213.20000000000002" font-family='"Liberation Serif",serif' font-size="11.7" fill="#222" text-anchor="end" >-2</text>
<text x="36" y="263.5" font-family='"Liberation Serif",serif' font-size="11.7" fill="#222" text-anchor="end" >-3</text>
<text x="36" y="309.4" font-family='"Liberation Serif",serif' font-size="11.7" fill="#222" text-anchor="end" >-4</text>
<text transform="translate(14.5,171) rotate(-90)" font-family='"Liberation Serif",serif' font-size="20.6" text-anchor="middle" fill="#111">Energy (eV)</text>
<text x="13.2" y="21.5" font-family='"Liberation Serif",serif' font-size="26.5" fill="#000" text-anchor="start" >(a)</text>
<text x="13.4" y="353.9" font-family='"Liberation Serif",serif' font-size="26.5" fill="#000" text-anchor="start" >(b)</text>
<text x="148.4" y="343.2" font-family='"Liberation Sans",sans-serif' font-size="12.9" fill="#222" text-anchor="middle" >Without SOC</text>
<text x="294.2" y="346.4" font-family='"Liberation Sans",sans-serif' font-size="12.9" fill="#222" text-anchor="middle" >With SOC</text>
<line x1="83.9" y1="351.7" x2="83.9" y2="491" stroke="#cfcfcf" stroke-width="0.8"/>
<line x1="62" y1="421.3" x2="130" y2="421.3" stroke="#a8dca8" stroke-width="1"/>
<line x1="162.8" y1="351.7" x2="162.8" y2="491" stroke="#cfcfcf" stroke-width="0.8"/>
<line x1="139.3" y1="421.3" x2="208.5" y2="421.3" stroke="#a8dca8" stroke-width="1"/>
<line x1="247.5" y1="351.7" x2="247.5" y2="491" stroke="#cfcfcf" stroke-width="0.8"/>
<line x1="224.3" y1="421.3" x2="292.4" y2="421.3" stroke="#a8dca8" stroke-width="1"/>
<line x1="325.9" y1="351.7" x2="325.9" y2="491" stroke="#cfcfcf" stroke-width="0.8"/>
<line x1="302.1" y1="421.3" x2="371.5" y2="421.3" stroke="#a8dca8" stroke-width="1"/>
<path d="M62.0,362.5 C65.7,372.8 80.2,413.9 83.9,424.2" fill="none" stroke="#e0c4bc" stroke-width="0.6"/>
<circle cx="65.2" cy="371.4" r="1.25" fill="#8e6e6c"/>
<circle cx="68.9" cy="381.9" r="1.25" fill="#8e6e6c"/>
<circle cx="72.7" cy="392.5" r="1.25" fill="#8e6e6c"/>
<circle cx="76.4" cy="403.1" r="1.25" fill="#8e6e6c"/>
<circle cx="80.2" cy="413.6" r="1.25" fill="#8e6e6c"/>
<circle cx="83.9" cy="424.2" r="1.25" fill="#8e6e6c"/>
<path d="M83.9,424.2 C84.6,423.0 86.6,419.2 87.8,416.8 C89.1,414.4 90.1,411.7 91.4,409.5 C92.7,407.3 94.3,405.6 95.7,403.6 C97.1,401.7 98.4,400.0 99.6,397.8 C100.8,395.6 101.9,393.4 103.1,390.5 C104.3,387.6 105.7,383.9 106.9,380.2 C108.1,376.5 109.1,372.5 110.4,368.5 C111.7,364.5 113.8,358.9 114.8,356.1 C115.8,353.3 116.1,352.4 116.4,351.7" fill="none" stroke="#e0c4bc" stroke-width="0.6"/>
<circle cx="87.7" cy="417.1" r="1.20" fill="#9a8080"/>
<circle cx="91.4" cy="409.5" r="1.20" fill="#9a8080"/>
<circle cx="95.2" cy="404.4" r="1.20" fill="#9a8080"/>
<circle cx="98.9" cy="398.8" r="1.20" fill="#9a8080"/>
<circle cx="102.7" cy="391.4" r="1.20" fill="#9a8080"/>
<circle cx="106.4" cy="381.6" r="1.20" fill="#9a8080"/>
<circle cx="110.2" cy="369.3" r="1.20" fill="#9a8080"/>
<circle cx="113.9" cy="358.6" r="1.20" fill="#9a8080"/>
<circle cx="106.4" cy="381.6" r="2.00" fill="#fff" stroke="#b4a8a4" stroke-width="0.8"/>
<circle cx="110.2" cy="369.3" r="2.00" fill="#fff" stroke="#b4a8a4" stroke-width="0.8"/>
<circle cx="113.9" cy="358.6" r="2.00" fill="#fff" stroke="#b4a8a4" stroke-width="0.8"/>
<path d="M83.9,424.2 C82.7,427.1 79.0,436.2 76.6,441.8 C74.2,447.4 71.8,452.4 69.3,457.9 C66.8,463.3 63.0,471.7 61.7,474.5" fill="none" stroke="#e0c4bc" stroke-width="0.6"/>
<circle cx="65.2" cy="467.0" r="1.25" fill="#8e6e6c"/>
<circle cx="68.9" cy="458.8" r="1.25" fill="#8e6e6c"/>
<circle cx="72.7" cy="450.5" r="1.25" fill="#8e6e6c"/>
<circle cx="76.4" cy="442.2" r="1.25" fill="#8e6e6c"/>
<circle cx="80.2" cy="433.2" r="1.25" fill="#8e6e6c"/>
<path d="M83.9,424.2 C85.2,426.6 88.7,434.6 91.4,438.8 C94.1,443.0 97.3,446.6 100.2,449.1 C103.1,451.7 106.1,452.9 109.0,454.1 C111.9,455.3 114.2,455.9 117.7,456.4 C121.2,456.9 128.0,457.1 130.0,457.2" fill="none" stroke="#e0c4bc" stroke-width="0.6"/>
<circle cx="87.7" cy="431.5" r="1.25" fill="#9a8080"/>
<circle cx="91.4" cy="438.8" r="1.25" fill="#9a8080"/>
<circle cx="95.2" cy="443.2" r="1.25" fill="#9a8080"/>
<circle cx="98.9" cy="447.6" r="1.25" fill="#9a8080"/>
<circle cx="102.7" cy="450.5" r="1.25" fill="#9a8080"/>
<circle cx="106.4" cy="452.6" r="1.25" fill="#9a8080"/>
<circle cx="110.2" cy="454.4" r="1.25" fill="#9a8080"/>
<circle cx="113.9" cy="455.4" r="1.25" fill="#9a8080"/>
<circle cx="117.7" cy="456.4" r="1.25" fill="#9a8080"/>
<circle cx="121.4" cy="456.6" r="1.25" fill="#9a8080"/>
<circle cx="125.2" cy="456.9" r="1.25" fill="#9a8080"/>
<circle cx="128.9" cy="457.1" r="1.25" fill="#9a8080"/>
<circle cx="110.2" cy="454.3" r="1.80" fill="#fff" stroke="#c0b4b0" stroke-width="0.7"/>
<circle cx="113.9" cy="454.9" r="1.80" fill="#fff" stroke="#c0b4b0" stroke-width="0.7"/>
<circle cx="117.7" cy="455.4" r="1.80" fill="#fff" stroke="#c0b4b0" stroke-width="0.7"/>
<circle cx="121.4" cy="456.0" r="1.80" fill="#fff" stroke="#c0b4b0" stroke-width="0.7"/>
<circle cx="125.2" cy="456.5" r="1.80" fill="#fff" stroke="#c0b4b0" stroke-width="0.7"/>
<circle cx="128.9" cy="457.0" r="1.80" fill="#fff" stroke="#c0b4b0" stroke-width="0.7"/>
<path d="M62.0,478.0 C63.5,479.5 68.8,484.9 71.1,487.2 C73.4,489.4 75.2,490.8 76.0,491.5" fill="none" stroke="#e0c4bc" stroke-width="0.6"/>
<circle cx="65.2" cy="481.2" r="1.25" fill="#8e6e6c"/>
<circle cx="68.9" cy="485.0" r="1.25" fill="#8e6e6c"/>
<circle cx="72.7" cy="488.6" r="1.25" fill="#8e6e6c"/>
<path d="M90.2,491.5 C91.4,489.3 94.6,482.0 97.2,478.4 C99.8,474.8 103.5,472.0 106.0,469.6 C108.5,467.2 110.0,465.4 111.9,463.8 C113.9,462.2 115.8,461.0 117.7,460.0 C119.7,459.0 121.6,458.4 123.6,457.9 C125.7,457.4 128.9,457.3 130.0,457.2" fill="none" stroke="#e0c4bc" stroke-width="0.6"/>
<circle cx="91.4" cy="489.3" r="1.30" fill="#a07a6a"/>
<circle cx="95.2" cy="482.2" r="1.30" fill="#a07a6a"/>
<circle cx="98.9" cy="476.7" r="1.30" fill="#a07a6a"/>
<circle cx="102.7" cy="472.9" r="1.30" fill="#a07a6a"/>
<circle cx="106.4" cy="469.2" r="1.30" fill="#a07a6a"/>
<circle cx="110.2" cy="465.5" r="1.30" fill="#a07a6a"/>
<circle cx="113.9" cy="462.5" r="1.30" fill="#a07a6a"/>
<circle cx="117.7" cy="460.0" r="1.30" fill="#a07a6a"/>
<circle cx="121.4" cy="458.7" r="1.30" fill="#a07a6a"/>
<circle cx="125.2" cy="457.7" r="1.30" fill="#a07a6a"/>
<circle cx="128.9" cy="457.3" r="1.30" fill="#a07a6a"/>
<path d="M139.3,362.5 C143.2,372.8 158.9,413.9 162.8,424.2" fill="none" stroke="#e4d4d4" stroke-width="0.6"/>
<circle cx="140.3" cy="365.1" r="1.45" fill="#7c7070"/>
<circle cx="144.1" cy="375.0" r="1.45" fill="#7c7070"/>
<circle cx="147.8" cy="384.8" r="1.45" fill="#7c7070"/>
<circle cx="151.6" cy="394.7" r="1.45" fill="#7c7070"/>
<circle cx="155.3" cy="404.5" r="1.45" fill="#7c7070"/>
<circle cx="159.1" cy="414.4" r="1.45" fill="#7c7070"/>
<circle cx="162.8" cy="424.2" r="1.45" fill="#7c7070"/>
<path d="M162.8,424.2 C163.5,423.0 165.5,419.2 166.7,416.8 C168.0,414.4 169.0,411.7 170.3,409.5 C171.6,407.3 173.2,405.6 174.6,403.6 C176.0,401.7 177.3,400.0 178.5,397.8 C179.7,395.6 180.8,393.4 182.0,390.5 C183.2,387.6 184.6,383.9 185.8,380.2 C187.0,376.5 188.0,372.5 189.3,368.5 C190.6,364.5 192.7,358.9 193.7,356.1 C194.7,353.3 195.0,352.4 195.3,351.7" fill="none" stroke="#e8c4c4" stroke-width="0.6"/>
<circle cx="166.6" cy="417.1" r="1.82" fill="#fff" stroke="#b88088" stroke-width="0.7"/>
<circle cx="166.6" cy="417.1" r="0.7" fill="#a86070"/>
<circle cx="170.3" cy="409.5" r="1.95" fill="#fff" stroke="#b88088" stroke-width="0.7"/>
<circle cx="170.3" cy="409.5" r="0.7" fill="#a86070"/>
<circle cx="174.1" cy="404.4" r="2.08" fill="#fff" stroke="#b88088" stroke-width="0.7"/>
<circle cx="174.1" cy="404.4" r="0.7" fill="#a86070"/>
<circle cx="177.8" cy="398.8" r="2.20" fill="#fff" stroke="#b88088" stroke-width="0.7"/>
<circle cx="177.8" cy="398.8" r="0.7" fill="#a86070"/>
<circle cx="181.6" cy="391.4" r="2.33" fill="#fff" stroke="#b88088" stroke-width="0.7"/>
<circle cx="181.6" cy="391.4" r="0.7" fill="#a86070"/>
<circle cx="185.3" cy="381.6" r="2.45" fill="#fff" stroke="#b88088" stroke-width="0.7"/>
<circle cx="185.3" cy="381.6" r="0.7" fill="#a86070"/>
<circle cx="189.1" cy="369.3" r="2.58" fill="#fff" stroke="#b88088" stroke-width="0.7"/>
<circle cx="189.1" cy="369.3" r="0.7" fill="#a86070"/>
<circle cx="192.8" cy="358.6" r="2.70" fill="#fff" stroke="#b88088" stroke-width="0.7"/>
<circle cx="192.8" cy="358.6" r="0.7" fill="#a86070"/>
<path d="M162.8,424.2 C161.6,427.1 157.9,436.2 155.5,441.8 C153.1,447.4 150.7,452.4 148.2,457.9 C145.7,463.3 141.9,471.7 140.6,474.5" fill="none" stroke="#d0d8e0" stroke-width="0.6"/>
<circle cx="144.1" cy="467.0" r="1.40" fill="#607878"/>
<circle cx="147.8" cy="458.8" r="1.40" fill="#607878"/>
<circle cx="151.6" cy="450.5" r="1.40" fill="#607878"/>
<circle cx="155.3" cy="442.2" r="1.40" fill="#607878"/>
<circle cx="159.1" cy="433.2" r="1.40" fill="#607878"/>
<path d="M162.8,424.2 C164.1,426.6 167.6,434.6 170.3,438.8 C173.0,443.0 177.6,447.4 179.1,449.1" fill="none" stroke="#d0d8e0" stroke-width="0.6"/>
<circle cx="166.6" cy="431.5" r="1.50" fill="#6e8c8a"/>
<circle cx="170.3" cy="438.8" r="1.50" fill="#6e8c8a"/>
<circle cx="174.1" cy="443.2" r="1.50" fill="#6e8c8a"/>
<circle cx="177.8" cy="447.6" r="1.50" fill="#6e8c8a"/>
<circle cx="189.1" cy="454.4" r="1.90" fill="#fff" stroke="#8494d0" stroke-width="0.7"/>
<circle cx="192.8" cy="455.3" r="1.90" fill="#fff" stroke="#8494d0" stroke-width="0.7"/>
<circle cx="196.6" cy="456.2" r="1.90" fill="#fff" stroke="#8494d0" stroke-width="0.7"/>
<circle cx="200.3" cy="456.6" r="1.90" fill="#fff" stroke="#8494d0" stroke-width="0.7"/>
<circle cx="204.1" cy="456.9" r="1.90" fill="#fff" stroke="#8494d0" stroke-width="0.7"/>
<circle cx="207.8" cy="457.1" r="1.90" fill="#fff" stroke="#8494d0" stroke-width="0.7"/>
<circle cx="140.3" cy="472.8" r="2.00" fill="#fff" stroke="#8494d0" stroke-width="0.7"/>
<circle cx="144.1" cy="479.5" r="2.00" fill="#fff" stroke="#8494d0" stroke-width="0.7"/>
<circle cx="147.8" cy="482.2" r="2.00" fill="#fff" stroke="#8494d0" stroke-width="0.7"/>
<circle cx="151.6" cy="485.4" r="2.00" fill="#fff" stroke="#8494d0" stroke-width="0.7"/>
<circle cx="155.3" cy="488.4" r="2.00" fill="#fff" stroke="#8494d0" stroke-width="0.7"/>
<circle cx="170.3" cy="489.3" r="2.10" fill="#fff" stroke="#8494d0" stroke-width="0.7"/>
<circle cx="170.3" cy="489.3" r="0.7" fill="#90a0c8"/>
<circle cx="174.1" cy="482.2" r="2.10" fill="#fff" stroke="#8494d0" stroke-width="0.7"/>
<circle cx="174.1" cy="482.2" r="0.7" fill="#90a0c8"/>
<circle cx="177.8" cy="476.7" r="2.10" fill="#fff" stroke="#8494d0" stroke-width="0.7"/>
<circle cx="177.8" cy="476.7" r="0.7" fill="#90a0c8"/>
<circle cx="181.6" cy="472.9" r="2.10" fill="#fff" stroke="#8494d0" stroke-width="0.7"/>
<circle cx="181.6" cy="472.9" r="0.7" fill="#90a0c8"/>
<circle cx="185.3" cy="469.2" r="2.10" fill="#fff" stroke="#8494d0" stroke-width="0.7"/>
<circle cx="185.3" cy="469.2" r="0.7" fill="#90a0c8"/>
<circle cx="189.1" cy="465.5" r="2.10" fill="#fff" stroke="#8494d0" stroke-width="0.7"/>
<circle cx="189.1" cy="465.5" r="0.7" fill="#90a0c8"/>
<circle cx="192.8" cy="462.5" r="2.10" fill="#fff" stroke="#8494d0" stroke-width="0.7"/>
<circle cx="192.8" cy="462.5" r="0.7" fill="#90a0c8"/>
<circle cx="196.6" cy="460.0" r="2.10" fill="#fff" stroke="#8494d0" stroke-width="0.7"/>
<circle cx="196.6" cy="460.0" r="0.7" fill="#90a0c8"/>
<circle cx="200.3" cy="458.7" r="2.10" fill="#fff" stroke="#8494d0" stroke-width="0.7"/>
<circle cx="200.3" cy="458.7" r="0.7" fill="#90a0c8"/>
<circle cx="204.1" cy="457.7" r="2.10" fill="#fff" stroke="#8494d0" stroke-width="0.7"/>
<circle cx="204.1" cy="457.7" r="0.7" fill="#90a0c8"/>
<circle cx="207.8" cy="457.3" r="2.10" fill="#fff" stroke="#8494d0" stroke-width="0.7"/>
<circle cx="207.8" cy="457.3" r="0.7" fill="#90a0c8"/>
<path d="M224.3,362.5 C228.2,372.3 243.6,411.5 247.5,421.3" fill="none" stroke="#e0c4bc" stroke-width="0.6"/>
<circle cx="225.0" cy="364.3" r="1.25" fill="#8e6e6c"/>
<circle cx="228.8" cy="373.8" r="1.25" fill="#8e6e6c"/>
<circle cx="232.5" cy="383.3" r="1.25" fill="#8e6e6c"/>
<circle cx="236.2" cy="392.8" r="1.25" fill="#8e6e6c"/>
<circle cx="240.0" cy="402.3" r="1.25" fill="#8e6e6c"/>
<circle cx="243.8" cy="411.8" r="1.25" fill="#8e6e6c"/>
<circle cx="247.5" cy="421.3" r="1.25" fill="#8e6e6c"/>
<path d="M247.5,421.3 C248.2,420.6 250.2,418.8 251.4,416.8 C252.7,414.8 253.7,411.7 255.0,409.5 C256.3,407.3 257.9,405.6 259.3,403.6 C260.7,401.7 262.0,400.0 263.2,397.8 C264.4,395.6 265.5,393.4 266.7,390.5 C267.9,387.6 269.3,383.9 270.5,380.2 C271.7,376.5 272.7,372.5 274.0,368.5 C275.3,364.5 277.4,358.9 278.4,356.1 C279.4,353.3 279.7,352.4 280.0,351.7" fill="none" stroke="#e0c4bc" stroke-width="0.6"/>
<circle cx="251.2" cy="417.0" r="1.20" fill="#9a8080"/>
<circle cx="255.0" cy="409.5" r="1.20" fill="#9a8080"/>
<circle cx="258.8" cy="404.4" r="1.20" fill="#9a8080"/>
<circle cx="262.5" cy="398.8" r="1.20" fill="#9a8080"/>
<circle cx="266.2" cy="391.4" r="1.20" fill="#9a8080"/>
<circle cx="270.0" cy="381.6" r="1.20" fill="#9a8080"/>
<circle cx="273.8" cy="369.3" r="1.20" fill="#9a8080"/>
<circle cx="277.5" cy="358.6" r="1.20" fill="#9a8080"/>
<circle cx="270.0" cy="381.6" r="2.00" fill="#fff" stroke="#b4a8a4" stroke-width="0.8"/>
<circle cx="273.8" cy="369.3" r="2.00" fill="#fff" stroke="#b4a8a4" stroke-width="0.8"/>
<circle cx="277.5" cy="358.6" r="2.00" fill="#fff" stroke="#b4a8a4" stroke-width="0.8"/>
<path d="M247.5,429.0 C246.3,431.3 242.6,438.2 240.2,443.0 C237.8,447.8 235.4,452.6 232.9,457.9 C230.4,463.1 226.6,471.7 225.3,474.5" fill="none" stroke="#e0c4bc" stroke-width="0.6"/>
<circle cx="228.8" cy="467.0" r="1.25" fill="#8e6e6c"/>
<circle cx="232.5" cy="458.8" r="1.25" fill="#8e6e6c"/>
<circle cx="236.2" cy="451.1" r="1.25" fill="#8e6e6c"/>
<circle cx="240.0" cy="443.4" r="1.25" fill="#8e6e6c"/>
<circle cx="243.8" cy="436.2" r="1.25" fill="#8e6e6c"/>
<path d="M247.5,429.0 C248.7,430.9 252.1,437.1 254.6,440.3 C257.1,443.5 259.7,446.3 262.6,448.3 C265.5,450.3 268.5,451.6 271.8,452.2 C275.1,452.8 278.9,452.3 282.3,452.2 C285.7,452.1 290.7,451.8 292.4,451.7" fill="none" stroke="#e0c4bc" stroke-width="0.6"/>
<circle cx="251.2" cy="435.0" r="1.25" fill="#9a8080"/>
<circle cx="255.0" cy="440.7" r="1.25" fill="#9a8080"/>
<circle cx="258.8" cy="444.4" r="1.25" fill="#9a8080"/>
<circle cx="262.5" cy="448.2" r="1.25" fill="#9a8080"/>
<circle cx="266.2" cy="449.8" r="1.25" fill="#9a8080"/>
<circle cx="270.0" cy="451.4" r="1.25" fill="#9a8080"/>
<circle cx="273.8" cy="452.2" r="1.25" fill="#9a8080"/>
<circle cx="277.5" cy="452.2" r="1.25" fill="#9a8080"/>
<circle cx="281.2" cy="452.2" r="1.25" fill="#9a8080"/>
<circle cx="285.0" cy="452.1" r="1.25" fill="#9a8080"/>
<circle cx="288.8" cy="451.9" r="1.25" fill="#9a8080"/>
<circle cx="273.8" cy="452.5" r="1.80" fill="#fff" stroke="#c0b4b0" stroke-width="0.7"/>
<circle cx="277.5" cy="452.4" r="1.80" fill="#fff" stroke="#c0b4b0" stroke-width="0.7"/>
<circle cx="281.2" cy="452.3" r="1.80" fill="#fff" stroke="#c0b4b0" stroke-width="0.7"/>
<circle cx="285.0" cy="452.2" r="1.80" fill="#fff" stroke="#c0b4b0" stroke-width="0.7"/>
<circle cx="288.8" cy="452.1" r="1.80" fill="#fff" stroke="#c0b4b0" stroke-width="0.7"/>
<path d="M224.3,478.6 C225.8,480.0 231.1,484.9 233.3,487.0 C235.5,489.1 236.6,490.8 237.3,491.5" fill="none" stroke="#e0c4bc" stroke-width="0.6"/>
<circle cx="225.0" cy="479.3" r="1.25" fill="#8e6e6c"/>
<circle cx="228.8" cy="482.8" r="1.25" fill="#8e6e6c"/>
<circle cx="232.5" cy="486.3" r="1.25" fill="#8e6e6c"/>
<circle cx="236.2" cy="490.3" r="1.25" fill="#8e6e6c"/>
<path d="M255.0,491.5 C255.4,491.1 255.6,491.4 257.3,489.0 C259.0,486.6 262.4,481.0 265.2,477.3 C268.0,473.6 271.3,469.2 274.4,466.7 C277.5,464.2 280.7,463.1 283.7,462.2 C286.7,461.3 290.9,461.5 292.4,461.4" fill="none" stroke="#e0c4bc" stroke-width="0.6"/>
<circle cx="258.8" cy="486.9" r="1.30" fill="#a07a6a"/>
<circle cx="262.5" cy="481.3" r="1.30" fill="#a07a6a"/>
<circle cx="266.2" cy="476.1" r="1.30" fill="#a07a6a"/>
<circle cx="270.0" cy="471.8" r="1.30" fill="#a07a6a"/>
<circle cx="273.8" cy="467.4" r="1.30" fill="#a07a6a"/>
<circle cx="277.5" cy="465.2" r="1.30" fill="#a07a6a"/>
<circle cx="281.2" cy="463.4" r="1.30" fill="#a07a6a"/>
<circle cx="285.0" cy="462.1" r="1.30" fill="#a07a6a"/>
<circle cx="288.8" cy="461.7" r="1.30" fill="#a07a6a"/>
<path d="M302.1,362.5 C306.1,372.3 321.9,411.5 325.9,421.3" fill="none" stroke="#e4d4d4" stroke-width="0.6"/>
<circle cx="303.4" cy="365.7" r="1.45" fill="#7c7070"/>
<circle cx="307.1" cy="375.0" r="1.45" fill="#7c7070"/>
<circle cx="310.9" cy="384.2" r="1.45" fill="#7c7070"/>
<circle cx="314.6" cy="393.5" r="1.45" fill="#7c7070"/>
<circle cx="318.4" cy="402.8" r="1.45" fill="#7c7070"/>
<circle cx="322.1" cy="412.0" r="1.45" fill="#7c7070"/>
<circle cx="325.9" cy="421.3" r="1.45" fill="#7c7070"/>
<path d="M325.9,421.3 C326.5,420.6 328.5,418.8 329.8,416.8 C331.0,414.8 332.1,411.7 333.4,409.5 C334.7,407.3 336.3,405.6 337.7,403.6 C339.1,401.7 340.4,400.0 341.6,397.8 C342.8,395.6 343.9,393.4 345.1,390.5 C346.3,387.6 347.7,383.9 348.9,380.2 C350.1,376.5 351.1,372.5 352.4,368.5 C353.7,364.5 355.8,358.9 356.8,356.1 C357.8,353.3 358.1,352.4 358.4,351.7" fill="none" stroke="#e8c4c4" stroke-width="0.6"/>
<circle cx="329.6" cy="417.0" r="1.82" fill="#fff" stroke="#b88088" stroke-width="0.7"/>
<circle cx="329.6" cy="417.0" r="0.7" fill="#a86070"/>
<circle cx="333.4" cy="409.5" r="1.95" fill="#fff" stroke="#b88088" stroke-width="0.7"/>
<circle cx="333.4" cy="409.5" r="0.7" fill="#a86070"/>
<circle cx="337.1" cy="404.4" r="2.08" fill="#fff" stroke="#b88088" stroke-width="0.7"/>
<circle cx="337.1" cy="404.4" r="0.7" fill="#a86070"/>
<circle cx="340.9" cy="398.8" r="2.20" fill="#fff" stroke="#b88088" stroke-width="0.7"/>
<circle cx="340.9" cy="398.8" r="0.7" fill="#a86070"/>
<circle cx="344.6" cy="391.4" r="2.33" fill="#fff" stroke="#b88088" stroke-width="0.7"/>
<circle cx="344.6" cy="391.4" r="0.7" fill="#a86070"/>
<circle cx="348.4" cy="381.6" r="2.45" fill="#fff" stroke="#b88088" stroke-width="0.7"/>
<circle cx="348.4" cy="381.6" r="0.7" fill="#a86070"/>
<circle cx="352.1" cy="369.3" r="2.58" fill="#fff" stroke="#b88088" stroke-width="0.7"/>
<circle cx="352.1" cy="369.3" r="0.7" fill="#a86070"/>
<circle cx="355.9" cy="358.6" r="2.70" fill="#fff" stroke="#b88088" stroke-width="0.7"/>
<circle cx="355.9" cy="358.6" r="0.7" fill="#a86070"/>
<path d="M325.9,429.0 C324.7,431.3 321.0,438.2 318.6,443.0 C316.2,447.8 313.8,452.6 311.3,457.9 C308.8,463.1 305.0,471.7 303.7,474.5" fill="none" stroke="#d0d8e0" stroke-width="0.6"/>
<circle cx="307.1" cy="467.0" r="1.40" fill="#607878"/>
<circle cx="310.9" cy="458.8" r="1.40" fill="#607878"/>
<circle cx="314.6" cy="451.1" r="1.40" fill="#607878"/>
<circle cx="318.4" cy="443.4" r="1.40" fill="#607878"/>
<circle cx="322.1" cy="436.2" r="1.40" fill="#607878"/>
<path d="M325.9,429.0 C327.1,430.9 330.5,437.1 333.0,440.3 C335.5,443.5 338.1,446.3 341.0,448.3 C343.9,450.3 348.7,451.6 350.2,452.2" fill="none" stroke="#d0d8e0" stroke-width="0.6"/>
<circle cx="329.6" cy="435.0" r="1.50" fill="#6e8c8a"/>
<circle cx="333.4" cy="440.7" r="1.50" fill="#6e8c8a"/>
<circle cx="337.1" cy="444.4" r="1.50" fill="#6e8c8a"/>
<circle cx="340.9" cy="448.2" r="1.50" fill="#6e8c8a"/>
<circle cx="344.6" cy="449.8" r="1.50" fill="#6e8c8a"/>
<circle cx="348.4" cy="451.4" r="1.50" fill="#6e8c8a"/>
<circle cx="352.1" cy="452.0" r="1.90" fill="#fff" stroke="#8494d0" stroke-width="0.7"/>
<circle cx="355.9" cy="452.1" r="1.90" fill="#fff" stroke="#8494d0" stroke-width="0.7"/>
<circle cx="359.6" cy="452.2" r="1.90" fill="#fff" stroke="#8494d0" stroke-width="0.7"/>
<circle cx="363.4" cy="452.1" r="1.90" fill="#fff" stroke="#8494d0" stroke-width="0.7"/>
<circle cx="367.1" cy="451.9" r="1.90" fill="#fff" stroke="#8494d0" stroke-width="0.7"/>
<circle cx="370.9" cy="451.7" r="1.90" fill="#fff" stroke="#8494d0" stroke-width="0.7"/>
<circle cx="303.4" cy="473.6" r="2.00" fill="#fff" stroke="#8494d0" stroke-width="0.7"/>
<circle cx="307.1" cy="479.7" r="2.00" fill="#fff" stroke="#8494d0" stroke-width="0.7"/>
<circle cx="310.9" cy="482.5" r="2.00" fill="#fff" stroke="#8494d0" stroke-width="0.7"/>
<circle cx="314.6" cy="485.6" r="2.00" fill="#fff" stroke="#8494d0" stroke-width="0.7"/>
<circle cx="318.4" cy="488.7" r="2.00" fill="#fff" stroke="#8494d0" stroke-width="0.7"/>
<circle cx="337.1" cy="486.9" r="2.10" fill="#fff" stroke="#8494d0" stroke-width="0.7"/>
<circle cx="337.1" cy="486.9" r="0.7" fill="#90a0c8"/>
<circle cx="340.9" cy="481.3" r="2.10" fill="#fff" stroke="#8494d0" stroke-width="0.7"/>
<circle cx="340.9" cy="481.3" r="0.7" fill="#90a0c8"/>
<circle cx="344.6" cy="476.1" r="2.10" fill="#fff" stroke="#8494d0" stroke-width="0.7"/>
<circle cx="344.6" cy="476.1" r="0.7" fill="#90a0c8"/>
<circle cx="348.4" cy="471.8" r="2.10" fill="#fff" stroke="#8494d0" stroke-width="0.7"/>
<circle cx="348.4" cy="471.8" r="0.7" fill="#90a0c8"/>
<circle cx="352.1" cy="467.4" r="2.10" fill="#fff" stroke="#8494d0" stroke-width="0.7"/>
<circle cx="352.1" cy="467.4" r="0.7" fill="#90a0c8"/>
<circle cx="355.9" cy="465.2" r="2.10" fill="#fff" stroke="#8494d0" stroke-width="0.7"/>
<circle cx="355.9" cy="465.2" r="0.7" fill="#90a0c8"/>
<circle cx="359.6" cy="463.4" r="2.10" fill="#fff" stroke="#8494d0" stroke-width="0.7"/>
<circle cx="359.6" cy="463.4" r="0.7" fill="#90a0c8"/>
<circle cx="363.4" cy="462.1" r="2.10" fill="#fff" stroke="#8494d0" stroke-width="0.7"/>
<circle cx="363.4" cy="462.1" r="0.7" fill="#90a0c8"/>
<circle cx="367.1" cy="461.8" r="2.10" fill="#fff" stroke="#8494d0" stroke-width="0.7"/>
<circle cx="367.1" cy="461.8" r="0.7" fill="#90a0c8"/>
<circle cx="370.9" cy="461.5" r="2.10" fill="#fff" stroke="#8494d0" stroke-width="0.7"/>
<circle cx="370.9" cy="461.5" r="0.7" fill="#90a0c8"/>
<line x1="62" y1="354.3" x2="64" y2="354.3" stroke="#777" stroke-width="0.7"/>
<line x1="128" y1="354.3" x2="130" y2="354.3" stroke="#777" stroke-width="0.7"/>
<line x1="62" y1="387.8" x2="64" y2="387.8" stroke="#777" stroke-width="0.7"/>
<line x1="128" y1="387.8" x2="130" y2="387.8" stroke="#777" stroke-width="0.7"/>
<line x1="62" y1="421.3" x2="64" y2="421.3" stroke="#777" stroke-width="0.7"/>
<line x1="128" y1="421.3" x2="130" y2="421.3" stroke="#777" stroke-width="0.7"/>
<line x1="62" y1="454.8" x2="64" y2="454.8" stroke="#777" stroke-width="0.7"/>
<line x1="128" y1="454.8" x2="130" y2="454.8" stroke="#777" stroke-width="0.7"/>
<line x1="62" y1="488.3" x2="64" y2="488.3" stroke="#777" stroke-width="0.7"/>
<line x1="128" y1="488.3" x2="130" y2="488.3" stroke="#777" stroke-width="0.7"/>
<rect x="62" y="351.7" width="68" height="139.3" fill="none" stroke="#7a7a7a" stroke-width="1.1"/>
<text x="72.6" y="370.7" font-family='"Liberation Sans",sans-serif' font-size="19.2" fill="#000" text-anchor="start" >Pd</text>
<line x1="139.3" y1="354.3" x2="141.3" y2="354.3" stroke="#777" stroke-width="0.7"/>
<line x1="206.5" y1="354.3" x2="208.5" y2="354.3" stroke="#777" stroke-width="0.7"/>
<line x1="139.3" y1="387.8" x2="141.3" y2="387.8" stroke="#777" stroke-width="0.7"/>
<line x1="206.5" y1="387.8" x2="208.5" y2="387.8" stroke="#777" stroke-width="0.7"/>
<line x1="139.3" y1="421.3" x2="141.3" y2="421.3" stroke="#777" stroke-width="0.7"/>
<line x1="206.5" y1="421.3" x2="208.5" y2="421.3" stroke="#777" stroke-width="0.7"/>
<line x1="139.3" y1="454.8" x2="141.3" y2="454.8" stroke="#777" stroke-width="0.7"/>
<line x1="206.5" y1="454.8" x2="208.5" y2="454.8" stroke="#777" stroke-width="0.7"/>
<line x1="139.3" y1="488.3" x2="141.3" y2="488.3" stroke="#777" stroke-width="0.7"/>
<line x1="206.5" y1="488.3" x2="208.5" y2="488.3" stroke="#777" stroke-width="0.7"/>
<rect x="139.3" y="351.7" width="69.19999999999999" height="139.3" fill="none" stroke="#7a7a7a" stroke-width="1.1"/>
<text x="151.70000000000002" y="370.7" font-family='"Liberation Sans",sans-serif' font-size="19.2" fill="#000" text-anchor="start" >Cl</text>
<line x1="224.3" y1="354.3" x2="226.3" y2="354.3" stroke="#777" stroke-width="0.7"/>
<line x1="290.4" y1="354.3" x2="292.4" y2="354.3" stroke="#777" stroke-width="0.7"/>
<line x1="224.3" y1="387.8" x2="226.3" y2="387.8" stroke="#777" stroke-width="0.7"/>
<line x1="290.4" y1="387.8" x2="292.4" y2="387.8" stroke="#777" stroke-width="0.7"/>
<line x1="224.3" y1="421.3" x2="226.3" y2="421.3" stroke="#777" stroke-width="0.7"/>
<line x1="290.4" y1="421.3" x2="292.4" y2="421.3" stroke="#777" stroke-width="0.7"/>
<line x1="224.3" y1="454.8" x2="226.3" y2="454.8" stroke="#777" stroke-width="0.7"/>
<line x1="290.4" y1="454.8" x2="292.4" y2="454.8" stroke="#777" stroke-width="0.7"/>
<line x1="224.3" y1="488.3" x2="226.3" y2="488.3" stroke="#777" stroke-width="0.7"/>
<line x1="290.4" y1="488.3" x2="292.4" y2="488.3" stroke="#777" stroke-width="0.7"/>
<rect x="224.3" y="351.7" width="68.09999999999997" height="139.3" fill="none" stroke="#7a7a7a" stroke-width="1.1"/>
<text x="234.9" y="370.7" font-family='"Liberation Sans",sans-serif' font-size="19.2" fill="#000" text-anchor="start" >Pd</text>
<line x1="302.1" y1="354.3" x2="304.1" y2="354.3" stroke="#777" stroke-width="0.7"/>
<line x1="369.5" y1="354.3" x2="371.5" y2="354.3" stroke="#777" stroke-width="0.7"/>
<line x1="302.1" y1="387.8" x2="304.1" y2="387.8" stroke="#777" stroke-width="0.7"/>
<line x1="369.5" y1="387.8" x2="371.5" y2="387.8" stroke="#777" stroke-width="0.7"/>
<line x1="302.1" y1="421.3" x2="304.1" y2="421.3" stroke="#777" stroke-width="0.7"/>
<line x1="369.5" y1="421.3" x2="371.5" y2="421.3" stroke="#777" stroke-width="0.7"/>
<line x1="302.1" y1="454.8" x2="304.1" y2="454.8" stroke="#777" stroke-width="0.7"/>
<line x1="369.5" y1="454.8" x2="371.5" y2="454.8" stroke="#777" stroke-width="0.7"/>
<line x1="302.1" y1="488.3" x2="304.1" y2="488.3" stroke="#777" stroke-width="0.7"/>
<line x1="369.5" y1="488.3" x2="371.5" y2="488.3" stroke="#777" stroke-width="0.7"/>
<rect x="302.1" y="351.7" width="69.39999999999998" height="139.3" fill="none" stroke="#7a7a7a" stroke-width="1.1"/>
<text x="314.5" y="370.7" font-family='"Liberation Sans",sans-serif' font-size="19.2" fill="#000" text-anchor="start" >Cl</text>
<text x="60.5" y="357.3" font-family='"Liberation Serif",serif' font-size="9" fill="#333" text-anchor="end" >0.2</text>
<text x="299.5" y="356.3" font-family='"Liberation Serif",serif' font-size="5.5" fill="#333" text-anchor="end" >0.2</text>
<text x="60.5" y="390.8" font-family='"Liberation Serif",serif' font-size="9" fill="#333" text-anchor="end" >0.1</text>
<text x="299.5" y="389.8" font-family='"Liberation Serif",serif' font-size="5.5" fill="#333" text-anchor="end" >0.1</text>
<text x="60.5" y="424.3" font-family='"Liberation Serif",serif' font-size="9" fill="#333" text-anchor="end" >0</text>
<text x="299.5" y="423.3" font-family='"Liberation Serif",serif' font-size="5.5" fill="#333" text-anchor="end" >0</text>
<text x="60.5" y="457.8" font-family='"Liberation Serif",serif' font-size="9" fill="#333" text-anchor="end" >-0.1</text>
<text x="299.5" y="456.8" font-family='"Liberation Serif",serif' font-size="5.5" fill="#333" text-anchor="end" >-0.1</text>
<text x="60.5" y="491.3" font-family='"Liberation Serif",serif' font-size="9" fill="#333" text-anchor="end" >-0.2</text>
<text x="299.5" y="490.3" font-family='"Liberation Serif",serif' font-size="5.5" fill="#333" text-anchor="end" >-0.2</text>
<text transform="translate(42,429) rotate(-90)" font-family='"Liberation Serif",serif' font-size="18.6" text-anchor="middle" fill="#111">Energy (eV)</text>
<text x="139.5" y="505.7" font-family='"Liberation Serif",serif' font-size="13" fill="#111">M</text>
<text x="189.5" y="505.7" font-family='"Liberation Serif",serif' font-size="13" fill="#111">K</text>
<text x="268.2" y="505.7" font-family='"Liberation Serif",serif' font-size="13" fill="#111">Γ</text>
<line x1="158.2" y1="501.5" x2="182.4" y2="501.5" stroke="#111" stroke-width="1.5"/>
<path d="M153.2,501.5 L160.2,498.3 L158.2,501.5 L160.2,504.7 Z" fill="#111"/>
<path d="M187.4,501.5 L180.4,498.3 L182.4,501.5 L180.4,504.7 Z" fill="#111"/>
<line x1="208.9" y1="501.5" x2="260" y2="501.5" stroke="#111" stroke-width="1.5"/>
<path d="M203.9,501.5 L210.9,498.3 L208.9,501.5 L210.9,504.7 Z" fill="#111"/>
<path d="M265,501.5 L258,498.3 L260,501.5 L258,504.7 Z" fill="#111"/>
<text x="390.8" y="20.7" font-family='"Liberation Serif",serif' font-size="26.5" fill="#000" text-anchor="start" >(c)</text>
<text x="455" y="9.9" font-family='"Liberation Serif",serif' font-size="11.2" fill="#222" text-anchor="middle" >Atomic</text>
<text x="455" y="23.3" font-family='"Liberation Serif",serif' font-size="11.2" fill="#222" text-anchor="middle" >orbital</text>
<text x="538.5" y="9.9" font-family='"Liberation Serif",serif' font-size="11.2" fill="#222" text-anchor="middle" >Octahedrarl</text>
<text x="538.5" y="23.3" font-family='"Liberation Serif",serif' font-size="11.2" fill="#222" text-anchor="middle" >crystal field</text>
<text x="623" y="9.9" font-family='"Liberation Serif",serif' font-size="11.2" fill="#222" text-anchor="middle" >Distrotion</text>
<text x="623" y="23.3" font-family='"Liberation Serif",serif' font-size="11.2" fill="#222" text-anchor="middle" >crystal field</text>
<text x="696" y="9.9" font-family='"Liberation Serif",serif' font-size="11.2" fill="#222" text-anchor="middle" >Exchange</text>
<text x="696" y="23.3" font-family='"Liberation Serif",serif' font-size="11.2" fill="#222" text-anchor="middle" >field</text>
<line x1="503.7" y1="98" x2="527.5" y2="68" stroke="#7a7ac8" stroke-width="0.8"/>
<line x1="503.7" y1="98" x2="527.5" y2="140.8" stroke="#7a7ac8" stroke-width="0.8"/>
<line x1="567.8" y1="66.1" x2="607" y2="56.1" stroke="#7a7ac8" stroke-width="0.8"/>
<line x1="582.4" y1="140.8" x2="613.4" y2="118.6" stroke="#7a7ac8" stroke-width="0.8"/>
<line x1="582.4" y1="140.8" x2="615.5" y2="172" stroke="#7a7ac8" stroke-width="0.8"/>
<line x1="643.6" y1="56.1" x2="680.7" y2="37.5" stroke="#7a7ac8" stroke-width="0.8"/>
<line x1="643.6" y1="56.1" x2="680.7" y2="67.1" stroke="#7a7ac8" stroke-width="0.8"/>
<line x1="649" y1="118.6" x2="672" y2="103" stroke="#7a7ac8" stroke-width="0.8"/>
<line x1="649" y1="118.6" x2="672" y2="132.3" stroke="#7a7ac8" stroke-width="0.8"/>
<line x1="631.5" y1="172" x2="673.5" y2="159.3" stroke="#7a7ac8" stroke-width="0.8"/>
<line x1="631.5" y1="172" x2="673.5" y2="188.6" stroke="#7a7ac8" stroke-width="0.8"/>
<line x1="408.7" y1="98" x2="425" y2="98" stroke="#111" stroke-width="1.6"/>
<text x="412.286" y="106.7" font-family='"Liberation Sans",sans-serif' font-size="8.5" fill="#222" text-anchor="start" >d<tspan font-size="5.3" dy="1.8">xz</tspan></text>
<ellipse cx="416.2" cy="86.0" rx="3.6" ry="2.7" transform="rotate(-100 416.2 86.0)" fill="#5a5ae6" opacity="0.85"/>
<ellipse cx="417.5" cy="93.0" rx="3.6" ry="2.7" transform="rotate(80 417.5 93.0)" fill="#e0505a" opacity="0.85"/>
<line x1="428.5" y1="98" x2="445.1" y2="98" stroke="#111" stroke-width="1.6"/>
<text x="432.152" y="106.7" font-family='"Liberation Sans",sans-serif' font-size="8.5" fill="#222" text-anchor="start" >d<tspan font-size="5.3" dy="1.8">yz</tspan></text>
<ellipse cx="434.5" cy="87.2" rx="3.2" ry="2.3" transform="rotate(-135 434.5 87.2)" fill="#5a5ae6" opacity="0.85"/>
<ellipse cx="439.1" cy="91.8" rx="3.2" ry="2.3" transform="rotate(45 439.1 91.8)" fill="#5a5ae6" opacity="0.85"/>
<ellipse cx="439.1" cy="87.2" rx="3.2" ry="2.3" transform="rotate(-45 439.1 87.2)" fill="#e0505a" opacity="0.85"/>
<ellipse cx="434.5" cy="91.8" rx="3.2" ry="2.3" transform="rotate(135 434.5 91.8)" fill="#e0505a" opacity="0.85"/>
<line x1="448.3" y1="98" x2="464.9" y2="98" stroke="#111" stroke-width="1.6"/>
<text x="451.952" y="106.7" font-family='"Liberation Sans",sans-serif' font-size="8.5" fill="#222" text-anchor="start" >d<tspan font-size="5.3" dy="1.8">x²-y²</tspan></text>
<ellipse cx="453.4" cy="89.5" rx="3.2" ry="2.4" transform="rotate(180 453.4 89.5)" fill="#e0505a" opacity="0.85"/>
<ellipse cx="459.8" cy="89.5" rx="3.2" ry="2.4" transform="rotate(0 459.8 89.5)" fill="#e0505a" opacity="0.85"/>
<ellipse cx="456.6" cy="87.7" rx="1.8" ry="2.2" transform="rotate(-90 456.6 87.7)" fill="#5a5ae6" opacity="0.85"/>
<ellipse cx="456.6" cy="91.3" rx="1.8" ry="2.2" transform="rotate(90 456.6 91.3)" fill="#5a5ae6" opacity="0.85"/>
<line x1="467.3" y1="98" x2="483.9" y2="98" stroke="#111" stroke-width="1.6"/>
<text x="470.952" y="106.7" font-family='"Liberation Sans",sans-serif' font-size="8.5" fill="#222" text-anchor="start" >d<tspan font-size="5.3" dy="1.8">xy</tspan></text>
<ellipse cx="472.4" cy="89.5" rx="3.2" ry="2.4" transform="rotate(180 472.4 89.5)" fill="#e0505a" opacity="0.85"/>
<ellipse cx="478.8" cy="89.5" rx="3.2" ry="2.4" transform="rotate(0 478.8 89.5)" fill="#5a5ae6" opacity="0.85"/>
<ellipse cx="475.6" cy="88.1" rx="1.4" ry="1.9" transform="rotate(-90 475.6 88.1)" fill="#5a5ae6" opacity="0.85"/>
<ellipse cx="475.6" cy="90.9" rx="1.4" ry="1.9" transform="rotate(90 475.6 90.9)" fill="#e0505a" opacity="0.85"/>
<line x1="487" y1="98" x2="503.7" y2="98" stroke="#111" stroke-width="1.6"/>
<text x="490.674" y="106.7" font-family='"Liberation Sans",sans-serif' font-size="8.5" fill="#222" text-anchor="start" >d<tspan font-size="5.3" dy="1.8">z²</tspan></text>
<ellipse cx="495.4" cy="85.9" rx="3.6" ry="2.4" transform="rotate(-90 495.4 85.9)" fill="#e0505a" opacity="0.85"/>
<ellipse cx="495.4" cy="93.1" rx="3.6" ry="2.4" transform="rotate(90 495.4 93.1)" fill="#e0505a" opacity="0.85"/>
<ellipse cx="495.35" cy="89.5" rx="3.2" ry="1.3" fill="#5a5ae6" opacity="0.85"/>
<text x="510" y="67.7" font-family='"Liberation Sans",sans-serif' font-size="15.5" fill="#000" text-anchor="start" >e</text>
<text x="518.5" y="71" font-family='"Liberation Sans",sans-serif' font-size="15.5" fill="#000" text-anchor="start" >g</text>
<line x1="530.1" y1="66.1" x2="547.2" y2="66.1" stroke="#111" stroke-width="1.6"/>
<text x="533.8620000000001" y="74.8" font-family='"Liberation Sans",sans-serif' font-size="8.5" fill="#222" text-anchor="start" >d<tspan font-size="5.3" dy="1.8">x²-y²</tspan></text>
<ellipse cx="535.4" cy="57.6" rx="3.2" ry="2.4" transform="rotate(180 535.4 57.6)" fill="#e0505a" opacity="0.85"/>
<ellipse cx="541.9" cy="57.6" rx="3.2" ry="2.4" transform="rotate(0 541.9 57.6)" fill="#e0505a" opacity="0.85"/>
<ellipse cx="538.7" cy="55.8" rx="1.8" ry="2.2" transform="rotate(-90 538.7 55.8)" fill="#5a5ae6" opacity="0.85"/>
<ellipse cx="538.7" cy="59.4" rx="1.8" ry="2.2" transform="rotate(90 538.7 59.4)" fill="#5a5ae6" opacity="0.85"/>
<line x1="550.7" y1="66.1" x2="567.8" y2="66.1" stroke="#111" stroke-width="1.6"/>
<text x="554.462" y="74.8" font-family='"Liberation Sans",sans-serif' font-size="8.5" fill="#222" text-anchor="start" >d<tspan font-size="5.3" dy="1.8">z²</tspan></text>
<ellipse cx="559.2" cy="54.0" rx="3.6" ry="2.4" transform="rotate(-90 559.2 54.0)" fill="#e0505a" opacity="0.85"/>
<ellipse cx="559.2" cy="61.2" rx="3.6" ry="2.4" transform="rotate(90 559.2 61.2)" fill="#e0505a" opacity="0.85"/>
<ellipse cx="559.25" cy="57.599999999999994" rx="3.2" ry="1.3" fill="#5a5ae6" opacity="0.85"/>
<text x="507.5" y="139.6" font-family='"Liberation Sans",sans-serif' font-size="15.5" fill="#000" text-anchor="start" >t</text>
<text x="512.5" y="145" font-family='"Liberation Sans",sans-serif' font-size="11.5" fill="#000" text-anchor="start" >2g</text>
<line x1="526.7" y1="140.8" x2="543.3" y2="140.8" stroke="#111" stroke-width="1.6"/>
<text x="530.352" y="149.5" font-family='"Liberation Sans",sans-serif' font-size="8.5" fill="#222" text-anchor="start" >d<tspan font-size="5.3" dy="1.8">xy</tspan></text>
<ellipse cx="531.8" cy="132.3" rx="3.2" ry="2.4" transform="rotate(180 531.8 132.3)" fill="#e0505a" opacity="0.85"/>
<ellipse cx="538.2" cy="132.3" rx="3.2" ry="2.4" transform="rotate(0 538.2 132.3)" fill="#5a5ae6" opacity="0.85"/>
<ellipse cx="535.0" cy="130.9" rx="1.4" ry="1.9" transform="rotate(-90 535.0 130.9)" fill="#5a5ae6" opacity="0.85"/>
<ellipse cx="535.0" cy="133.7" rx="1.4" ry="1.9" transform="rotate(90 535.0 133.7)" fill="#e0505a" opacity="0.85"/>
<line x1="546" y1="140.8" x2="562.8" y2="140.8" stroke="#111" stroke-width="1.6"/>
<text x="549.696" y="149.5" font-family='"Liberation Sans",sans-serif' font-size="8.5" fill="#222" text-anchor="start" >d<tspan font-size="5.3" dy="1.8">xz</tspan></text>
<ellipse cx="553.8" cy="128.8" rx="3.6" ry="2.7" transform="rotate(-100 553.8 128.8)" fill="#5a5ae6" opacity="0.85"/>
<ellipse cx="555.0" cy="135.8" rx="3.6" ry="2.7" transform="rotate(80 555.0 135.8)" fill="#e0505a" opacity="0.85"/>
<line x1="565.9" y1="140.8" x2="582.4" y2="140.8" stroke="#111" stroke-width="1.6"/>
<text x="569.53" y="149.5" font-family='"Liberation Sans",sans-serif' font-size="8.5" fill="#222" text-anchor="start" >d<tspan font-size="5.3" dy="1.8">yz</tspan></text>
<ellipse cx="571.9" cy="130.0" rx="3.2" ry="2.3" transform="rotate(-135 571.9 130.0)" fill="#5a5ae6" opacity="0.85"/>
<ellipse cx="576.4" cy="134.6" rx="3.2" ry="2.3" transform="rotate(45 576.4 134.6)" fill="#5a5ae6" opacity="0.85"/>
<ellipse cx="576.4" cy="130.0" rx="3.2" ry="2.3" transform="rotate(-45 576.4 130.0)" fill="#e0505a" opacity="0.85"/>
<ellipse cx="571.9" cy="134.6" rx="3.2" ry="2.3" transform="rotate(135 571.9 134.6)" fill="#e0505a" opacity="0.85"/>
<line x1="527.5" y1="70" x2="527.5" y2="139" stroke="#777" stroke-width="0.9"/>
<path d="M525.8,74 L527.5,68.5 L529.2,74 Z" fill="#333"/>
<path d="M525.8,135 L527.5,140 L529.2,135 Z" fill="#333"/>
<text x="589.5" y="58.6" font-family='"Liberation Sans",sans-serif' font-size="14.2" fill="#000" text-anchor="start" >E</text>
<text x="598" y="61" font-family='"Liberation Sans",sans-serif' font-size="14.2" fill="#000" text-anchor="start" >1</text>
<line x1="606.9" y1="56.1" x2="623.5" y2="56.1" stroke="#111" stroke-width="1.6"/>
<text x="610.552" y="64.8" font-family='"Liberation Sans",sans-serif' font-size="8.5" fill="#222" text-anchor="start" >d<tspan font-size="5.3" dy="1.8">xz</tspan></text>
<ellipse cx="614.6" cy="44.1" rx="3.6" ry="2.7" transform="rotate(-100 614.6 44.1)" fill="#5a5ae6" opacity="0.85"/>
<ellipse cx="615.8" cy="51.1" rx="3.6" ry="2.7" transform="rotate(80 615.8 51.1)" fill="#e0505a" opacity="0.85"/>
<line x1="627" y1="56.1" x2="643.6" y2="56.1" stroke="#111" stroke-width="1.6"/>
<text x="630.652" y="64.8" font-family='"Liberation Sans",sans-serif' font-size="8.5" fill="#222" text-anchor="start" >d<tspan font-size="5.3" dy="1.8">yz</tspan></text>
<ellipse cx="633.0" cy="45.3" rx="3.2" ry="2.3" transform="rotate(-135 633.0 45.3)" fill="#5a5ae6" opacity="0.85"/>
<ellipse cx="637.6" cy="49.9" rx="3.2" ry="2.3" transform="rotate(45 637.6 49.9)" fill="#5a5ae6" opacity="0.85"/>
<ellipse cx="637.6" cy="45.3" rx="3.2" ry="2.3" transform="rotate(-45 637.6 45.3)" fill="#e0505a" opacity="0.85"/>
<ellipse cx="633.0" cy="49.9" rx="3.2" ry="2.3" transform="rotate(135 633.0 49.9)" fill="#e0505a" opacity="0.85"/>
<text x="594.7" y="120.6" font-family='"Liberation Sans",sans-serif' font-size="14.2" fill="#000" text-anchor="start" >E</text>
<text x="603.4" y="123" font-family='"Liberation Sans",sans-serif' font-size="14.2" fill="#000" text-anchor="start" >2</text>
<line x1="613.4" y1="118.6" x2="630" y2="118.6" stroke="#111" stroke-width="1.6"/>
<text x="617.052" y="127.3" font-family='"Liberation Sans",sans-serif' font-size="8.5" fill="#222" text-anchor="start" >d<tspan font-size="5.3" dy="1.8">x²-y²</tspan></text>
<ellipse cx="618.5" cy="110.1" rx="3.2" ry="2.4" transform="rotate(180 618.5 110.1)" fill="#e0505a" opacity="0.85"/>
<ellipse cx="624.9" cy="110.1" rx="3.2" ry="2.4" transform="rotate(0 624.9 110.1)" fill="#e0505a" opacity="0.85"/>
<ellipse cx="621.7" cy="108.3" rx="1.8" ry="2.2" transform="rotate(-90 621.7 108.3)" fill="#5a5ae6" opacity="0.85"/>
<ellipse cx="621.7" cy="111.9" rx="1.8" ry="2.2" transform="rotate(90 621.7 111.9)" fill="#5a5ae6" opacity="0.85"/>
<line x1="632" y1="118.6" x2="649" y2="118.6" stroke="#111" stroke-width="1.6"/>
<text x="635.74" y="127.3" font-family='"Liberation Sans",sans-serif' font-size="8.5" fill="#222" text-anchor="start" >d<tspan font-size="5.3" dy="1.8">xy</tspan></text>
<ellipse cx="637.3" cy="110.1" rx="3.2" ry="2.4" transform="rotate(180 637.3 110.1)" fill="#e0505a" opacity="0.85"/>
<ellipse cx="643.7" cy="110.1" rx="3.2" ry="2.4" transform="rotate(0 643.7 110.1)" fill="#5a5ae6" opacity="0.85"/>
<ellipse cx="640.5" cy="108.7" rx="1.4" ry="1.9" transform="rotate(-90 640.5 108.7)" fill="#5a5ae6" opacity="0.85"/>
<ellipse cx="640.5" cy="111.5" rx="1.4" ry="1.9" transform="rotate(90 640.5 111.5)" fill="#e0505a" opacity="0.85"/>
<text x="596" y="174.4" font-family='"Liberation Sans",sans-serif' font-size="14.2" fill="#000" text-anchor="start" >A</text>
<text x="605.7" y="176.8" font-family='"Liberation Sans",sans-serif' font-size="14.2" fill="#000" text-anchor="start" >1</text>
<line x1="615.5" y1="172" x2="631.5" y2="172" stroke="#111" stroke-width="1.6"/>
<text x="619.02" y="180.7" font-family='"Liberation Sans",sans-serif' font-size="8.5" fill="#222" text-anchor="start" >d<tspan font-size="5.3" dy="1.8">z²</tspan></text>
<ellipse cx="622.0" cy="161.1" rx="2.9" ry="1.9" transform="rotate(-90 622.0 161.1)" fill="#e0505a" opacity="0.85"/>
<ellipse cx="622.0" cy="166.9" rx="2.9" ry="1.9" transform="rotate(90 622.0 166.9)" fill="#e0505a" opacity="0.85"/>
<ellipse cx="622" cy="164" rx="2.6" ry="1.0" fill="#5a5ae6" opacity="0.85"/>
<line x1="680.7" y1="37.5" x2="697.7" y2="37.5" stroke="#111" stroke-width="1.6"/>
<text x="684.44" y="46.2" font-family='"Liberation Sans",sans-serif' font-size="8.5" fill="#222" text-anchor="start" >d<tspan font-size="5.3" dy="1.8">xz</tspan></text>
<line x1="701.1" y1="37.5" x2="717.9" y2="37.5" stroke="#111" stroke-width="1.6"/>
<text x="704.796" y="46.2" font-family='"Liberation Sans",sans-serif' font-size="8.5" fill="#222" text-anchor="start" >d<tspan font-size="5.3" dy="1.8">yz</tspan></text>
<line x1="680.7" y1="67.1" x2="697.7" y2="67.1" stroke="#111" stroke-width="1.6"/>
<text x="684.44" y="75.8" font-family='"Liberation Sans",sans-serif' font-size="8.5" fill="#222" text-anchor="start" >d<tspan font-size="5.3" dy="1.8">xz</tspan></text>
<line x1="701.1" y1="67.1" x2="717.9" y2="67.1" stroke="#111" stroke-width="1.6"/>
<text x="704.796" y="75.8" font-family='"Liberation Sans",sans-serif' font-size="8.5" fill="#222" text-anchor="start" >d<tspan font-size="5.3" dy="1.8">yz</tspan></text>
<line x1="689.2" y1="67" x2="689.2" y2="60.5" stroke="#2828b4" stroke-width="1.1"/>
<path d="M687.6,63.5 L689.2,60.5 L690.8000000000001,63.5 Z" fill="#2828b4"/>
<text x="724" y="37.5" font-family='"Liberation Sans",sans-serif' font-size="7.3" fill="#d03030" text-anchor="start" >dn-spin</text>
<text x="726.6" y="71.5" font-family='"Liberation Sans",sans-serif' font-size="7.3" fill="#3030c0" text-anchor="start" >up-spin</text>
<text x="727.2" y="52.8" font-family='"Liberation Sans",sans-serif' font-size="14.3" fill="#2ecc2e" text-anchor="start" >E</text>
<text x="735" y="55.6" font-family='"Liberation Sans",sans-serif' font-size="9.5" fill="#2ecc2e" text-anchor="start" >F</text>
<line x1="665.2" y1="58.4" x2="758" y2="58.4" stroke="#28c828" stroke-width="1.1" stroke-dasharray="3,1.5,1,1.5"/>
<line x1="672" y1="103" x2="688.8" y2="103" stroke="#111" stroke-width="1.6"/>
<text x="675.696" y="111.7" font-family='"Liberation Sans",sans-serif' font-size="8.5" fill="#222" text-anchor="start" >d<tspan font-size="5.3" dy="1.8">x²-y²</tspan></text>
<line x1="691.3" y1="103" x2="708.3" y2="103" stroke="#111" stroke-width="1.6"/>
<text x="695.04" y="111.7" font-family='"Liberation Sans",sans-serif' font-size="8.5" fill="#222" text-anchor="start" >d<tspan font-size="5.3" dy="1.8">xy</tspan></text>
<line x1="672" y1="132.3" x2="688.8" y2="132.3" stroke="#111" stroke-width="1.6"/>
<text x="675.696" y="141.0" font-family='"Liberation Sans",sans-serif' font-size="8.5" fill="#222" text-anchor="start" >d<tspan font-size="5.3" dy="1.8">x²-y²</tspan></text>
<line x1="691.3" y1="132.3" x2="708.3" y2="132.3" stroke="#111" stroke-width="1.6"/>
<text x="695.04" y="141.0" font-family='"Liberation Sans",sans-serif' font-size="8.5" fill="#222" text-anchor="start" >d<tspan font-size="5.3" dy="1.8">xy</tspan></text>
<line x1="680.6" y1="95" x2="680.6" y2="103" stroke="#c83232" stroke-width="1.1"/>
<path d="M679.0,100 L680.6,103 L682.2,100 Z" fill="#c83232"/>
<line x1="700.7" y1="95" x2="700.7" y2="103" stroke="#c83232" stroke-width="1.1"/>
<path d="M699.1,100 L700.7,103 L702.3000000000001,100 Z" fill="#c83232"/>
<line x1="680.6" y1="132" x2="680.6" y2="123" stroke="#2828b4" stroke-width="1.1"/>
<path d="M679.0,126 L680.6,123 L682.2,126 Z" fill="#2828b4"/>
<line x1="700.7" y1="132" x2="700.7" y2="123" stroke="#2828b4" stroke-width="1.1"/>
<path d="M699.1,126 L700.7,123 L702.3000000000001,126 Z" fill="#2828b4"/>
<text x="716.5" y="103.8" font-family='"Liberation Sans",sans-serif' font-size="7.3" fill="#d03030" text-anchor="start" >dn-spin</text>
<text x="718" y="134.3" font-family='"Liberation Sans",sans-serif' font-size="7.3" fill="#3030c0" text-anchor="start" >up-spin</text>
<line x1="673.5" y1="159.3" x2="690" y2="159.3" stroke="#111" stroke-width="1.6"/>
<text x="677.13" y="168.0" font-family='"Liberation Sans",sans-serif' font-size="8.5" fill="#222" text-anchor="start" >d<tspan font-size="5.3" dy="1.8">z²</tspan></text>
<line x1="673.5" y1="188.6" x2="690" y2="188.6" stroke="#111" stroke-width="1.6"/>
<text x="677.13" y="197.29999999999998" font-family='"Liberation Sans",sans-serif' font-size="8.5" fill="#222" text-anchor="start" >d<tspan font-size="5.3" dy="1.8">z²</tspan></text>
<line x1="682" y1="146.6" x2="682" y2="157.8" stroke="#c83232" stroke-width="1.1"/>
<path d="M680.4,154.8 L682,157.8 L683.6,154.8 Z" fill="#c83232"/>
<line x1="682" y1="187" x2="682" y2="175" stroke="#2828b4" stroke-width="1.1"/>
<path d="M680.4,178 L682,175 L683.6,178 Z" fill="#2828b4"/>
<text x="693.8" y="162.3" font-family='"Liberation Sans",sans-serif' font-size="7.3" fill="#d03030" text-anchor="start" >dn-spin</text>
<text x="694.9" y="192.1" font-family='"Liberation Sans",sans-serif' font-size="7.3" fill="#3030c0" text-anchor="start" >up-spin</text>
<line x1="692.6" y1="162" x2="692.6" y2="186" stroke="#555" stroke-width="0.8"/>
<path d="M691.2,165 L692.6,160.5 L694,165 Z" fill="#333"/><path d="M691.2,183 L692.6,187.5 L694,183 Z" fill="#333"/>
<path d="M490,205 C440,190 445,130 522,108" fill="none" stroke="#111" stroke-width="1.2"/>
<path d="M517,106.5 L525.5,106.5 L519.5,112.5 Z" fill="#111"/>
<path d="M606.5,215.8 C640,232 705,232 714,200 C718,186 705,178 696,175" fill="none" stroke="#111" stroke-width="1.2"/>
<path d="M694,173 L702.5,173.5 L697,179.5 Z" fill="#111"/>
<text x="497.7" y="205.6" font-family='"Liberation Sans",sans-serif' font-size="12.9" fill="#222" text-anchor="start" >Crystal field splitting</text>
<text x="386.4" y="229.9" font-family='"Liberation Serif",serif' font-size="26.5" fill="#000" text-anchor="start" >(d)</text>
<line x1="666.7" y1="241.6" x2="666.7" y2="481.7" stroke="#3a9a3a" stroke-width="1" stroke-dasharray="4,2,1,2"/>
<line x1="630.8" y1="292" x2="630.8" y2="362" stroke="#888" stroke-width="0.6"/>
<line x1="647.6" y1="292" x2="647.6" y2="362" stroke="#888" stroke-width="0.6"/>
<line x1="638.8" y1="362" x2="638.8" y2="440" stroke="#888" stroke-width="0.6"/>
<line x1="647.6" y1="362" x2="647.6" y2="440" stroke="#888" stroke-width="0.6"/>
<path d="M408.6,361.5 C412.4,361.5 427.4,362.1 431.6,361.5 C435.8,360.9 433.2,359.6 434.0,358.0 C434.8,356.4 435.3,355.8 436.3,352.0 C437.3,348.2 438.7,341.7 440.0,335.0 C441.3,328.3 442.8,318.2 444.0,312.0 C445.2,305.8 446.1,301.2 447.0,298.0 C447.9,294.8 448.6,292.8 449.4,292.5 C450.2,292.2 451.1,292.2 452.0,296.0 C452.9,299.8 453.7,308.3 455.0,315.0 C456.3,321.7 458.1,331.8 459.8,336.0 C461.5,340.2 463.2,339.2 465.0,340.0 C466.8,340.8 468.9,341.5 470.7,340.5 C472.5,339.5 474.3,335.7 476.0,334.0 C477.7,332.3 479.3,331.2 481.0,330.5 C482.7,329.8 484.4,329.3 486.4,330.0 C488.3,330.7 490.8,332.3 492.7,334.8 C494.6,337.3 496.2,341.6 498.0,345.0 C499.8,348.4 501.8,354.2 503.6,355.0 C505.4,355.8 507.2,351.8 509.0,350.0 C510.8,348.2 512.9,345.0 514.6,344.2 C516.3,343.4 517.4,344.7 519.0,345.0 C520.6,345.3 521.7,346.0 524.0,345.8 C526.3,345.6 529.9,344.8 533.0,344.0 C536.1,343.2 540.0,341.2 542.8,341.0 C545.6,340.8 547.6,342.1 550.0,342.7 C552.4,343.3 554.4,344.2 557.0,344.5 C559.6,344.8 563.2,343.8 565.7,344.2 C568.2,344.6 569.4,345.7 572.0,347.0 C574.6,348.3 578.5,352.0 581.3,352.0 C584.1,352.0 586.4,348.8 589.0,347.0 C591.6,345.2 594.3,343.0 597.0,341.0 C599.7,339.0 602.4,336.8 605.0,335.0 C607.6,333.2 610.5,329.5 612.7,330.0 C614.9,330.5 615.9,334.3 618.0,338.0 C620.1,341.7 623.2,348.7 625.2,352.0 C627.2,355.3 628.4,356.5 630.0,358.0 C631.6,359.5 631.1,360.5 634.6,361.0 C638.1,361.5 647.8,362.8 651.0,361.0 C654.2,359.2 652.8,355.8 654.0,350.0 C655.2,344.2 657.1,332.4 658.2,326.4 C659.3,320.4 659.6,317.1 660.5,314.0 C661.4,310.9 662.6,308.2 663.5,308.0 C664.4,307.8 665.1,310.5 666.0,313.0 C666.9,315.5 667.8,321.3 668.8,322.9 C669.8,324.5 670.8,322.5 672.0,322.5 C673.2,322.5 674.6,321.6 675.8,322.9 C677.0,324.1 677.8,327.1 679.0,330.0 C680.2,332.9 681.7,337.2 682.9,340.5 C684.1,343.8 684.8,347.1 686.0,350.0 C687.2,352.9 688.8,356.1 690.0,358.0 C691.2,359.9 683.2,360.9 693.5,361.5 C703.8,362.1 742.2,361.5 752.0,361.5" fill="none" stroke="#dc3c3c" stroke-width="1.3" stroke-dasharray="0.01,3.2" stroke-linecap="round"/>
<path d="M408.6,361.5 C415.0,361.5 440.2,361.1 447.0,361.5 C453.8,361.9 448.7,362.2 449.5,364.0 C450.3,365.8 451.2,369.1 452.0,372.0 C452.8,374.9 453.4,377.4 454.2,381.7 C455.0,385.9 455.6,391.9 456.6,397.5 C457.6,403.1 458.6,411.2 460.0,415.0 C461.4,418.8 463.2,422.5 465.0,420.0 C466.8,417.5 469.5,406.1 470.9,400.0 C472.3,393.9 472.0,387.2 473.2,383.2 C474.4,379.2 476.5,376.6 478.0,376.1 C479.5,375.6 480.4,378.0 482.0,380.0 C483.6,382.0 485.8,385.9 487.5,388.0 C489.2,390.1 490.3,392.4 492.2,392.7 C494.1,393.0 496.8,392.0 498.6,389.6 C500.5,387.2 501.7,380.9 503.3,378.5 C504.9,376.1 506.4,375.8 508.0,375.0 C509.6,374.2 511.0,372.9 512.8,373.7 C514.6,374.5 516.1,378.8 519.0,380.0 C521.9,381.2 525.7,380.8 530.0,381.0 C534.3,381.2 541.7,381.2 545.0,381.0 C548.3,380.8 546.5,380.2 550.0,380.0 C553.5,379.8 560.5,380.8 565.7,380.0 C570.9,379.2 577.2,377.2 581.3,375.5 C585.3,373.8 587.4,371.8 590.0,370.0 C592.6,368.2 594.5,364.8 597.0,364.6 C599.5,364.4 602.4,367.4 605.0,369.0 C607.6,370.6 610.5,372.2 612.7,374.0 C614.9,375.8 615.9,377.9 618.0,380.0 C620.1,382.1 623.5,385.8 625.2,386.5 C626.9,387.2 627.0,385.1 628.0,384.0 C629.0,382.9 630.5,382.0 631.5,380.0 C632.5,378.0 633.0,375.0 634.0,372.0 C635.0,369.0 634.7,363.8 637.7,362.0 C640.7,360.2 648.3,361.5 652.0,361.5 C655.7,361.5 658.2,361.6 660.0,362.0 C661.8,362.4 661.8,362.3 663.0,364.0 C664.2,365.7 665.5,367.7 667.0,372.0 C668.5,376.3 670.6,383.3 672.3,390.0 C674.0,396.7 675.2,405.3 677.0,412.0 C678.8,418.7 681.2,428.7 682.9,430.4 C684.6,432.1 685.8,425.2 687.0,422.0 C688.2,418.8 688.8,415.3 690.0,411.0 C691.2,406.7 692.8,400.1 694.0,396.0 C695.2,391.9 696.0,389.6 697.0,386.4 C698.0,383.2 698.8,380.2 700.0,377.0 C701.2,373.8 702.7,369.6 704.0,367.0 C705.3,364.4 699.6,362.4 707.6,361.5 C715.6,360.6 744.6,361.5 752.0,361.5" fill="none" stroke="#dc3c3c" stroke-width="1.3" stroke-dasharray="0.01,3.2" stroke-linecap="round"/>
<path d="M408.6,361.5 C412.3,361.5 426.4,362.4 431.0,361.5 C435.6,360.6 434.3,359.2 436.0,356.0 C437.7,352.8 439.5,346.3 441.0,342.0 C442.5,337.7 443.7,333.3 445.0,330.0 C446.3,326.7 447.6,323.3 448.8,322.3 C450.0,321.3 450.7,322.9 452.0,324.0 C453.3,325.1 455.1,328.9 456.6,328.6 C458.1,328.3 459.8,324.4 461.0,322.0 C462.2,319.6 462.9,315.8 464.0,314.0 C465.1,312.2 466.4,310.6 467.6,311.3 C468.8,312.0 469.9,314.6 471.0,318.0 C472.1,321.4 473.0,327.9 474.0,332.0 C475.0,336.1 475.8,339.5 477.0,342.7 C478.2,345.9 479.4,348.9 481.0,351.0 C482.6,353.1 484.6,355.2 486.4,355.2 C488.2,355.2 489.9,353.1 492.0,351.0 C494.1,348.9 496.7,345.0 498.9,342.7 C501.1,340.4 502.8,338.3 505.0,337.0 C507.2,335.7 509.8,334.3 512.0,334.8 C514.2,335.3 516.0,338.2 518.0,340.0 C520.0,341.8 522.3,344.8 524.0,345.8 C525.7,346.8 526.4,346.5 528.0,346.0 C529.6,345.5 531.7,344.8 533.4,343.0 C535.1,341.2 536.6,337.8 538.0,335.0 C539.4,332.2 540.7,328.1 542.0,326.0 C543.3,323.9 544.7,323.0 546.0,322.3 C547.3,321.6 548.5,320.7 550.0,322.0 C551.5,323.3 552.9,326.8 555.0,330.0 C557.1,333.2 560.5,339.2 562.5,341.0 C564.5,342.8 565.4,341.2 567.0,341.0 C568.6,340.8 570.5,338.8 572.0,339.5 C573.5,340.2 574.5,342.4 576.0,345.0 C577.5,347.6 579.5,352.8 581.3,355.2 C583.1,357.6 584.9,358.6 587.0,359.5 C589.1,360.4 591.9,362.1 593.9,360.8 C595.9,359.6 597.2,355.3 599.0,352.0 C600.8,348.7 603.0,344.7 604.8,341.0 C606.6,337.3 608.1,333.4 610.0,330.0 C611.9,326.6 614.6,320.7 616.4,320.7 C618.2,320.7 619.3,325.3 621.0,330.0 C622.7,334.7 625.1,344.3 626.8,349.0 C628.5,353.7 629.5,356.0 631.0,358.0 C632.5,360.0 633.0,360.5 636.0,361.0 C639.0,361.5 646.0,361.8 648.7,361.0 C651.4,360.2 650.7,358.8 652.0,356.0 C653.3,353.2 654.8,348.6 656.4,344.0 C658.0,339.4 660.3,329.5 661.7,328.2 C663.1,326.9 664.1,333.6 665.0,336.0 C665.9,338.4 666.0,341.5 667.0,342.3 C668.0,343.1 669.2,341.6 671.0,341.0 C672.8,340.4 676.1,338.5 677.6,338.8 C679.1,339.1 679.1,341.2 680.0,343.0 C680.9,344.8 681.5,346.8 682.9,349.3 C684.3,351.8 686.7,356.0 688.2,358.0 C689.7,360.0 681.4,360.9 692.0,361.5 C702.6,362.1 742.0,361.5 752.0,361.5" fill="none" stroke="#1e1ea0" stroke-width="1.1" stroke-dasharray="4,2.4"/>
<path d="M408.6,361.5 C415.4,361.5 441.6,360.2 449.5,361.5 C457.4,362.8 453.9,365.1 455.8,369.0 C457.7,372.9 459.3,379.8 460.6,384.8 C461.9,389.8 462.5,394.0 463.7,399.0 C464.9,404.0 466.1,410.7 468.0,415.0 C469.9,419.3 472.7,425.5 475.0,425.0 C477.3,424.5 480.2,416.3 482.0,412.0 C483.8,407.7 484.6,404.1 486.0,399.0 C487.4,393.9 488.9,386.7 490.7,381.7 C492.5,376.7 494.9,371.1 497.0,369.0 C499.1,366.9 501.2,368.6 503.3,369.0 C505.4,369.4 507.9,370.3 509.7,371.4 C511.5,372.4 512.9,373.5 514.4,375.3 C515.9,377.1 517.4,379.6 519.0,382.0 C520.6,384.4 521.9,389.7 524.0,389.6 C526.1,389.6 529.5,383.6 531.8,381.7 C534.1,379.8 536.1,378.3 538.0,378.5 C539.9,378.7 541.4,380.6 543.0,383.0 C544.6,385.4 545.9,390.2 547.6,392.7 C549.3,395.2 550.5,397.2 553.0,398.0 C555.5,398.8 560.2,398.8 562.5,397.5 C564.8,396.2 565.7,393.1 567.0,390.0 C568.3,386.9 569.1,381.0 570.4,378.7 C571.7,376.4 573.2,376.3 575.0,376.0 C576.8,375.7 579.1,378.0 581.3,377.0 C583.5,376.0 585.4,372.2 588.0,370.0 C590.6,367.8 594.3,363.8 597.0,363.5 C599.7,363.2 601.7,365.8 604.0,368.0 C606.3,370.2 608.8,373.0 611.0,377.0 C613.2,381.0 615.2,387.6 617.0,392.0 C618.8,396.4 620.5,403.0 622.0,403.7 C623.5,404.4 624.7,399.4 626.0,396.0 C627.3,392.6 628.5,388.2 629.9,383.4 C631.3,378.6 633.2,370.6 634.6,367.0 C636.0,363.4 632.9,362.4 638.0,361.5 C643.1,360.6 660.3,360.4 665.3,361.5 C670.3,362.6 666.8,365.0 668.0,368.0 C669.2,371.0 670.8,375.1 672.3,379.3 C673.8,383.5 675.5,388.9 677.0,393.0 C678.5,397.1 679.9,403.0 681.1,404.0 C682.3,405.0 682.8,401.1 684.0,399.0 C685.2,396.9 686.9,393.9 688.2,391.7 C689.5,389.5 690.5,387.5 692.0,386.0 C693.5,384.5 695.7,384.5 697.0,382.8 C698.3,381.1 699.1,378.4 700.0,376.0 C700.9,373.6 701.3,371.1 702.3,368.7 C703.3,366.3 697.5,362.7 705.8,361.5 C714.1,360.3 744.3,361.5 752.0,361.5" fill="none" stroke="#1e1ea0" stroke-width="1.1" stroke-dasharray="4,2.4"/>
<path d="M408.6,361.5 C414.8,361.5 438.8,361.6 446.0,361.3 C453.2,361.1 450.0,361.2 452.0,360.0 C454.0,358.8 456.2,356.3 458.0,354.0 C459.8,351.7 461.2,347.9 463.0,346.0 C464.8,344.1 467.1,342.3 468.8,342.5 C470.5,342.7 471.6,345.1 473.0,347.0 C474.4,348.9 475.8,352.4 477.0,354.0 C478.2,355.6 478.4,356.3 480.0,356.5 C481.6,356.7 484.7,355.8 486.4,355.2 C488.1,354.6 488.4,353.8 490.0,353.0 C491.6,352.2 494.1,351.0 495.8,350.5 C497.5,350.0 498.5,349.8 500.0,350.0 C501.5,350.2 503.5,352.0 505.0,352.0 C506.5,352.0 507.4,350.8 509.0,350.0 C510.6,349.2 512.9,347.5 514.6,347.4 C516.3,347.3 517.4,348.5 519.0,349.5 C520.6,350.5 522.5,353.2 524.0,353.6 C525.5,354.0 526.4,352.8 528.0,352.0 C529.6,351.2 531.7,350.5 533.4,349.0 C535.1,347.5 536.4,345.7 538.0,343.0 C539.6,340.3 541.4,335.8 543.0,333.0 C544.6,330.2 546.3,327.4 547.5,326.4 C548.7,325.4 548.6,325.9 550.0,327.0 C551.4,328.1 553.9,330.7 556.0,333.0 C558.1,335.3 560.8,339.5 562.5,341.0 C564.2,342.5 564.7,342.0 566.0,342.0 C567.3,342.0 568.9,340.2 570.4,341.0 C571.9,341.8 573.2,344.4 575.0,347.0 C576.8,349.6 579.3,354.7 581.3,356.8 C583.3,358.9 584.9,359.0 587.0,359.5 C589.1,360.0 592.1,361.2 593.9,360.0 C595.7,358.8 596.7,354.9 598.0,352.0 C599.3,349.1 600.4,346.7 601.7,342.7 C603.0,338.7 604.7,331.9 606.0,328.0 C607.3,324.1 608.5,320.3 609.5,319.0 C610.5,317.7 611.0,318.2 612.0,320.0 C613.0,321.8 614.5,326.2 615.8,330.0 C617.1,333.8 618.4,338.8 620.0,343.0 C621.6,347.2 623.3,352.2 625.2,355.2 C627.1,358.2 629.0,359.9 631.5,361.0 C634.0,362.1 636.1,361.5 640.0,361.5 C643.9,361.5 650.8,361.1 655.0,360.8 C659.2,360.5 661.7,359.9 665.0,359.8 C668.3,359.7 671.2,360.0 675.0,360.2 C678.8,360.4 683.8,360.8 688.0,361.0 C692.2,361.2 689.3,361.4 700.0,361.5 C710.7,361.6 743.3,361.5 752.0,361.5" fill="none" stroke="#3cd23c" stroke-width="1.3"/>
<path d="M408.6,361.5 C415.4,361.5 441.1,361.3 449.5,361.5 C457.9,361.7 456.1,362.1 459.0,362.7 C461.9,363.3 464.9,363.4 467.0,365.0 C469.1,366.6 470.0,369.8 471.7,372.2 C473.4,374.6 475.5,378.5 477.2,379.3 C478.9,380.1 480.3,378.7 482.0,377.0 C483.7,375.3 485.8,370.6 487.5,369.0 C489.2,367.4 490.3,366.9 492.2,367.4 C494.1,367.9 496.6,370.8 498.6,372.2 C500.6,373.6 502.1,376.4 504.0,376.1 C505.9,375.8 507.7,372.2 509.7,370.6 C511.7,369.0 513.4,366.6 516.0,366.6 C518.6,366.6 522.3,369.9 525.5,370.6 C528.7,371.3 532.4,369.3 535.0,370.6 C537.6,371.9 538.7,374.9 541.3,378.5 C543.9,382.1 547.8,389.4 550.8,392.0 C553.8,394.6 556.4,396.3 559.4,394.3 C562.4,392.3 565.7,382.8 568.8,380.2 C571.9,377.6 575.1,381.0 578.2,378.7 C581.3,376.4 584.5,368.8 587.6,366.2 C590.7,363.6 594.1,361.7 597.0,363.0 C599.9,364.3 602.6,368.7 604.8,374.0 C607.0,379.3 608.2,389.0 610.0,395.0 C611.8,401.0 614.3,408.8 615.8,410.0 C617.3,411.2 617.7,406.2 619.0,402.0 C620.3,397.8 621.5,391.5 623.6,385.0 C625.7,378.5 628.8,366.9 631.5,363.0 C634.2,359.1 635.2,361.6 640.0,361.5 C644.8,361.4 654.2,362.0 660.0,362.2 C665.8,362.4 670.0,362.8 675.0,362.8 C680.0,362.8 685.0,362.2 690.0,362.0 C695.0,361.8 694.7,361.6 705.0,361.5 C715.3,361.4 744.2,361.5 752.0,361.5" fill="none" stroke="#3cd23c" stroke-width="1.3"/>
<rect x="408.6" y="241.6" width="344.1" height="240.1" fill="none" stroke="#333" stroke-width="1.1"/>
<line x1="408.7" y1="481.7" x2="408.7" y2="476.7" stroke="#333" stroke-width="0.9"/>
<line x1="419.5" y1="481.7" x2="419.5" y2="479.09999999999997" stroke="#333" stroke-width="0.9"/>
<line x1="430.2" y1="481.7" x2="430.2" y2="479.09999999999997" stroke="#333" stroke-width="0.9"/>
<line x1="441.0" y1="481.7" x2="441.0" y2="479.09999999999997" stroke="#333" stroke-width="0.9"/>
<line x1="451.7" y1="481.7" x2="451.7" y2="476.7" stroke="#333" stroke-width="0.9"/>
<line x1="462.5" y1="481.7" x2="462.5" y2="479.09999999999997" stroke="#333" stroke-width="0.9"/>
<line x1="473.2" y1="481.7" x2="473.2" y2="479.09999999999997" stroke="#333" stroke-width="0.9"/>
<line x1="484.0" y1="481.7" x2="484.0" y2="479.09999999999997" stroke="#333" stroke-width="0.9"/>
<line x1="494.7" y1="481.7" x2="494.7" y2="476.7" stroke="#333" stroke-width="0.9"/>
<line x1="505.5" y1="481.7" x2="505.5" y2="479.09999999999997" stroke="#333" stroke-width="0.9"/>
<line x1="516.2" y1="481.7" x2="516.2" y2="479.09999999999997" stroke="#333" stroke-width="0.9"/>
<line x1="527.0" y1="481.7" x2="527.0" y2="479.09999999999997" stroke="#333" stroke-width="0.9"/>
<line x1="537.7" y1="481.7" x2="537.7" y2="476.7" stroke="#333" stroke-width="0.9"/>
<line x1="548.5" y1="481.7" x2="548.5" y2="479.09999999999997" stroke="#333" stroke-width="0.9"/>
<line x1="559.2" y1="481.7" x2="559.2" y2="479.09999999999997" stroke="#333" stroke-width="0.9"/>
<line x1="570.0" y1="481.7" x2="570.0" y2="479.09999999999997" stroke="#333" stroke-width="0.9"/>
<line x1="580.7" y1="481.7" x2="580.7" y2="476.7" stroke="#333" stroke-width="0.9"/>
<line x1="591.5" y1="481.7" x2="591.5" y2="479.09999999999997" stroke="#333" stroke-width="0.9"/>
<line x1="602.2" y1="481.7" x2="602.2" y2="479.09999999999997" stroke="#333" stroke-width="0.9"/>
<line x1="613.0" y1="481.7" x2="613.0" y2="479.09999999999997" stroke="#333" stroke-width="0.9"/>
<line x1="623.7" y1="481.7" x2="623.7" y2="476.7" stroke="#333" stroke-width="0.9"/>
<line x1="634.5" y1="481.7" x2="634.5" y2="479.09999999999997" stroke="#333" stroke-width="0.9"/>
<line x1="645.2" y1="481.7" x2="645.2" y2="479.09999999999997" stroke="#333" stroke-width="0.9"/>
<line x1="656.0" y1="481.7" x2="656.0" y2="479.09999999999997" stroke="#333" stroke-width="0.9"/>
<line x1="666.7" y1="481.7" x2="666.7" y2="476.7" stroke="#333" stroke-width="0.9"/>
<line x1="677.5" y1="481.7" x2="677.5" y2="479.09999999999997" stroke="#333" stroke-width="0.9"/>
<line x1="688.2" y1="481.7" x2="688.2" y2="479.09999999999997" stroke="#333" stroke-width="0.9"/>
<line x1="699.0" y1="481.7" x2="699.0" y2="479.09999999999997" stroke="#333" stroke-width="0.9"/>
<line x1="709.7" y1="481.7" x2="709.7" y2="476.7" stroke="#333" stroke-width="0.9"/>
<line x1="720.5" y1="481.7" x2="720.5" y2="479.09999999999997" stroke="#333" stroke-width="0.9"/>
<line x1="731.2" y1="481.7" x2="731.2" y2="479.09999999999997" stroke="#333" stroke-width="0.9"/>
<line x1="742.0" y1="481.7" x2="742.0" y2="479.09999999999997" stroke="#333" stroke-width="0.9"/>
<line x1="752.7" y1="481.7" x2="752.7" y2="476.7" stroke="#333" stroke-width="0.9"/>
<text x="407.20000000000005" y="492.5" font-family='"Liberation Serif",serif' font-size="10.5" fill="#333" text-anchor="middle" >-6</text>
<text x="450.20000000000005" y="492.5" font-family='"Liberation Serif",serif' font-size="10.5" fill="#333" text-anchor="middle" >-5</text>
<text x="493.20000000000005" y="492.5" font-family='"Liberation Serif",serif' font-size="10.5" fill="#333" text-anchor="middle" >-4</text>
<text x="536.2" y="492.5" font-family='"Liberation Serif",serif' font-size="10.5" fill="#333" text-anchor="middle" >-3</text>
<text x="579.2" y="492.5" font-family='"Liberation Serif",serif' font-size="10.5" fill="#333" text-anchor="middle" >-2</text>
<text x="622.2" y="492.5" font-family='"Liberation Serif",serif' font-size="10.5" fill="#333" text-anchor="middle" >-1</text>
<text x="666.7" y="492.5" font-family='"Liberation Serif",serif' font-size="10.5" fill="#333" text-anchor="middle" >0</text>
<text x="709.7" y="492.5" font-family='"Liberation Serif",serif' font-size="10.5" fill="#333" text-anchor="middle" >1</text>
<text x="752.7" y="492.5" font-family='"Liberation Serif",serif' font-size="10.5" fill="#333" text-anchor="middle" >2</text>
<text x="601.5" y="506" font-family='"Liberation Serif",serif' font-size="17.8" text-anchor="middle" fill="#111">Energy (eV)</text>
<text transform="translate(402.5,362.5) rotate(-90)" font-family='"Liberation Serif",serif' font-size="17.9" text-anchor="middle" fill="#111">DOS (1/eV)</text>
<text x="635" y="289" font-family='"Liberation Sans",sans-serif' font-size="11.6" fill="#111" text-anchor="middle" >1.02 eV</text>
<text x="613.4" y="300" font-family='"Liberation Sans",sans-serif' font-size="8.6" fill="#222" text-anchor="middle" >Crystal field splitting</text>
<line x1="631" y1="295.7" x2="647.4" y2="295.7" stroke="#333" stroke-width="0.7"/>
<text x="642.5" y="451" font-family='"Liberation Sans",sans-serif' font-size="9.6" fill="#111" text-anchor="middle" >0.80 eV</text>
<text x="610.4" y="463" font-family='"Liberation Sans",sans-serif' font-size="9.5" fill="#222" text-anchor="middle" >Hund-exchange splitting</text>
<line x1="639" y1="439" x2="647.4" y2="439" stroke="#333" stroke-width="0.7"/>
<rect x="417.8" y="400.1" width="111.2" height="66.4" fill="#fff" stroke="#333" stroke-width="1"/>
<line x1="423.4" y1="412" x2="441.6" y2="412" stroke="#44cc44" stroke-width="1.3"/>
<line x1="423.4" y1="432" x2="441.6" y2="432" stroke="#d03030" stroke-width="1.2" stroke-dasharray="1,3"/>
<line x1="423.4" y1="453.5" x2="441.6" y2="453.5" stroke="#2020a0" stroke-width="1.2" stroke-dasharray="4,3"/>
<text x="451.8" y="414.4" font-family='"Liberation Serif",serif' font-size="13" fill="#111">A(d<tspan font-size="9" dy="3">z</tspan><tspan font-size="7" dy="-5">2</tspan><tspan dy="2">)</tspan></text>
<text x="451.8" y="434.3" font-family='"Liberation Serif",serif' font-size="13" fill="#111">E<tspan font-size="9" dy="3">1</tspan><tspan dy="-3">(d </tspan><tspan font-size="10" dy="3">xy</tspan><tspan dy="-3">+d</tspan><tspan font-size="10" dy="3">xz</tspan><tspan dy="-3">)</tspan></text>
<text x="451.8" y="455.3" font-family='"Liberation Serif",serif' font-size="13" fill="#111">E<tspan font-size="9" dy="3">2</tspan><tspan dy="-3">(d </tspan><tspan font-size="10" dy="3">xy</tspan><tspan dy="-3">+d</tspan><tspan font-size="10" dy="3">x</tspan><tspan font-size="7" dy="-5">2</tspan><tspan font-size="10" dy="2">-y</tspan><tspan font-size="7" dy="-3">2</tspan><tspan dy="3">)</tspan></text>
<rect x="522" y="239" width="64" height="5" fill="#fff"/>
<polygon points="554,217.4 521.7,257.2 548.7,289 576,261.5 581.7,248.8" fill="#b4b4b4" stroke="#a0a0a0" stroke-width="0.5"/>
<polygon points="554,217.4 526.1,244.4 521.7,257.2" fill="#8c8c8c"/>
<polygon points="554,217.4 581.7,248.8 576,261.5" fill="#8e8e8e"/>
<polygon points="554,217.4 521.7,257.2 576,261.5" fill="#bdbdbd" opacity="0.9"/>
<polygon points="521.7,257.2 548.7,289 576,261.5" fill="#a8a8a8" opacity="0.9"/>
<circle cx="550.8" cy="253.2" r="6.5" fill="#c4c4c4"/>
<line x1="550.8" y1="253.2" x2="554" y2="217.4" stroke="#b6d8b0" stroke-width="1.2" opacity="0.6"/>
<line x1="550.8" y1="253.2" x2="526.1" y2="244.4" stroke="#b6d8b0" stroke-width="1.2" opacity="0.6"/>
<line x1="550.8" y1="253.2" x2="521.7" y2="257.2" stroke="#b6d8b0" stroke-width="1.2" opacity="0.6"/>
<line x1="550.8" y1="253.2" x2="581.7" y2="248.8" stroke="#b6d8b0" stroke-width="1.2" opacity="0.6"/>
<line x1="550.8" y1="253.2" x2="576" y2="261.5" stroke="#b6d8b0" stroke-width="1.2" opacity="0.6"/>
<line x1="550.8" y1="253.2" x2="548.7" y2="289" stroke="#b6d8b0" stroke-width="1.2" opacity="0.6"/>
<circle cx="554" cy="217.4" r="5.3" fill="#3fd22a" stroke="#2aa018" stroke-width="0.6"/>
<circle cx="552.5" cy="215.8" r="1.9" fill="#8af07a" opacity="0.7"/>
<circle cx="526.1" cy="244.4" r="5" fill="#3fd22a" stroke="#2aa018" stroke-width="0.6"/>
<circle cx="524.6" cy="242.8" r="1.8" fill="#8af07a" opacity="0.7"/>
<circle cx="521.7" cy="257.2" r="5.4" fill="#3fd22a" stroke="#2aa018" stroke-width="0.6"/>
<circle cx="520.2" cy="255.6" r="1.9" fill="#8af07a" opacity="0.7"/>
<circle cx="581.7" cy="248.8" r="5.2" fill="#3fd22a" stroke="#2aa018" stroke-width="0.6"/>
<circle cx="580.2" cy="247.20000000000002" r="1.8" fill="#8af07a" opacity="0.7"/>
<circle cx="576" cy="261.5" r="5.4" fill="#3fd22a" stroke="#2aa018" stroke-width="0.6"/>
<circle cx="574.5" cy="259.9" r="1.9" fill="#8af07a" opacity="0.7"/>
<circle cx="548.7" cy="289" r="5.3" fill="#3fd22a" stroke="#2aa018" stroke-width="0.6"/>
<circle cx="547.2" cy="287.4" r="1.9" fill="#8af07a" opacity="0.7"/>
</svg></body></html>
